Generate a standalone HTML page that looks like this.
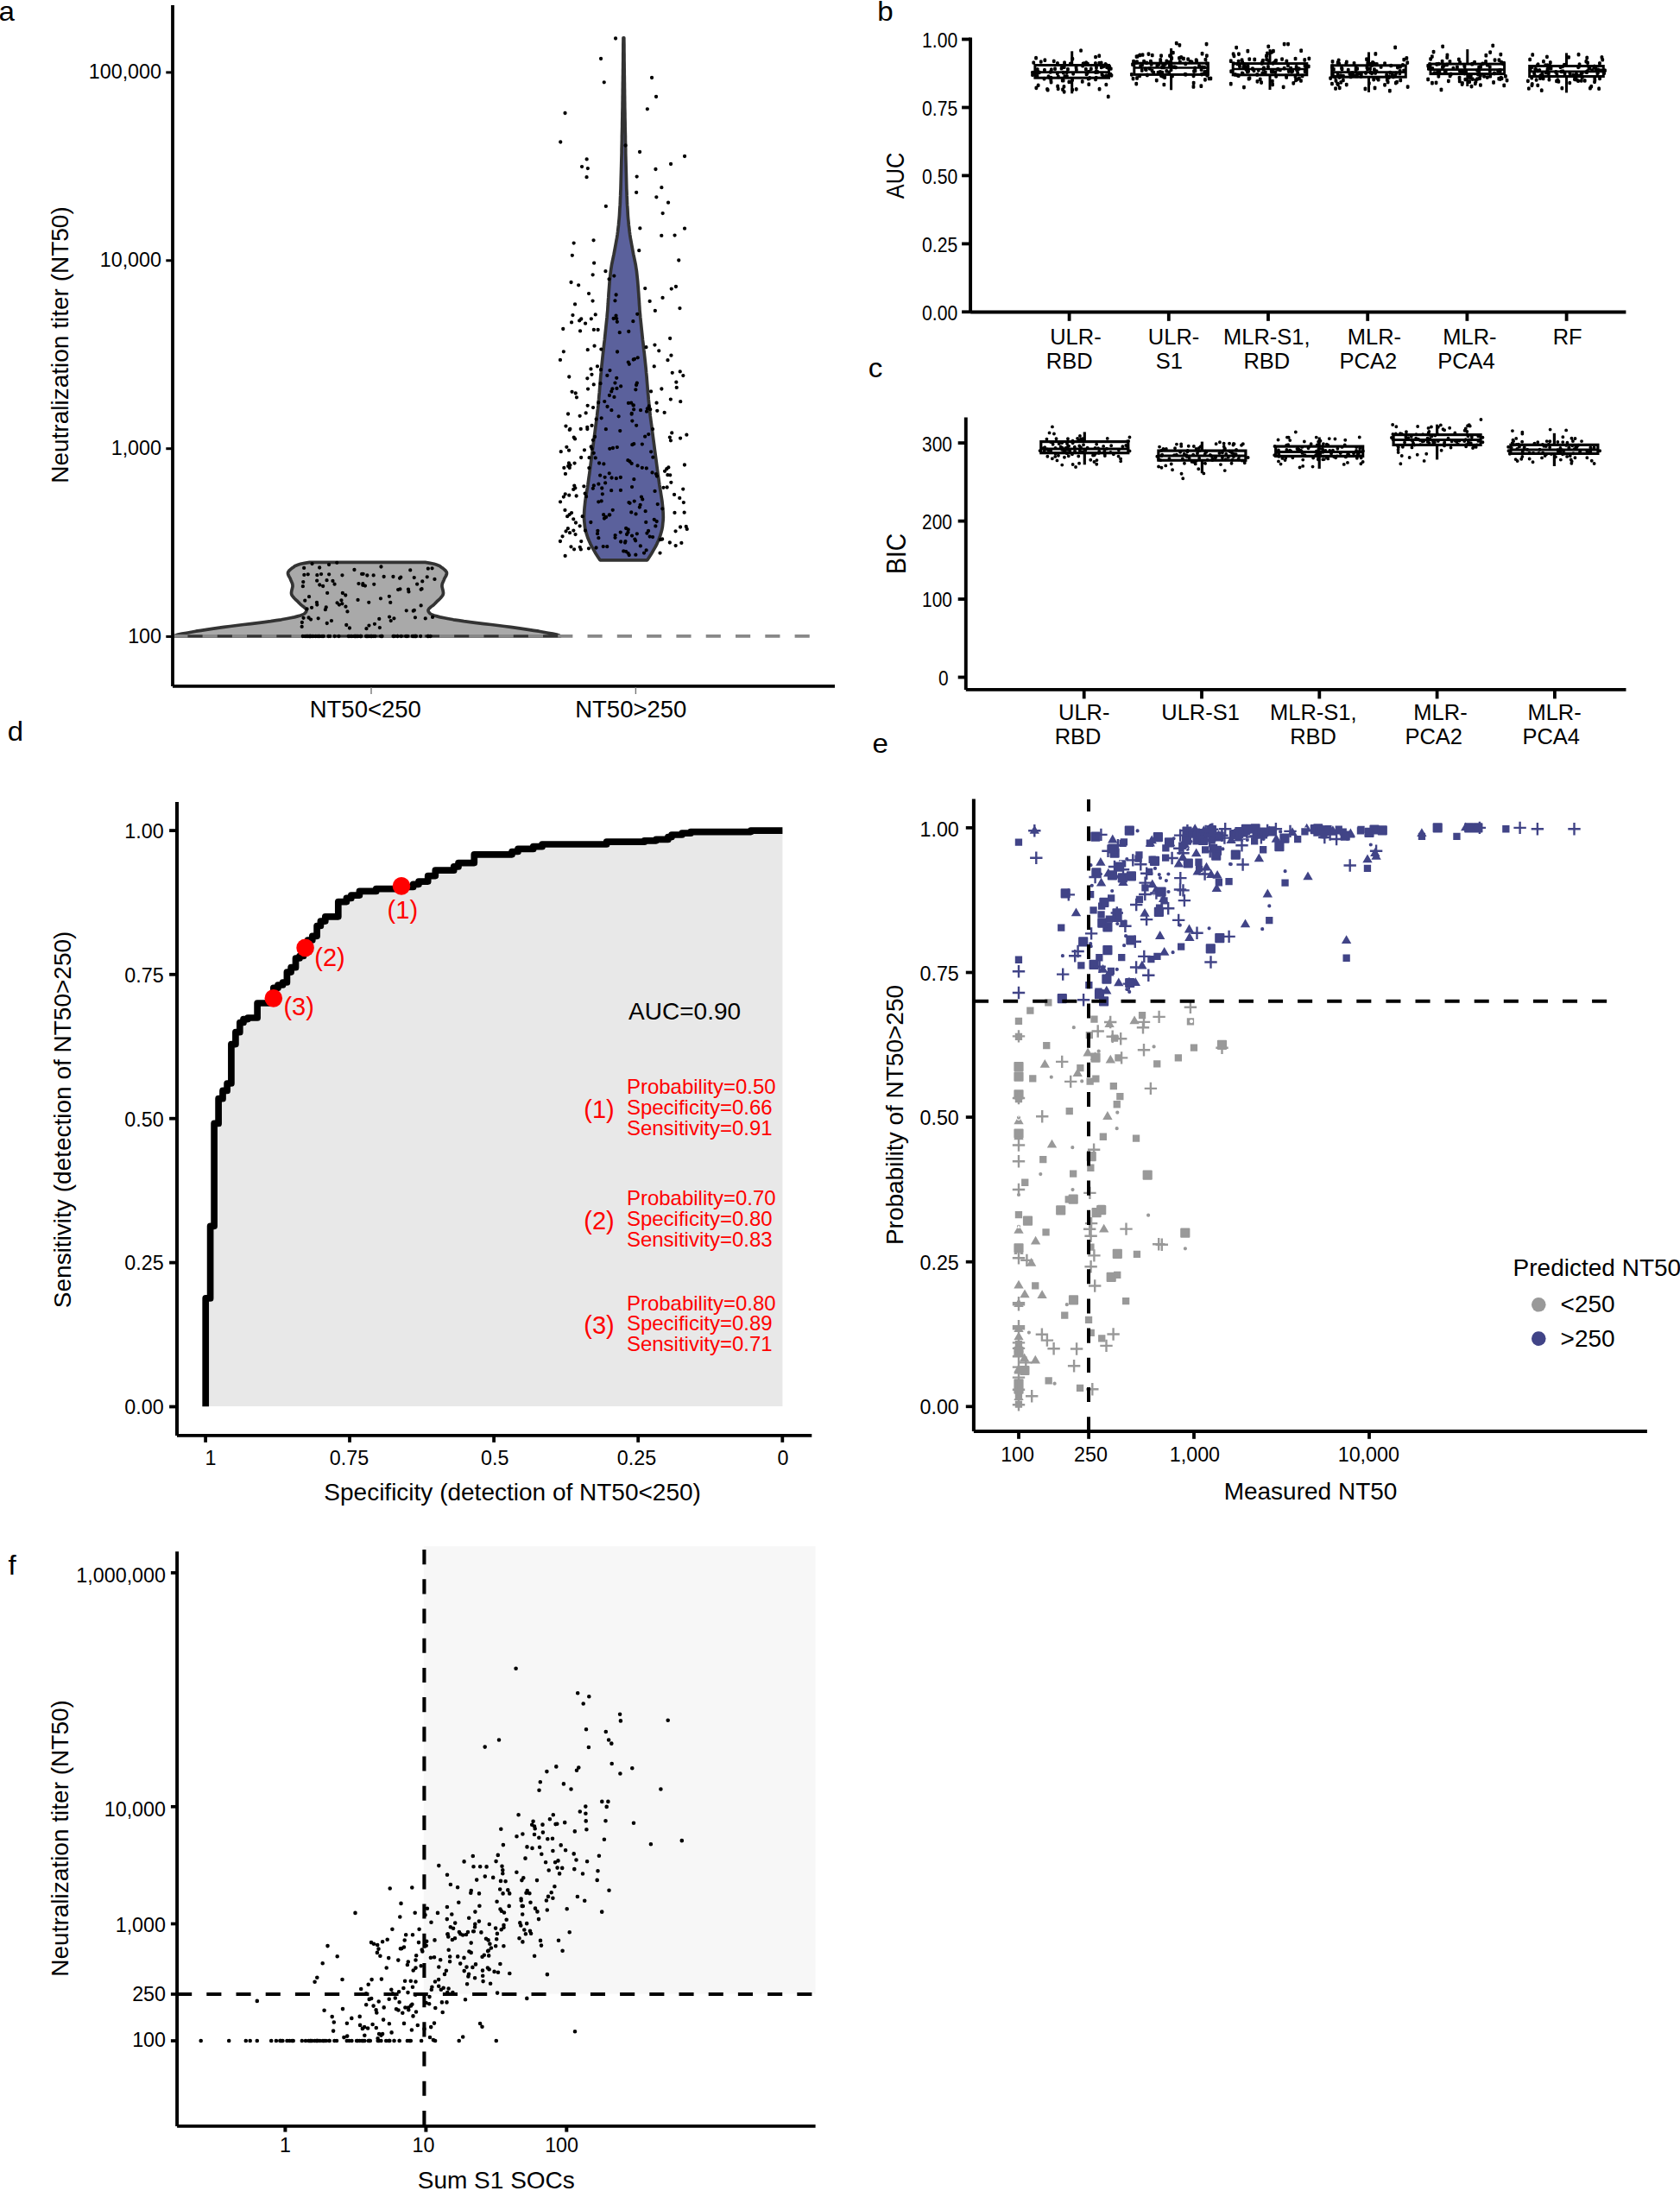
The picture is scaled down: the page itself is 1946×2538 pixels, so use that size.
<!DOCTYPE html>
<html lang="en"><head><meta charset="utf-8"><title>Figure</title>
<style>html,body{margin:0;padding:0;background:#fff}svg{display:block}text{white-space:pre}</style>
</head><body>
<svg width="1946" height="2538" viewBox="0 0 1946 2538" font-family='"Liberation Sans", Arial, Helvetica, sans-serif' fill="#000">
<rect width="1946" height="2538" fill="#fff"/>
<g id="panel-a">
<text transform="translate(-1.6,24.2) scale(1.060,1)" font-size="31.3">a</text>
<clipPath id="clipa"><rect x="200.3" y="0" width="800" height="800"/></clipPath>
<path clip-path="url(#clipa)" d="M492.5 651.4L498.3 652.4L502.9 653.3L505.9 654.3L508.3 655.2L510.1 656.2L511.4 657.2L512.8 658.1L514 659.1L515.1 660.1L516.1 661L516.8 662L517.3 662.9L517.5 663.9L517.4 664.9L517.1 665.8L516.7 666.8L516.2 667.8L515.6 668.7L515.1 669.7L514.6 670.6L514.3 671.6L513.9 672.6L513.4 673.5L513 674.5L512.6 675.4L512.3 676.4L512.1 677.4L512 678.3L512 679.3L512.2 680.3L512.4 681.2L512.6 682.2L512.9 683.1L513.1 684.1L513.3 685.1L513.4 686L513.5 687L513.4 687.9L513.1 688.9L512.6 689.9L511.9 690.8L511.2 691.8L510.3 692.8L509.4 693.7L508.4 694.7L507.3 695.6L506.3 696.6L505.4 697.6L504.4 698.5L503.5 699.5L502.5 700.5L501.3 701.4L500 702.4L498.8 703.3L497.7 704.3L496.8 705.3L496.2 706.2L496 707.2L496.2 708.1L496.7 709.1L497.6 710.1L498.5 711L500.3 712L503 713L506.2 713.9L509.9 714.9L514.4 715.8L519.6 716.8L525.2 717.8L531 718.7L537.4 719.7L544.6 720.6L552.4 721.6L560.6 722.6L568.8 723.5L576.8 724.5L584.5 725.5L591.5 726.4L598.5 727.4L605.3 728.3L611.9 729.3L618.2 730.3L624.1 731.2L629.6 732.2L635 733.2L640.3 734.1L644.7 735.1L647.6 736L649 737L202 737L203.4 736L206.3 735.1L210.7 734.1L216 733.2L221.4 732.2L226.9 731.2L232.8 730.3L239.1 729.3L245.7 728.3L252.5 727.4L259.5 726.4L266.5 725.5L274.2 724.5L282.2 723.5L290.4 722.6L298.6 721.6L306.4 720.6L313.6 719.7L320 718.7L325.8 717.8L331.4 716.8L336.6 715.8L341.1 714.9L344.8 713.9L348 713L350.7 712L352.5 711L353.4 710.1L354.3 709.1L354.8 708.1L355 707.2L354.8 706.2L354.2 705.3L353.3 704.3L352.2 703.3L351 702.4L349.7 701.4L348.5 700.5L347.5 699.5L346.6 698.5L345.6 697.6L344.7 696.6L343.7 695.6L342.6 694.7L341.6 693.7L340.7 692.8L339.8 691.8L339.1 690.8L338.4 689.9L337.9 688.9L337.6 687.9L337.5 687L337.6 686L337.7 685.1L337.9 684.1L338.1 683.1L338.4 682.2L338.6 681.2L338.8 680.3L339 679.3L339 678.3L338.9 677.4L338.7 676.4L338.4 675.4L338 674.5L337.6 673.5L337.1 672.6L336.7 671.6L336.4 670.6L335.9 669.7L335.4 668.7L334.8 667.8L334.3 666.8L333.9 665.8L333.6 664.9L333.5 663.9L333.7 662.9L334.2 662L334.9 661L335.9 660.1L337 659.1L338.2 658.1L339.6 657.2L340.9 656.2L342.7 655.2L345.1 654.3L348.1 653.3L352.7 652.4L358.5 651.4Z" fill="#a9a9a9" stroke="#333" stroke-width="3.7" stroke-linejoin="round"/>
<path d="M722.8 43.8L722.8 47.6L722.9 51.4L722.9 55.2L722.9 59L723 62.8L723 66.6L723 70.4L723.1 74.2L723.1 78L723.2 81.9L723.2 85.7L723.3 89.5L723.3 93.3L723.4 97.1L723.4 100.9L723.5 104.7L723.5 108.5L723.6 112.3L723.6 116.1L723.7 119.9L723.7 123.7L723.8 127.5L723.9 131.3L723.9 135.1L724 138.9L724.1 142.7L724.1 146.5L724.2 150.3L724.3 154.1L724.4 158L724.4 161.8L724.5 165.6L724.6 169.4L724.7 173.2L724.7 177L724.8 180.8L724.9 184.6L725 188.4L725.1 192.2L725.2 196L725.3 199.8L725.4 203.6L725.5 207.4L725.6 211.2L725.7 215L725.8 218.8L726 222.6L726.1 226.4L726.3 230.2L726.4 234.1L726.6 237.9L726.9 241.7L727.1 245.5L727.3 249.3L727.6 253.1L728 256.9L728.3 260.7L728.8 264.5L729.2 268.3L729.7 272.1L730.3 275.9L731 279.7L731.7 283.5L732.4 287.3L733.1 291.1L733.8 294.9L734.6 298.7L735.4 302.5L736.2 306.3L736.8 310.2L737.4 314L737.8 317.8L738.2 321.6L738.6 325.4L738.9 329.2L739.2 333L739.5 336.8L739.8 340.6L740 344.4L740.3 348.2L740.5 352L740.8 355.8L741 359.6L741.4 363.4L741.7 367.2L742.1 371L742.5 374.8L742.9 378.6L743.3 382.4L743.7 386.3L744.1 390.1L744.5 393.9L745 397.7L745.4 401.5L745.8 405.3L746.3 409.1L746.7 412.9L747.1 416.7L747.5 420.5L747.9 424.3L748.3 428.1L748.6 431.9L749 435.7L749.3 439.5L749.6 443.3L749.9 447.1L750.2 450.9L750.5 454.7L750.9 458.5L751.2 462.4L751.6 466.2L751.9 470L752.3 473.8L752.8 477.6L753.2 481.4L753.7 485.2L754.2 489L754.7 492.8L755.2 496.6L755.7 500.4L756.2 504.2L756.7 508L757.2 511.8L757.7 515.6L758.2 519.4L758.7 523.2L759.2 527L759.7 530.8L760.2 534.6L760.7 538.5L761.2 542.3L761.7 546.1L762.2 549.9L762.8 553.7L763.3 557.5L763.8 561.3L764.4 565.1L765.1 568.9L765.7 572.7L766.3 576.5L766.9 580.3L767.3 584.1L767.7 587.9L768 591.7L768.2 595.5L768.3 599.3L768.1 603.1L767.7 606.9L767.3 610.7L766.5 614.6L765.4 618.4L764.2 622.2L762.7 626L761 629.8L759.1 633.6L756.9 637.4L754.7 641.2L752.3 645L749.8 648.8L695 648.8L692.5 645L690.1 641.2L687.9 637.4L685.7 633.6L683.8 629.8L682.1 626L680.6 622.2L679.4 618.4L678.3 614.6L677.5 610.7L677.1 606.9L676.7 603.1L676.5 599.3L676.6 595.5L676.8 591.7L677.1 587.9L677.5 584.1L677.9 580.3L678.5 576.5L679.1 572.7L679.7 568.9L680.4 565.1L681 561.3L681.5 557.5L682 553.7L682.6 549.9L683.1 546.1L683.6 542.3L684.1 538.5L684.6 534.6L685.1 530.8L685.6 527L686.1 523.2L686.6 519.4L687.1 515.6L687.6 511.8L688.1 508L688.6 504.2L689.1 500.4L689.6 496.6L690.1 492.8L690.6 489L691.1 485.2L691.6 481.4L692 477.6L692.5 473.8L692.9 470L693.2 466.2L693.6 462.4L693.9 458.5L694.3 454.7L694.6 450.9L694.9 447.1L695.2 443.3L695.5 439.5L695.8 435.7L696.2 431.9L696.5 428.1L696.9 424.3L697.3 420.5L697.7 416.7L698.1 412.9L698.5 409.1L699 405.3L699.4 401.5L699.8 397.7L700.3 393.9L700.7 390.1L701.1 386.3L701.5 382.4L701.9 378.6L702.3 374.8L702.7 371L703.1 367.2L703.4 363.4L703.8 359.6L704 355.8L704.3 352L704.5 348.2L704.8 344.4L705 340.6L705.3 336.8L705.6 333L705.9 329.2L706.2 325.4L706.6 321.6L707 317.8L707.4 314L708 310.2L708.6 306.3L709.4 302.5L710.2 298.7L711 294.9L711.7 291.1L712.4 287.3L713.1 283.5L713.8 279.7L714.5 275.9L715.1 272.1L715.6 268.3L716 264.5L716.5 260.7L716.8 256.9L717.2 253.1L717.5 249.3L717.7 245.5L717.9 241.7L718.2 237.9L718.4 234.1L718.5 230.2L718.7 226.4L718.8 222.6L719 218.8L719.1 215L719.2 211.2L719.3 207.4L719.4 203.6L719.5 199.8L719.6 196L719.7 192.2L719.8 188.4L719.9 184.6L720 180.8L720.1 177L720.1 173.2L720.2 169.4L720.3 165.6L720.4 161.8L720.4 158L720.5 154.1L720.6 150.3L720.7 146.5L720.7 142.7L720.8 138.9L720.9 135.1L720.9 131.3L721 127.5L721.1 123.7L721.1 119.9L721.2 116.1L721.2 112.3L721.3 108.5L721.3 104.7L721.4 100.9L721.4 97.1L721.5 93.3L721.5 89.5L721.6 85.7L721.6 81.9L721.7 78L721.7 74.2L721.8 70.4L721.8 66.6L721.8 62.8L721.9 59L721.9 55.2L721.9 51.4L722 47.6L722 43.8Z" fill="#5b619c" stroke="#333" stroke-width="3.7" stroke-linejoin="round"/>
<line x1="200.3" y1="736.9" x2="938" y2="736.9" stroke="#888" stroke-width="3.6" stroke-dasharray="17.15 17.15"/>
<path fill="#000" d="M365 672.7a2.1 2.1 0 1 0 4.3 0a2.1 2.1 0 1 0 -4.3 0zM423.2 666.5a2.1 2.1 0 1 0 4.3 0a2.1 2.1 0 1 0 -4.3 0zM439.3 656.5a2.1 2.1 0 1 0 4.3 0a2.1 2.1 0 1 0 -4.3 0zM349.4 715.8a2.1 2.1 0 1 0 4.3 0a2.1 2.1 0 1 0 -4.3 0zM368.1 677.5a2.1 2.1 0 1 0 4.3 0a2.1 2.1 0 1 0 -4.3 0zM490.6 716.4a2.1 2.1 0 1 0 4.3 0a2.1 2.1 0 1 0 -4.3 0zM355.9 691.2a2.1 2.1 0 1 0 4.3 0a2.1 2.1 0 1 0 -4.3 0zM365.2 666.2a2.1 2.1 0 1 0 4.3 0a2.1 2.1 0 1 0 -4.3 0zM493.7 658.7a2.1 2.1 0 1 0 4.3 0a2.1 2.1 0 1 0 -4.3 0zM442.5 668a2.1 2.1 0 1 0 4.3 0a2.1 2.1 0 1 0 -4.3 0zM402.8 727.5a2.1 2.1 0 1 0 4.3 0a2.1 2.1 0 1 0 -4.3 0zM425.1 697.8a2.1 2.1 0 1 0 4.3 0a2.1 2.1 0 1 0 -4.3 0zM448.9 714.6a2.1 2.1 0 1 0 4.3 0a2.1 2.1 0 1 0 -4.3 0zM388.1 651.8a2.1 2.1 0 1 0 4.3 0a2.1 2.1 0 1 0 -4.3 0zM366.5 716.3a2.1 2.1 0 1 0 4.3 0a2.1 2.1 0 1 0 -4.3 0zM468.6 707.3a2.1 2.1 0 1 0 4.3 0a2.1 2.1 0 1 0 -4.3 0zM450.1 697.9a2.1 2.1 0 1 0 4.3 0a2.1 2.1 0 1 0 -4.3 0zM425.3 724.6a2.1 2.1 0 1 0 4.3 0a2.1 2.1 0 1 0 -4.3 0zM473.1 660.4a2.1 2.1 0 1 0 4.3 0a2.1 2.1 0 1 0 -4.3 0zM431.1 676.8a2.1 2.1 0 1 0 4.3 0a2.1 2.1 0 1 0 -4.3 0zM498.9 714.9a2.1 2.1 0 1 0 4.3 0a2.1 2.1 0 1 0 -4.3 0zM377 686.9a2.1 2.1 0 1 0 4.3 0a2.1 2.1 0 1 0 -4.3 0zM431.8 722.8a2.1 2.1 0 1 0 4.3 0a2.1 2.1 0 1 0 -4.3 0zM420.8 678.6a2.1 2.1 0 1 0 4.3 0a2.1 2.1 0 1 0 -4.3 0zM400.3 708.4a2.1 2.1 0 1 0 4.3 0a2.1 2.1 0 1 0 -4.3 0zM437.7 727.1a2.1 2.1 0 1 0 4.3 0a2.1 2.1 0 1 0 -4.3 0zM381.8 719.1a2.1 2.1 0 1 0 4.3 0a2.1 2.1 0 1 0 -4.3 0zM470.8 682.7a2.1 2.1 0 1 0 4.3 0a2.1 2.1 0 1 0 -4.3 0zM481 676.7a2.1 2.1 0 1 0 4.3 0a2.1 2.1 0 1 0 -4.3 0zM365.1 700.6a2.1 2.1 0 1 0 4.3 0a2.1 2.1 0 1 0 -4.3 0zM418.2 676.2a2.1 2.1 0 1 0 4.3 0a2.1 2.1 0 1 0 -4.3 0zM388.4 698.3a2.1 2.1 0 1 0 4.3 0a2.1 2.1 0 1 0 -4.3 0zM357.9 717.6a2.1 2.1 0 1 0 4.3 0a2.1 2.1 0 1 0 -4.3 0zM485.5 701.4a2.1 2.1 0 1 0 4.3 0a2.1 2.1 0 1 0 -4.3 0zM412.4 694.9a2.1 2.1 0 1 0 4.3 0a2.1 2.1 0 1 0 -4.3 0zM368 657.5a2.1 2.1 0 1 0 4.3 0a2.1 2.1 0 1 0 -4.3 0zM450.6 719.1a2.1 2.1 0 1 0 4.3 0a2.1 2.1 0 1 0 -4.3 0zM376.6 722a2.1 2.1 0 1 0 4.3 0a2.1 2.1 0 1 0 -4.3 0zM486.4 682.2a2.1 2.1 0 1 0 4.3 0a2.1 2.1 0 1 0 -4.3 0zM378.9 654.1a2.1 2.1 0 1 0 4.3 0a2.1 2.1 0 1 0 -4.3 0zM350 657.9a2.1 2.1 0 1 0 4.3 0a2.1 2.1 0 1 0 -4.3 0zM376.4 672.2a2.1 2.1 0 1 0 4.3 0a2.1 2.1 0 1 0 -4.3 0zM399.1 724a2.1 2.1 0 1 0 4.3 0a2.1 2.1 0 1 0 -4.3 0zM418.5 664.8a2.1 2.1 0 1 0 4.3 0a2.1 2.1 0 1 0 -4.3 0zM487.1 673.4a2.1 2.1 0 1 0 4.3 0a2.1 2.1 0 1 0 -4.3 0zM454.3 716.3a2.1 2.1 0 1 0 4.3 0a2.1 2.1 0 1 0 -4.3 0zM398.1 689.5a2.1 2.1 0 1 0 4.3 0a2.1 2.1 0 1 0 -4.3 0zM347.5 725.9a2.1 2.1 0 1 0 4.3 0a2.1 2.1 0 1 0 -4.3 0zM369.9 665.1a2.1 2.1 0 1 0 4.3 0a2.1 2.1 0 1 0 -4.3 0zM501.3 670.9a2.1 2.1 0 1 0 4.3 0a2.1 2.1 0 1 0 -4.3 0zM417 664.9a2.1 2.1 0 1 0 4.3 0a2.1 2.1 0 1 0 -4.3 0zM453.3 668a2.1 2.1 0 1 0 4.3 0a2.1 2.1 0 1 0 -4.3 0zM353.4 705.4a2.1 2.1 0 1 0 4.3 0a2.1 2.1 0 1 0 -4.3 0zM350.2 665.9a2.1 2.1 0 1 0 4.3 0a2.1 2.1 0 1 0 -4.3 0zM477.7 706.9a2.1 2.1 0 1 0 4.3 0a2.1 2.1 0 1 0 -4.3 0zM437.1 716.9a2.1 2.1 0 1 0 4.3 0a2.1 2.1 0 1 0 -4.3 0zM393.3 695.3a2.1 2.1 0 1 0 4.3 0a2.1 2.1 0 1 0 -4.3 0zM394.7 687a2.1 2.1 0 1 0 4.3 0a2.1 2.1 0 1 0 -4.3 0zM358.9 703.8a2.1 2.1 0 1 0 4.3 0a2.1 2.1 0 1 0 -4.3 0zM372 679a2.1 2.1 0 1 0 4.3 0a2.1 2.1 0 1 0 -4.3 0zM348.7 679.2a2.1 2.1 0 1 0 4.3 0a2.1 2.1 0 1 0 -4.3 0zM476.6 707.7a2.1 2.1 0 1 0 4.3 0a2.1 2.1 0 1 0 -4.3 0zM418.1 677.8a2.1 2.1 0 1 0 4.3 0a2.1 2.1 0 1 0 -4.3 0zM364.8 697.9a2.1 2.1 0 1 0 4.3 0a2.1 2.1 0 1 0 -4.3 0zM460.9 669.8a2.1 2.1 0 1 0 4.3 0a2.1 2.1 0 1 0 -4.3 0zM375.6 703.4a2.1 2.1 0 1 0 4.3 0a2.1 2.1 0 1 0 -4.3 0zM354.6 665.3a2.1 2.1 0 1 0 4.3 0a2.1 2.1 0 1 0 -4.3 0zM438.8 693.3a2.1 2.1 0 1 0 4.3 0a2.1 2.1 0 1 0 -4.3 0zM485.5 682.8a2.1 2.1 0 1 0 4.3 0a2.1 2.1 0 1 0 -4.3 0zM349.1 674.1a2.1 2.1 0 1 0 4.3 0a2.1 2.1 0 1 0 -4.3 0zM471.3 685.4a2.1 2.1 0 1 0 4.3 0a2.1 2.1 0 1 0 -4.3 0zM374.7 706.2a2.1 2.1 0 1 0 4.3 0a2.1 2.1 0 1 0 -4.3 0zM359.4 653.1a2.1 2.1 0 1 0 4.3 0a2.1 2.1 0 1 0 -4.3 0zM347.7 721a2.1 2.1 0 1 0 4.3 0a2.1 2.1 0 1 0 -4.3 0zM390.8 700.6a2.1 2.1 0 1 0 4.3 0a2.1 2.1 0 1 0 -4.3 0zM459 683.1a2.1 2.1 0 1 0 4.3 0a2.1 2.1 0 1 0 -4.3 0zM422.3 728.2a2.1 2.1 0 1 0 4.3 0a2.1 2.1 0 1 0 -4.3 0zM478.8 715.3a2.1 2.1 0 1 0 4.3 0a2.1 2.1 0 1 0 -4.3 0zM379 665.3a2.1 2.1 0 1 0 4.3 0a2.1 2.1 0 1 0 -4.3 0zM394.3 666.3a2.1 2.1 0 1 0 4.3 0a2.1 2.1 0 1 0 -4.3 0zM385.4 676.7a2.1 2.1 0 1 0 4.3 0a2.1 2.1 0 1 0 -4.3 0zM498.4 658.3a2.1 2.1 0 1 0 4.3 0a2.1 2.1 0 1 0 -4.3 0zM492.6 668.3a2.1 2.1 0 1 0 4.3 0a2.1 2.1 0 1 0 -4.3 0zM398.3 702.7a2.1 2.1 0 1 0 4.3 0a2.1 2.1 0 1 0 -4.3 0zM413.3 676.1a2.1 2.1 0 1 0 4.3 0a2.1 2.1 0 1 0 -4.3 0zM394.2 699.3a2.1 2.1 0 1 0 4.3 0a2.1 2.1 0 1 0 -4.3 0zM462.1 668.7a2.1 2.1 0 1 0 4.3 0a2.1 2.1 0 1 0 -4.3 0zM351.1 695.7a2.1 2.1 0 1 0 4.3 0a2.1 2.1 0 1 0 -4.3 0zM355.4 715.5a2.1 2.1 0 1 0 4.3 0a2.1 2.1 0 1 0 -4.3 0zM408.3 660a2.1 2.1 0 1 0 4.3 0a2.1 2.1 0 1 0 -4.3 0zM383.3 672.9a2.1 2.1 0 1 0 4.3 0a2.1 2.1 0 1 0 -4.3 0zM477.6 669.1a2.1 2.1 0 1 0 4.3 0a2.1 2.1 0 1 0 -4.3 0zM461.3 682.4a2.1 2.1 0 1 0 4.3 0a2.1 2.1 0 1 0 -4.3 0zM430.5 666.4a2.1 2.1 0 1 0 4.3 0a2.1 2.1 0 1 0 -4.3 0zM448.7 690.8a2.1 2.1 0 1 0 4.3 0a2.1 2.1 0 1 0 -4.3 0zM432.3 737a2.1 2.1 0 1 0 4.3 0a2.1 2.1 0 1 0 -4.3 0zM356.3 737a2.1 2.1 0 1 0 4.3 0a2.1 2.1 0 1 0 -4.3 0zM430.7 737a2.1 2.1 0 1 0 4.3 0a2.1 2.1 0 1 0 -4.3 0zM469.9 737a2.1 2.1 0 1 0 4.3 0a2.1 2.1 0 1 0 -4.3 0zM453.4 737a2.1 2.1 0 1 0 4.3 0a2.1 2.1 0 1 0 -4.3 0zM468.1 737a2.1 2.1 0 1 0 4.3 0a2.1 2.1 0 1 0 -4.3 0zM421.8 737a2.1 2.1 0 1 0 4.3 0a2.1 2.1 0 1 0 -4.3 0zM479.9 737a2.1 2.1 0 1 0 4.3 0a2.1 2.1 0 1 0 -4.3 0zM363.2 737a2.1 2.1 0 1 0 4.3 0a2.1 2.1 0 1 0 -4.3 0zM479.1 737a2.1 2.1 0 1 0 4.3 0a2.1 2.1 0 1 0 -4.3 0zM402.9 737a2.1 2.1 0 1 0 4.3 0a2.1 2.1 0 1 0 -4.3 0zM360.6 737a2.1 2.1 0 1 0 4.3 0a2.1 2.1 0 1 0 -4.3 0zM440.4 737a2.1 2.1 0 1 0 4.3 0a2.1 2.1 0 1 0 -4.3 0zM415.5 737a2.1 2.1 0 1 0 4.3 0a2.1 2.1 0 1 0 -4.3 0zM411.5 737a2.1 2.1 0 1 0 4.3 0a2.1 2.1 0 1 0 -4.3 0zM475.5 737a2.1 2.1 0 1 0 4.3 0a2.1 2.1 0 1 0 -4.3 0zM367.7 737a2.1 2.1 0 1 0 4.3 0a2.1 2.1 0 1 0 -4.3 0zM440 737a2.1 2.1 0 1 0 4.3 0a2.1 2.1 0 1 0 -4.3 0zM409.3 737a2.1 2.1 0 1 0 4.3 0a2.1 2.1 0 1 0 -4.3 0zM426.6 737a2.1 2.1 0 1 0 4.3 0a2.1 2.1 0 1 0 -4.3 0zM422.3 737a2.1 2.1 0 1 0 4.3 0a2.1 2.1 0 1 0 -4.3 0zM367.1 737a2.1 2.1 0 1 0 4.3 0a2.1 2.1 0 1 0 -4.3 0zM424.2 737a2.1 2.1 0 1 0 4.3 0a2.1 2.1 0 1 0 -4.3 0zM477 737a2.1 2.1 0 1 0 4.3 0a2.1 2.1 0 1 0 -4.3 0zM372.7 737a2.1 2.1 0 1 0 4.3 0a2.1 2.1 0 1 0 -4.3 0zM348.6 737a2.1 2.1 0 1 0 4.3 0a2.1 2.1 0 1 0 -4.3 0zM357.1 737a2.1 2.1 0 1 0 4.3 0a2.1 2.1 0 1 0 -4.3 0zM416.3 737a2.1 2.1 0 1 0 4.3 0a2.1 2.1 0 1 0 -4.3 0zM494 737a2.1 2.1 0 1 0 4.3 0a2.1 2.1 0 1 0 -4.3 0zM353.5 737a2.1 2.1 0 1 0 4.3 0a2.1 2.1 0 1 0 -4.3 0zM496.5 737a2.1 2.1 0 1 0 4.3 0a2.1 2.1 0 1 0 -4.3 0zM427.8 737a2.1 2.1 0 1 0 4.3 0a2.1 2.1 0 1 0 -4.3 0zM365 737a2.1 2.1 0 1 0 4.3 0a2.1 2.1 0 1 0 -4.3 0zM410 737a2.1 2.1 0 1 0 4.3 0a2.1 2.1 0 1 0 -4.3 0zM378.2 737a2.1 2.1 0 1 0 4.3 0a2.1 2.1 0 1 0 -4.3 0zM454.7 737a2.1 2.1 0 1 0 4.3 0a2.1 2.1 0 1 0 -4.3 0zM428.6 737a2.1 2.1 0 1 0 4.3 0a2.1 2.1 0 1 0 -4.3 0zM390.3 737a2.1 2.1 0 1 0 4.3 0a2.1 2.1 0 1 0 -4.3 0zM385.4 737a2.1 2.1 0 1 0 4.3 0a2.1 2.1 0 1 0 -4.3 0zM477.8 737a2.1 2.1 0 1 0 4.3 0a2.1 2.1 0 1 0 -4.3 0zM462.6 737a2.1 2.1 0 1 0 4.3 0a2.1 2.1 0 1 0 -4.3 0zM412.7 737a2.1 2.1 0 1 0 4.3 0a2.1 2.1 0 1 0 -4.3 0zM408.1 737a2.1 2.1 0 1 0 4.3 0a2.1 2.1 0 1 0 -4.3 0zM458.2 737a2.1 2.1 0 1 0 4.3 0a2.1 2.1 0 1 0 -4.3 0zM493.4 737a2.1 2.1 0 1 0 4.3 0a2.1 2.1 0 1 0 -4.3 0zM358.9 737a2.1 2.1 0 1 0 4.3 0a2.1 2.1 0 1 0 -4.3 0zM370.9 737a2.1 2.1 0 1 0 4.3 0a2.1 2.1 0 1 0 -4.3 0zM401.6 737a2.1 2.1 0 1 0 4.3 0a2.1 2.1 0 1 0 -4.3 0zM423.5 737a2.1 2.1 0 1 0 4.3 0a2.1 2.1 0 1 0 -4.3 0zM357.6 737a2.1 2.1 0 1 0 4.3 0a2.1 2.1 0 1 0 -4.3 0zM354.9 737a2.1 2.1 0 1 0 4.3 0a2.1 2.1 0 1 0 -4.3 0zM380 737a2.1 2.1 0 1 0 4.3 0a2.1 2.1 0 1 0 -4.3 0zM405.1 737a2.1 2.1 0 1 0 4.3 0a2.1 2.1 0 1 0 -4.3 0zM458.5 737a2.1 2.1 0 1 0 4.3 0a2.1 2.1 0 1 0 -4.3 0zM438.9 737a2.1 2.1 0 1 0 4.3 0a2.1 2.1 0 1 0 -4.3 0zM351.3 737a2.1 2.1 0 1 0 4.3 0a2.1 2.1 0 1 0 -4.3 0zM353.6 737a2.1 2.1 0 1 0 4.3 0a2.1 2.1 0 1 0 -4.3 0zM415.1 737a2.1 2.1 0 1 0 4.3 0a2.1 2.1 0 1 0 -4.3 0zM479 737a2.1 2.1 0 1 0 4.3 0a2.1 2.1 0 1 0 -4.3 0zM485 737a2.1 2.1 0 1 0 4.3 0a2.1 2.1 0 1 0 -4.3 0z"/>
<path fill="#000" d="M758.4 466.7a2.1 2.1 0 1 0 4.3 0a2.1 2.1 0 1 0 -4.3 0zM675.8 614.6a2.1 2.1 0 1 0 4.3 0a2.1 2.1 0 1 0 -4.3 0zM762.7 625.2a2.1 2.1 0 1 0 4.3 0a2.1 2.1 0 1 0 -4.3 0zM714.5 482.3a2.1 2.1 0 1 0 4.3 0a2.1 2.1 0 1 0 -4.3 0zM646.9 581.3a2.1 2.1 0 1 0 4.3 0a2.1 2.1 0 1 0 -4.3 0zM729 466.7a2.1 2.1 0 1 0 4.3 0a2.1 2.1 0 1 0 -4.3 0zM711.4 365.7a2.1 2.1 0 1 0 4.3 0a2.1 2.1 0 1 0 -4.3 0zM656.8 536.5a2.1 2.1 0 1 0 4.3 0a2.1 2.1 0 1 0 -4.3 0zM684.5 318.3a2.1 2.1 0 1 0 4.3 0a2.1 2.1 0 1 0 -4.3 0zM691.2 560.7a2.1 2.1 0 1 0 4.3 0a2.1 2.1 0 1 0 -4.3 0zM697 596.2a2.1 2.1 0 1 0 4.3 0a2.1 2.1 0 1 0 -4.3 0zM750.5 621.6a2.1 2.1 0 1 0 4.3 0a2.1 2.1 0 1 0 -4.3 0zM670.6 496.9a2.1 2.1 0 1 0 4.3 0a2.1 2.1 0 1 0 -4.3 0zM711.5 341.5a2.1 2.1 0 1 0 4.3 0a2.1 2.1 0 1 0 -4.3 0zM735.7 618.3a2.1 2.1 0 1 0 4.3 0a2.1 2.1 0 1 0 -4.3 0zM785.9 610.5a2.1 2.1 0 1 0 4.3 0a2.1 2.1 0 1 0 -4.3 0zM662.9 636.3a2.1 2.1 0 1 0 4.3 0a2.1 2.1 0 1 0 -4.3 0zM657.6 541.9a2.1 2.1 0 1 0 4.3 0a2.1 2.1 0 1 0 -4.3 0zM674.2 563.3a2.1 2.1 0 1 0 4.3 0a2.1 2.1 0 1 0 -4.3 0zM678.5 469.8a2.1 2.1 0 1 0 4.3 0a2.1 2.1 0 1 0 -4.3 0zM669.9 383.4a2.1 2.1 0 1 0 4.3 0a2.1 2.1 0 1 0 -4.3 0zM657.1 436.5a2.1 2.1 0 1 0 4.3 0a2.1 2.1 0 1 0 -4.3 0zM676.9 575.2a2.1 2.1 0 1 0 4.3 0a2.1 2.1 0 1 0 -4.3 0zM678.9 450.6a2.1 2.1 0 1 0 4.3 0a2.1 2.1 0 1 0 -4.3 0zM716.8 567.9a2.1 2.1 0 1 0 4.3 0a2.1 2.1 0 1 0 -4.3 0zM741.7 514.6a2.1 2.1 0 1 0 4.3 0a2.1 2.1 0 1 0 -4.3 0zM699.7 497.2a2.1 2.1 0 1 0 4.3 0a2.1 2.1 0 1 0 -4.3 0zM670.7 636.4a2.1 2.1 0 1 0 4.3 0a2.1 2.1 0 1 0 -4.3 0zM659.9 373.4a2.1 2.1 0 1 0 4.3 0a2.1 2.1 0 1 0 -4.3 0zM684.8 509.8a2.1 2.1 0 1 0 4.3 0a2.1 2.1 0 1 0 -4.3 0zM671.1 369.5a2.1 2.1 0 1 0 4.3 0a2.1 2.1 0 1 0 -4.3 0zM717 627.5a2.1 2.1 0 1 0 4.3 0a2.1 2.1 0 1 0 -4.3 0zM774.8 510.3a2.1 2.1 0 1 0 4.3 0a2.1 2.1 0 1 0 -4.3 0zM751.9 453.4a2.1 2.1 0 1 0 4.3 0a2.1 2.1 0 1 0 -4.3 0zM675.9 374.7a2.1 2.1 0 1 0 4.3 0a2.1 2.1 0 1 0 -4.3 0zM651.2 541.9a2.1 2.1 0 1 0 4.3 0a2.1 2.1 0 1 0 -4.3 0zM655.9 479.5a2.1 2.1 0 1 0 4.3 0a2.1 2.1 0 1 0 -4.3 0zM710.3 348.3a2.1 2.1 0 1 0 4.3 0a2.1 2.1 0 1 0 -4.3 0zM699.7 238.9a2.1 2.1 0 1 0 4.3 0a2.1 2.1 0 1 0 -4.3 0zM746.9 476.7a2.1 2.1 0 1 0 4.3 0a2.1 2.1 0 1 0 -4.3 0zM658.3 538.8a2.1 2.1 0 1 0 4.3 0a2.1 2.1 0 1 0 -4.3 0zM683.5 519.8a2.1 2.1 0 1 0 4.3 0a2.1 2.1 0 1 0 -4.3 0zM747.3 617.7a2.1 2.1 0 1 0 4.3 0a2.1 2.1 0 1 0 -4.3 0zM729.9 620.6a2.1 2.1 0 1 0 4.3 0a2.1 2.1 0 1 0 -4.3 0zM722.3 627.1a2.1 2.1 0 1 0 4.3 0a2.1 2.1 0 1 0 -4.3 0zM779.3 593.9a2.1 2.1 0 1 0 4.3 0a2.1 2.1 0 1 0 -4.3 0zM662.6 506.7a2.1 2.1 0 1 0 4.3 0a2.1 2.1 0 1 0 -4.3 0zM674.8 521.3a2.1 2.1 0 1 0 4.3 0a2.1 2.1 0 1 0 -4.3 0zM729.6 478.9a2.1 2.1 0 1 0 4.3 0a2.1 2.1 0 1 0 -4.3 0zM729.5 479.7a2.1 2.1 0 1 0 4.3 0a2.1 2.1 0 1 0 -4.3 0zM790.9 264.7a2.1 2.1 0 1 0 4.3 0a2.1 2.1 0 1 0 -4.3 0zM790.5 593.7a2.1 2.1 0 1 0 4.3 0a2.1 2.1 0 1 0 -4.3 0zM732.8 415.9a2.1 2.1 0 1 0 4.3 0a2.1 2.1 0 1 0 -4.3 0zM758.2 228.3a2.1 2.1 0 1 0 4.3 0a2.1 2.1 0 1 0 -4.3 0zM749.1 503.1a2.1 2.1 0 1 0 4.3 0a2.1 2.1 0 1 0 -4.3 0zM665.5 574.5a2.1 2.1 0 1 0 4.3 0a2.1 2.1 0 1 0 -4.3 0zM735 492.8a2.1 2.1 0 1 0 4.3 0a2.1 2.1 0 1 0 -4.3 0zM691.1 466.3a2.1 2.1 0 1 0 4.3 0a2.1 2.1 0 1 0 -4.3 0zM699 559.4a2.1 2.1 0 1 0 4.3 0a2.1 2.1 0 1 0 -4.3 0zM669 371.4a2.1 2.1 0 1 0 4.3 0a2.1 2.1 0 1 0 -4.3 0zM647.1 164.5a2.1 2.1 0 1 0 4.3 0a2.1 2.1 0 1 0 -4.3 0zM772.2 541.4a2.1 2.1 0 1 0 4.3 0a2.1 2.1 0 1 0 -4.3 0zM752 523.3a2.1 2.1 0 1 0 4.3 0a2.1 2.1 0 1 0 -4.3 0zM757.2 609.4a2.1 2.1 0 1 0 4.3 0a2.1 2.1 0 1 0 -4.3 0zM688.5 485.6a2.1 2.1 0 1 0 4.3 0a2.1 2.1 0 1 0 -4.3 0zM707.6 590.8a2.1 2.1 0 1 0 4.3 0a2.1 2.1 0 1 0 -4.3 0zM671.9 193.1a2.1 2.1 0 1 0 4.3 0a2.1 2.1 0 1 0 -4.3 0zM735 222.9a2.1 2.1 0 1 0 4.3 0a2.1 2.1 0 1 0 -4.3 0zM770.1 543.2a2.1 2.1 0 1 0 4.3 0a2.1 2.1 0 1 0 -4.3 0zM761.1 406.3a2.1 2.1 0 1 0 4.3 0a2.1 2.1 0 1 0 -4.3 0zM784.1 301.5a2.1 2.1 0 1 0 4.3 0a2.1 2.1 0 1 0 -4.3 0zM684.4 348.6a2.1 2.1 0 1 0 4.3 0a2.1 2.1 0 1 0 -4.3 0zM749.6 470.4a2.1 2.1 0 1 0 4.3 0a2.1 2.1 0 1 0 -4.3 0zM664.6 455.5a2.1 2.1 0 1 0 4.3 0a2.1 2.1 0 1 0 -4.3 0zM725.2 533.2a2.1 2.1 0 1 0 4.3 0a2.1 2.1 0 1 0 -4.3 0zM662.2 614.6a2.1 2.1 0 1 0 4.3 0a2.1 2.1 0 1 0 -4.3 0zM725.8 466.9a2.1 2.1 0 1 0 4.3 0a2.1 2.1 0 1 0 -4.3 0zM726.1 384a2.1 2.1 0 1 0 4.3 0a2.1 2.1 0 1 0 -4.3 0zM697.2 537.4a2.1 2.1 0 1 0 4.3 0a2.1 2.1 0 1 0 -4.3 0zM697.6 95.3a2.1 2.1 0 1 0 4.3 0a2.1 2.1 0 1 0 -4.3 0zM751.1 474.2a2.1 2.1 0 1 0 4.3 0a2.1 2.1 0 1 0 -4.3 0zM717 447.4a2.1 2.1 0 1 0 4.3 0a2.1 2.1 0 1 0 -4.3 0zM706.2 475.2a2.1 2.1 0 1 0 4.3 0a2.1 2.1 0 1 0 -4.3 0zM662.5 281.6a2.1 2.1 0 1 0 4.3 0a2.1 2.1 0 1 0 -4.3 0zM687.6 530.4a2.1 2.1 0 1 0 4.3 0a2.1 2.1 0 1 0 -4.3 0zM771.2 550.2a2.1 2.1 0 1 0 4.3 0a2.1 2.1 0 1 0 -4.3 0zM789.7 582.1a2.1 2.1 0 1 0 4.3 0a2.1 2.1 0 1 0 -4.3 0zM701.1 633.2a2.1 2.1 0 1 0 4.3 0a2.1 2.1 0 1 0 -4.3 0zM774.7 462.6a2.1 2.1 0 1 0 4.3 0a2.1 2.1 0 1 0 -4.3 0zM775.2 558.8a2.1 2.1 0 1 0 4.3 0a2.1 2.1 0 1 0 -4.3 0zM678.1 494.8a2.1 2.1 0 1 0 4.3 0a2.1 2.1 0 1 0 -4.3 0zM686.4 400.7a2.1 2.1 0 1 0 4.3 0a2.1 2.1 0 1 0 -4.3 0zM748.9 615a2.1 2.1 0 1 0 4.3 0a2.1 2.1 0 1 0 -4.3 0zM691.1 581.3a2.1 2.1 0 1 0 4.3 0a2.1 2.1 0 1 0 -4.3 0zM787.2 628.9a2.1 2.1 0 1 0 4.3 0a2.1 2.1 0 1 0 -4.3 0zM699.9 599a2.1 2.1 0 1 0 4.3 0a2.1 2.1 0 1 0 -4.3 0zM753.9 622.1a2.1 2.1 0 1 0 4.3 0a2.1 2.1 0 1 0 -4.3 0zM750.5 348.9a2.1 2.1 0 1 0 4.3 0a2.1 2.1 0 1 0 -4.3 0zM677.5 184.4a2.1 2.1 0 1 0 4.3 0a2.1 2.1 0 1 0 -4.3 0zM774 392a2.1 2.1 0 1 0 4.3 0a2.1 2.1 0 1 0 -4.3 0zM694.5 484.3a2.1 2.1 0 1 0 4.3 0a2.1 2.1 0 1 0 -4.3 0zM662.1 566.9a2.1 2.1 0 1 0 4.3 0a2.1 2.1 0 1 0 -4.3 0zM653.3 493.6a2.1 2.1 0 1 0 4.3 0a2.1 2.1 0 1 0 -4.3 0zM712.7 518.1a2.1 2.1 0 1 0 4.3 0a2.1 2.1 0 1 0 -4.3 0zM739.5 584.9a2.1 2.1 0 1 0 4.3 0a2.1 2.1 0 1 0 -4.3 0zM686 304.7a2.1 2.1 0 1 0 4.3 0a2.1 2.1 0 1 0 -4.3 0zM770.5 564.5a2.1 2.1 0 1 0 4.3 0a2.1 2.1 0 1 0 -4.3 0zM685.4 278.3a2.1 2.1 0 1 0 4.3 0a2.1 2.1 0 1 0 -4.3 0zM771.3 417.2a2.1 2.1 0 1 0 4.3 0a2.1 2.1 0 1 0 -4.3 0zM650.7 575.6a2.1 2.1 0 1 0 4.3 0a2.1 2.1 0 1 0 -4.3 0zM684.7 565.8a2.1 2.1 0 1 0 4.3 0a2.1 2.1 0 1 0 -4.3 0zM669.5 481.8a2.1 2.1 0 1 0 4.3 0a2.1 2.1 0 1 0 -4.3 0zM712.1 437.8a2.1 2.1 0 1 0 4.3 0a2.1 2.1 0 1 0 -4.3 0zM697.8 600.5a2.1 2.1 0 1 0 4.3 0a2.1 2.1 0 1 0 -4.3 0zM704.3 429.1a2.1 2.1 0 1 0 4.3 0a2.1 2.1 0 1 0 -4.3 0zM771.9 234.7a2.1 2.1 0 1 0 4.3 0a2.1 2.1 0 1 0 -4.3 0zM731.6 416.5a2.1 2.1 0 1 0 4.3 0a2.1 2.1 0 1 0 -4.3 0zM735.5 204.6a2.1 2.1 0 1 0 4.3 0a2.1 2.1 0 1 0 -4.3 0zM703.6 596.5a2.1 2.1 0 1 0 4.3 0a2.1 2.1 0 1 0 -4.3 0zM765.4 344.9a2.1 2.1 0 1 0 4.3 0a2.1 2.1 0 1 0 -4.3 0zM720.1 638.4a2.1 2.1 0 1 0 4.3 0a2.1 2.1 0 1 0 -4.3 0zM756.3 399.6a2.1 2.1 0 1 0 4.3 0a2.1 2.1 0 1 0 -4.3 0zM781.2 442.7a2.1 2.1 0 1 0 4.3 0a2.1 2.1 0 1 0 -4.3 0zM736.4 539.4a2.1 2.1 0 1 0 4.3 0a2.1 2.1 0 1 0 -4.3 0zM710.3 443.6a2.1 2.1 0 1 0 4.3 0a2.1 2.1 0 1 0 -4.3 0zM684.9 472.1a2.1 2.1 0 1 0 4.3 0a2.1 2.1 0 1 0 -4.3 0zM780.8 332a2.1 2.1 0 1 0 4.3 0a2.1 2.1 0 1 0 -4.3 0zM759.1 475.8a2.1 2.1 0 1 0 4.3 0a2.1 2.1 0 1 0 -4.3 0zM764.2 217.2a2.1 2.1 0 1 0 4.3 0a2.1 2.1 0 1 0 -4.3 0zM678.6 405.2a2.1 2.1 0 1 0 4.3 0a2.1 2.1 0 1 0 -4.3 0zM710.5 620.1a2.1 2.1 0 1 0 4.3 0a2.1 2.1 0 1 0 -4.3 0zM776.6 431.8a2.1 2.1 0 1 0 4.3 0a2.1 2.1 0 1 0 -4.3 0zM682.3 427.4a2.1 2.1 0 1 0 4.3 0a2.1 2.1 0 1 0 -4.3 0zM766.3 564.8a2.1 2.1 0 1 0 4.3 0a2.1 2.1 0 1 0 -4.3 0zM725.6 613.5a2.1 2.1 0 1 0 4.3 0a2.1 2.1 0 1 0 -4.3 0zM678.2 438.3a2.1 2.1 0 1 0 4.3 0a2.1 2.1 0 1 0 -4.3 0zM701.4 471a2.1 2.1 0 1 0 4.3 0a2.1 2.1 0 1 0 -4.3 0zM657.1 573.7a2.1 2.1 0 1 0 4.3 0a2.1 2.1 0 1 0 -4.3 0zM745.5 592.2a2.1 2.1 0 1 0 4.3 0a2.1 2.1 0 1 0 -4.3 0zM753.4 547.4a2.1 2.1 0 1 0 4.3 0a2.1 2.1 0 1 0 -4.3 0zM650.1 381a2.1 2.1 0 1 0 4.3 0a2.1 2.1 0 1 0 -4.3 0zM690.5 382a2.1 2.1 0 1 0 4.3 0a2.1 2.1 0 1 0 -4.3 0zM759.6 584.1a2.1 2.1 0 1 0 4.3 0a2.1 2.1 0 1 0 -4.3 0zM675.5 571.7a2.1 2.1 0 1 0 4.3 0a2.1 2.1 0 1 0 -4.3 0zM725.3 616.7a2.1 2.1 0 1 0 4.3 0a2.1 2.1 0 1 0 -4.3 0zM765.1 589.3a2.1 2.1 0 1 0 4.3 0a2.1 2.1 0 1 0 -4.3 0zM730.2 487.6a2.1 2.1 0 1 0 4.3 0a2.1 2.1 0 1 0 -4.3 0zM663.9 352.4a2.1 2.1 0 1 0 4.3 0a2.1 2.1 0 1 0 -4.3 0zM780.4 615.3a2.1 2.1 0 1 0 4.3 0a2.1 2.1 0 1 0 -4.3 0zM756.4 568.9a2.1 2.1 0 1 0 4.3 0a2.1 2.1 0 1 0 -4.3 0zM729.5 536.9a2.1 2.1 0 1 0 4.3 0a2.1 2.1 0 1 0 -4.3 0zM695.1 565.5a2.1 2.1 0 1 0 4.3 0a2.1 2.1 0 1 0 -4.3 0zM732 474.3a2.1 2.1 0 1 0 4.3 0a2.1 2.1 0 1 0 -4.3 0zM703.8 458a2.1 2.1 0 1 0 4.3 0a2.1 2.1 0 1 0 -4.3 0zM663.4 536.6a2.1 2.1 0 1 0 4.3 0a2.1 2.1 0 1 0 -4.3 0zM663.9 508.4a2.1 2.1 0 1 0 4.3 0a2.1 2.1 0 1 0 -4.3 0zM652.6 572.3a2.1 2.1 0 1 0 4.3 0a2.1 2.1 0 1 0 -4.3 0zM671.1 627.1a2.1 2.1 0 1 0 4.3 0a2.1 2.1 0 1 0 -4.3 0zM682.2 605a2.1 2.1 0 1 0 4.3 0a2.1 2.1 0 1 0 -4.3 0zM739.9 475.2a2.1 2.1 0 1 0 4.3 0a2.1 2.1 0 1 0 -4.3 0zM731.7 469.5a2.1 2.1 0 1 0 4.3 0a2.1 2.1 0 1 0 -4.3 0zM733.2 624.6a2.1 2.1 0 1 0 4.3 0a2.1 2.1 0 1 0 -4.3 0zM767.5 477.9a2.1 2.1 0 1 0 4.3 0a2.1 2.1 0 1 0 -4.3 0zM659.9 594.1a2.1 2.1 0 1 0 4.3 0a2.1 2.1 0 1 0 -4.3 0zM703.4 323.3a2.1 2.1 0 1 0 4.3 0a2.1 2.1 0 1 0 -4.3 0zM657.6 497.9a2.1 2.1 0 1 0 4.3 0a2.1 2.1 0 1 0 -4.3 0zM707.8 519a2.1 2.1 0 1 0 4.3 0a2.1 2.1 0 1 0 -4.3 0zM657.5 596.1a2.1 2.1 0 1 0 4.3 0a2.1 2.1 0 1 0 -4.3 0zM655.7 612.2a2.1 2.1 0 1 0 4.3 0a2.1 2.1 0 1 0 -4.3 0zM661.3 365.1a2.1 2.1 0 1 0 4.3 0a2.1 2.1 0 1 0 -4.3 0zM703.6 548.3a2.1 2.1 0 1 0 4.3 0a2.1 2.1 0 1 0 -4.3 0zM758.8 551.6a2.1 2.1 0 1 0 4.3 0a2.1 2.1 0 1 0 -4.3 0zM687.6 364.4a2.1 2.1 0 1 0 4.3 0a2.1 2.1 0 1 0 -4.3 0zM755.6 601.8a2.1 2.1 0 1 0 4.3 0a2.1 2.1 0 1 0 -4.3 0zM680.4 530.2a2.1 2.1 0 1 0 4.3 0a2.1 2.1 0 1 0 -4.3 0zM688.4 634.5a2.1 2.1 0 1 0 4.3 0a2.1 2.1 0 1 0 -4.3 0zM715.6 385.2a2.1 2.1 0 1 0 4.3 0a2.1 2.1 0 1 0 -4.3 0zM656.9 521.7a2.1 2.1 0 1 0 4.3 0a2.1 2.1 0 1 0 -4.3 0zM712.3 449.9a2.1 2.1 0 1 0 4.3 0a2.1 2.1 0 1 0 -4.3 0zM732.2 555.2a2.1 2.1 0 1 0 4.3 0a2.1 2.1 0 1 0 -4.3 0zM767.9 545.8a2.1 2.1 0 1 0 4.3 0a2.1 2.1 0 1 0 -4.3 0zM654.2 517.8a2.1 2.1 0 1 0 4.3 0a2.1 2.1 0 1 0 -4.3 0zM764.2 450.5a2.1 2.1 0 1 0 4.3 0a2.1 2.1 0 1 0 -4.3 0zM730.2 515.2a2.1 2.1 0 1 0 4.3 0a2.1 2.1 0 1 0 -4.3 0zM731.4 469.4a2.1 2.1 0 1 0 4.3 0a2.1 2.1 0 1 0 -4.3 0zM653.4 615.4a2.1 2.1 0 1 0 4.3 0a2.1 2.1 0 1 0 -4.3 0zM776.1 501.4a2.1 2.1 0 1 0 4.3 0a2.1 2.1 0 1 0 -4.3 0zM686.9 506a2.1 2.1 0 1 0 4.3 0a2.1 2.1 0 1 0 -4.3 0zM726.7 421.8a2.1 2.1 0 1 0 4.3 0a2.1 2.1 0 1 0 -4.3 0zM725.6 419.6a2.1 2.1 0 1 0 4.3 0a2.1 2.1 0 1 0 -4.3 0zM780.5 632.1a2.1 2.1 0 1 0 4.3 0a2.1 2.1 0 1 0 -4.3 0zM734.9 446a2.1 2.1 0 1 0 4.3 0a2.1 2.1 0 1 0 -4.3 0zM792.6 610a2.1 2.1 0 1 0 4.3 0a2.1 2.1 0 1 0 -4.3 0zM680.2 542.1a2.1 2.1 0 1 0 4.3 0a2.1 2.1 0 1 0 -4.3 0zM743.9 640.6a2.1 2.1 0 1 0 4.3 0a2.1 2.1 0 1 0 -4.3 0zM731.2 372.2a2.1 2.1 0 1 0 4.3 0a2.1 2.1 0 1 0 -4.3 0zM721.9 628.6a2.1 2.1 0 1 0 4.3 0a2.1 2.1 0 1 0 -4.3 0zM738.7 587.6a2.1 2.1 0 1 0 4.3 0a2.1 2.1 0 1 0 -4.3 0zM727.3 534.5a2.1 2.1 0 1 0 4.3 0a2.1 2.1 0 1 0 -4.3 0zM695.7 572.3a2.1 2.1 0 1 0 4.3 0a2.1 2.1 0 1 0 -4.3 0zM740.8 575.6a2.1 2.1 0 1 0 4.3 0a2.1 2.1 0 1 0 -4.3 0zM658.2 497a2.1 2.1 0 1 0 4.3 0a2.1 2.1 0 1 0 -4.3 0zM716.7 553a2.1 2.1 0 1 0 4.3 0a2.1 2.1 0 1 0 -4.3 0zM712.9 407.5a2.1 2.1 0 1 0 4.3 0a2.1 2.1 0 1 0 -4.3 0zM677.4 205.2a2.1 2.1 0 1 0 4.3 0a2.1 2.1 0 1 0 -4.3 0zM729.9 564.1a2.1 2.1 0 1 0 4.3 0a2.1 2.1 0 1 0 -4.3 0zM745 505.7a2.1 2.1 0 1 0 4.3 0a2.1 2.1 0 1 0 -4.3 0zM664.4 619.1a2.1 2.1 0 1 0 4.3 0a2.1 2.1 0 1 0 -4.3 0zM689.8 424.3a2.1 2.1 0 1 0 4.3 0a2.1 2.1 0 1 0 -4.3 0zM655 598.2a2.1 2.1 0 1 0 4.3 0a2.1 2.1 0 1 0 -4.3 0zM734.2 642.7a2.1 2.1 0 1 0 4.3 0a2.1 2.1 0 1 0 -4.3 0zM657.9 617.2a2.1 2.1 0 1 0 4.3 0a2.1 2.1 0 1 0 -4.3 0zM679.8 635.3a2.1 2.1 0 1 0 4.3 0a2.1 2.1 0 1 0 -4.3 0zM712.1 369.1a2.1 2.1 0 1 0 4.3 0a2.1 2.1 0 1 0 -4.3 0zM712.7 372.8a2.1 2.1 0 1 0 4.3 0a2.1 2.1 0 1 0 -4.3 0zM650.7 407.3a2.1 2.1 0 1 0 4.3 0a2.1 2.1 0 1 0 -4.3 0zM786.1 465.2a2.1 2.1 0 1 0 4.3 0a2.1 2.1 0 1 0 -4.3 0zM679.9 340.1a2.1 2.1 0 1 0 4.3 0a2.1 2.1 0 1 0 -4.3 0zM736.1 363.8a2.1 2.1 0 1 0 4.3 0a2.1 2.1 0 1 0 -4.3 0zM678.7 195.1a2.1 2.1 0 1 0 4.3 0a2.1 2.1 0 1 0 -4.3 0zM734 626.3a2.1 2.1 0 1 0 4.3 0a2.1 2.1 0 1 0 -4.3 0zM698.1 465.1a2.1 2.1 0 1 0 4.3 0a2.1 2.1 0 1 0 -4.3 0zM693 550.7a2.1 2.1 0 1 0 4.3 0a2.1 2.1 0 1 0 -4.3 0zM716.1 499.1a2.1 2.1 0 1 0 4.3 0a2.1 2.1 0 1 0 -4.3 0zM732.6 580.6a2.1 2.1 0 1 0 4.3 0a2.1 2.1 0 1 0 -4.3 0zM734.4 595.4a2.1 2.1 0 1 0 4.3 0a2.1 2.1 0 1 0 -4.3 0zM747.7 473.5a2.1 2.1 0 1 0 4.3 0a2.1 2.1 0 1 0 -4.3 0zM685.6 524.8a2.1 2.1 0 1 0 4.3 0a2.1 2.1 0 1 0 -4.3 0zM659.4 327a2.1 2.1 0 1 0 4.3 0a2.1 2.1 0 1 0 -4.3 0zM683.3 433.8a2.1 2.1 0 1 0 4.3 0a2.1 2.1 0 1 0 -4.3 0zM694.2 404.6a2.1 2.1 0 1 0 4.3 0a2.1 2.1 0 1 0 -4.3 0zM735.7 443.7a2.1 2.1 0 1 0 4.3 0a2.1 2.1 0 1 0 -4.3 0zM707.2 450.4a2.1 2.1 0 1 0 4.3 0a2.1 2.1 0 1 0 -4.3 0zM691.9 536.5a2.1 2.1 0 1 0 4.3 0a2.1 2.1 0 1 0 -4.3 0zM660.4 453.8a2.1 2.1 0 1 0 4.3 0a2.1 2.1 0 1 0 -4.3 0zM734.2 451.3a2.1 2.1 0 1 0 4.3 0a2.1 2.1 0 1 0 -4.3 0zM662.1 601.3a2.1 2.1 0 1 0 4.3 0a2.1 2.1 0 1 0 -4.3 0zM722.4 168.5a2.1 2.1 0 1 0 4.3 0a2.1 2.1 0 1 0 -4.3 0zM747.7 126.3a2.1 2.1 0 1 0 4.3 0a2.1 2.1 0 1 0 -4.3 0zM738.1 290.2a2.1 2.1 0 1 0 4.3 0a2.1 2.1 0 1 0 -4.3 0zM669.5 609.3a2.1 2.1 0 1 0 4.3 0a2.1 2.1 0 1 0 -4.3 0zM698.5 552.8a2.1 2.1 0 1 0 4.3 0a2.1 2.1 0 1 0 -4.3 0zM785.1 576.9a2.1 2.1 0 1 0 4.3 0a2.1 2.1 0 1 0 -4.3 0zM659.3 633.3a2.1 2.1 0 1 0 4.3 0a2.1 2.1 0 1 0 -4.3 0zM746.3 402.2a2.1 2.1 0 1 0 4.3 0a2.1 2.1 0 1 0 -4.3 0zM710.4 622.8a2.1 2.1 0 1 0 4.3 0a2.1 2.1 0 1 0 -4.3 0zM736.6 414.3a2.1 2.1 0 1 0 4.3 0a2.1 2.1 0 1 0 -4.3 0zM704.1 519.8a2.1 2.1 0 1 0 4.3 0a2.1 2.1 0 1 0 -4.3 0zM664.2 565.3a2.1 2.1 0 1 0 4.3 0a2.1 2.1 0 1 0 -4.3 0zM729.1 593.4a2.1 2.1 0 1 0 4.3 0a2.1 2.1 0 1 0 -4.3 0zM646.8 416.9a2.1 2.1 0 1 0 4.3 0a2.1 2.1 0 1 0 -4.3 0zM773.7 506.6a2.1 2.1 0 1 0 4.3 0a2.1 2.1 0 1 0 -4.3 0zM764.1 272.9a2.1 2.1 0 1 0 4.3 0a2.1 2.1 0 1 0 -4.3 0zM701.2 434.9a2.1 2.1 0 1 0 4.3 0a2.1 2.1 0 1 0 -4.3 0zM725.4 640.8a2.1 2.1 0 1 0 4.3 0a2.1 2.1 0 1 0 -4.3 0zM723.9 619a2.1 2.1 0 1 0 4.3 0a2.1 2.1 0 1 0 -4.3 0zM790.8 538.5a2.1 2.1 0 1 0 4.3 0a2.1 2.1 0 1 0 -4.3 0zM652.3 590.9a2.1 2.1 0 1 0 4.3 0a2.1 2.1 0 1 0 -4.3 0zM689.9 618.2a2.1 2.1 0 1 0 4.3 0a2.1 2.1 0 1 0 -4.3 0zM706.1 453.4a2.1 2.1 0 1 0 4.3 0a2.1 2.1 0 1 0 -4.3 0zM762.4 640.6a2.1 2.1 0 1 0 4.3 0a2.1 2.1 0 1 0 -4.3 0zM753.9 497.1a2.1 2.1 0 1 0 4.3 0a2.1 2.1 0 1 0 -4.3 0zM708.5 369a2.1 2.1 0 1 0 4.3 0a2.1 2.1 0 1 0 -4.3 0zM647.6 523.2a2.1 2.1 0 1 0 4.3 0a2.1 2.1 0 1 0 -4.3 0zM741.7 541.8a2.1 2.1 0 1 0 4.3 0a2.1 2.1 0 1 0 -4.3 0zM706 568.2a2.1 2.1 0 1 0 4.3 0a2.1 2.1 0 1 0 -4.3 0zM663.1 562.6a2.1 2.1 0 1 0 4.3 0a2.1 2.1 0 1 0 -4.3 0zM739.2 264.4a2.1 2.1 0 1 0 4.3 0a2.1 2.1 0 1 0 -4.3 0zM711.7 554.2a2.1 2.1 0 1 0 4.3 0a2.1 2.1 0 1 0 -4.3 0zM691.2 623.2a2.1 2.1 0 1 0 4.3 0a2.1 2.1 0 1 0 -4.3 0zM685.7 562.4a2.1 2.1 0 1 0 4.3 0a2.1 2.1 0 1 0 -4.3 0zM722.9 638.8a2.1 2.1 0 1 0 4.3 0a2.1 2.1 0 1 0 -4.3 0zM682.5 517.5a2.1 2.1 0 1 0 4.3 0a2.1 2.1 0 1 0 -4.3 0zM704.1 596.4a2.1 2.1 0 1 0 4.3 0a2.1 2.1 0 1 0 -4.3 0zM785.3 357.1a2.1 2.1 0 1 0 4.3 0a2.1 2.1 0 1 0 -4.3 0zM716.6 616.6a2.1 2.1 0 1 0 4.3 0a2.1 2.1 0 1 0 -4.3 0zM683.4 492.9a2.1 2.1 0 1 0 4.3 0a2.1 2.1 0 1 0 -4.3 0zM723 612a2.1 2.1 0 1 0 4.3 0a2.1 2.1 0 1 0 -4.3 0zM781.6 448.9a2.1 2.1 0 1 0 4.3 0a2.1 2.1 0 1 0 -4.3 0zM774.1 550.3a2.1 2.1 0 1 0 4.3 0a2.1 2.1 0 1 0 -4.3 0zM746.1 604.9a2.1 2.1 0 1 0 4.3 0a2.1 2.1 0 1 0 -4.3 0zM778.9 572.9a2.1 2.1 0 1 0 4.3 0a2.1 2.1 0 1 0 -4.3 0zM757.8 549.1a2.1 2.1 0 1 0 4.3 0a2.1 2.1 0 1 0 -4.3 0zM746.5 637.3a2.1 2.1 0 1 0 4.3 0a2.1 2.1 0 1 0 -4.3 0zM709.2 319.6a2.1 2.1 0 1 0 4.3 0a2.1 2.1 0 1 0 -4.3 0zM668 330.3a2.1 2.1 0 1 0 4.3 0a2.1 2.1 0 1 0 -4.3 0zM754.2 529.7a2.1 2.1 0 1 0 4.3 0a2.1 2.1 0 1 0 -4.3 0zM739.7 632.4a2.1 2.1 0 1 0 4.3 0a2.1 2.1 0 1 0 -4.3 0zM789.1 566.6a2.1 2.1 0 1 0 4.3 0a2.1 2.1 0 1 0 -4.3 0zM693.4 444.2a2.1 2.1 0 1 0 4.3 0a2.1 2.1 0 1 0 -4.3 0zM775.6 334.6a2.1 2.1 0 1 0 4.3 0a2.1 2.1 0 1 0 -4.3 0zM678.2 497a2.1 2.1 0 1 0 4.3 0a2.1 2.1 0 1 0 -4.3 0zM785.9 507.6a2.1 2.1 0 1 0 4.3 0a2.1 2.1 0 1 0 -4.3 0zM793.2 503.7a2.1 2.1 0 1 0 4.3 0a2.1 2.1 0 1 0 -4.3 0zM652.8 548.9a2.1 2.1 0 1 0 4.3 0a2.1 2.1 0 1 0 -4.3 0zM693.9 428.2a2.1 2.1 0 1 0 4.3 0a2.1 2.1 0 1 0 -4.3 0zM793.6 612.9a2.1 2.1 0 1 0 4.3 0a2.1 2.1 0 1 0 -4.3 0zM789.2 435.1a2.1 2.1 0 1 0 4.3 0a2.1 2.1 0 1 0 -4.3 0zM745.1 334.1a2.1 2.1 0 1 0 4.3 0a2.1 2.1 0 1 0 -4.3 0zM665.8 460.3a2.1 2.1 0 1 0 4.3 0a2.1 2.1 0 1 0 -4.3 0zM646.8 627a2.1 2.1 0 1 0 4.3 0a2.1 2.1 0 1 0 -4.3 0zM682.7 369.3a2.1 2.1 0 1 0 4.3 0a2.1 2.1 0 1 0 -4.3 0zM785.6 430.4a2.1 2.1 0 1 0 4.3 0a2.1 2.1 0 1 0 -4.3 0zM765 624.5a2.1 2.1 0 1 0 4.3 0a2.1 2.1 0 1 0 -4.3 0zM709.3 459.9a2.1 2.1 0 1 0 4.3 0a2.1 2.1 0 1 0 -4.3 0zM758.5 604a2.1 2.1 0 1 0 4.3 0a2.1 2.1 0 1 0 -4.3 0zM779.4 272.6a2.1 2.1 0 1 0 4.3 0a2.1 2.1 0 1 0 -4.3 0zM690.2 614.8a2.1 2.1 0 1 0 4.3 0a2.1 2.1 0 1 0 -4.3 0zM775.3 411.7a2.1 2.1 0 1 0 4.3 0a2.1 2.1 0 1 0 -4.3 0zM685.7 381.9a2.1 2.1 0 1 0 4.3 0a2.1 2.1 0 1 0 -4.3 0zM694.5 580.4a2.1 2.1 0 1 0 4.3 0a2.1 2.1 0 1 0 -4.3 0zM652.5 643.9a2.1 2.1 0 1 0 4.3 0a2.1 2.1 0 1 0 -4.3 0zM669.6 633.8a2.1 2.1 0 1 0 4.3 0a2.1 2.1 0 1 0 -4.3 0zM727.4 582.8a2.1 2.1 0 1 0 4.3 0a2.1 2.1 0 1 0 -4.3 0zM649.4 621.3a2.1 2.1 0 1 0 4.3 0a2.1 2.1 0 1 0 -4.3 0zM726.6 643a2.1 2.1 0 1 0 4.3 0a2.1 2.1 0 1 0 -4.3 0zM671 530a2.1 2.1 0 1 0 4.3 0a2.1 2.1 0 1 0 -4.3 0zM756.7 359.9a2.1 2.1 0 1 0 4.3 0a2.1 2.1 0 1 0 -4.3 0zM664.8 605.5a2.1 2.1 0 1 0 4.3 0a2.1 2.1 0 1 0 -4.3 0zM676.5 478.4a2.1 2.1 0 1 0 4.3 0a2.1 2.1 0 1 0 -4.3 0zM685.6 445.4a2.1 2.1 0 1 0 4.3 0a2.1 2.1 0 1 0 -4.3 0zM732.1 514.2a2.1 2.1 0 1 0 4.3 0a2.1 2.1 0 1 0 -4.3 0zM765.5 247.1a2.1 2.1 0 1 0 4.3 0a2.1 2.1 0 1 0 -4.3 0zM757.3 196a2.1 2.1 0 1 0 4.3 0a2.1 2.1 0 1 0 -4.3 0zM755.6 424.4a2.1 2.1 0 1 0 4.3 0a2.1 2.1 0 1 0 -4.3 0zM746.7 542.4a2.1 2.1 0 1 0 4.3 0a2.1 2.1 0 1 0 -4.3 0zM726.3 582.1a2.1 2.1 0 1 0 4.3 0a2.1 2.1 0 1 0 -4.3 0zM696.6 633.1a2.1 2.1 0 1 0 4.3 0a2.1 2.1 0 1 0 -4.3 0zM672.5 598.2a2.1 2.1 0 1 0 4.3 0a2.1 2.1 0 1 0 -4.3 0zM773.7 628.5a2.1 2.1 0 1 0 4.3 0a2.1 2.1 0 1 0 -4.3 0zM706.4 553.5a2.1 2.1 0 1 0 4.3 0a2.1 2.1 0 1 0 -4.3 0zM742.1 578.4a2.1 2.1 0 1 0 4.3 0a2.1 2.1 0 1 0 -4.3 0zM656 540a2.1 2.1 0 1 0 4.3 0a2.1 2.1 0 1 0 -4.3 0zM699.3 314.2a2.1 2.1 0 1 0 4.3 0a2.1 2.1 0 1 0 -4.3 0zM660.7 295.8a2.1 2.1 0 1 0 4.3 0a2.1 2.1 0 1 0 -4.3 0zM710.9 44.5a2.1 2.1 0 1 0 4.3 0a2.1 2.1 0 1 0 -4.3 0zM693.9 68a2.1 2.1 0 1 0 4.3 0a2.1 2.1 0 1 0 -4.3 0zM752.9 90a2.1 2.1 0 1 0 4.3 0a2.1 2.1 0 1 0 -4.3 0zM757.9 112a2.1 2.1 0 1 0 4.3 0a2.1 2.1 0 1 0 -4.3 0zM652.4 131a2.1 2.1 0 1 0 4.3 0a2.1 2.1 0 1 0 -4.3 0zM738.9 176a2.1 2.1 0 1 0 4.3 0a2.1 2.1 0 1 0 -4.3 0zM790.9 181a2.1 2.1 0 1 0 4.3 0a2.1 2.1 0 1 0 -4.3 0zM774.9 190a2.1 2.1 0 1 0 4.3 0a2.1 2.1 0 1 0 -4.3 0z"/>
<line x1="200" y1="6" x2="200" y2="794.9" stroke="#000" stroke-width="3.8"/>
<line x1="200" y1="794.9" x2="967" y2="794.9" stroke="#000" stroke-width="3.9"/>
<line x1="192.3" y1="83.9" x2="200.3" y2="83.9" stroke="#000" stroke-width="3"/>
<text transform="translate(187,91.3)" font-size="23.3" text-anchor="end">100,000</text>
<line x1="192.3" y1="301.8" x2="200.3" y2="301.8" stroke="#000" stroke-width="3"/>
<text transform="translate(187,309.2)" font-size="23.3" text-anchor="end">10,000</text>
<line x1="192.3" y1="519.7" x2="200.3" y2="519.7" stroke="#000" stroke-width="3"/>
<text transform="translate(187,527.1)" font-size="23.3" text-anchor="end">1,000</text>
<line x1="192.3" y1="737.4" x2="200.3" y2="737.4" stroke="#000" stroke-width="3"/>
<text transform="translate(187,744.8)" font-size="23.3" text-anchor="end">100</text>
<line x1="430" y1="796" x2="430" y2="804" stroke="#777" stroke-width="1.4"/>
<line x1="736.4" y1="796" x2="736.4" y2="804" stroke="#777" stroke-width="1.4"/>
<text transform="translate(423.3,831.4)" font-size="27.5" text-anchor="middle">NT50&lt;250</text>
<text transform="translate(730.8,831.4)" font-size="27.5" text-anchor="middle">NT50&gt;250</text>
<text transform="translate(78.6,399.5) rotate(-90)" font-size="28" text-anchor="middle">Neutralization titer (NT50)</text>
</g>
<g id="panel-b">
<text transform="translate(1016.2,23.5) scale(1.060,1)" font-size="31.3">b</text>
<path fill="#000" d="M1267.8 76a1.9 1.9 0 1 0 3.7 0a1.9 1.9 0 1 0 -3.7 0zM1268.1 78.1a1.9 1.9 0 1 0 3.7 0a1.9 1.9 0 1 0 -3.7 0zM1241.3 85.3a1.9 1.9 0 1 0 3.7 0a1.9 1.9 0 1 0 -3.7 0zM1220.2 79.6a1.9 1.9 0 1 0 3.7 0a1.9 1.9 0 1 0 -3.7 0zM1199 84.7a1.9 1.9 0 1 0 3.7 0a1.9 1.9 0 1 0 -3.7 0zM1229.2 103.6a1.9 1.9 0 1 0 3.7 0a1.9 1.9 0 1 0 -3.7 0zM1231.5 88.6a1.9 1.9 0 1 0 3.7 0a1.9 1.9 0 1 0 -3.7 0zM1198.2 67.1a1.9 1.9 0 1 0 3.7 0a1.9 1.9 0 1 0 -3.7 0zM1198.5 101.8a1.9 1.9 0 1 0 3.7 0a1.9 1.9 0 1 0 -3.7 0zM1285.6 87.3a1.9 1.9 0 1 0 3.7 0a1.9 1.9 0 1 0 -3.7 0zM1253.8 73.7a1.9 1.9 0 1 0 3.7 0a1.9 1.9 0 1 0 -3.7 0zM1215.5 93.1a1.9 1.9 0 1 0 3.7 0a1.9 1.9 0 1 0 -3.7 0zM1233.9 83.8a1.9 1.9 0 1 0 3.7 0a1.9 1.9 0 1 0 -3.7 0zM1283.3 77.1a1.9 1.9 0 1 0 3.7 0a1.9 1.9 0 1 0 -3.7 0zM1276.3 76.9a1.9 1.9 0 1 0 3.7 0a1.9 1.9 0 1 0 -3.7 0zM1271.4 73.2a1.9 1.9 0 1 0 3.7 0a1.9 1.9 0 1 0 -3.7 0zM1230 84.1a1.9 1.9 0 1 0 3.7 0a1.9 1.9 0 1 0 -3.7 0zM1239.2 94.8a1.9 1.9 0 1 0 3.7 0a1.9 1.9 0 1 0 -3.7 0zM1256 80.2a1.9 1.9 0 1 0 3.7 0a1.9 1.9 0 1 0 -3.7 0zM1199.6 88a1.9 1.9 0 1 0 3.7 0a1.9 1.9 0 1 0 -3.7 0zM1244.9 103.3a1.9 1.9 0 1 0 3.7 0a1.9 1.9 0 1 0 -3.7 0zM1218.9 70.8a1.9 1.9 0 1 0 3.7 0a1.9 1.9 0 1 0 -3.7 0zM1274.6 86.3a1.9 1.9 0 1 0 3.7 0a1.9 1.9 0 1 0 -3.7 0zM1199.9 80.4a1.9 1.9 0 1 0 3.7 0a1.9 1.9 0 1 0 -3.7 0zM1256.3 72.5a1.9 1.9 0 1 0 3.7 0a1.9 1.9 0 1 0 -3.7 0zM1273.8 72.8a1.9 1.9 0 1 0 3.7 0a1.9 1.9 0 1 0 -3.7 0zM1214.9 83.4a1.9 1.9 0 1 0 3.7 0a1.9 1.9 0 1 0 -3.7 0zM1276.1 88.2a1.9 1.9 0 1 0 3.7 0a1.9 1.9 0 1 0 -3.7 0zM1273.9 78a1.9 1.9 0 1 0 3.7 0a1.9 1.9 0 1 0 -3.7 0zM1195.7 84.2a1.9 1.9 0 1 0 3.7 0a1.9 1.9 0 1 0 -3.7 0zM1258.9 91.2a1.9 1.9 0 1 0 3.7 0a1.9 1.9 0 1 0 -3.7 0zM1194.2 86.7a1.9 1.9 0 1 0 3.7 0a1.9 1.9 0 1 0 -3.7 0zM1240.2 92.7a1.9 1.9 0 1 0 3.7 0a1.9 1.9 0 1 0 -3.7 0zM1234 88.4a1.9 1.9 0 1 0 3.7 0a1.9 1.9 0 1 0 -3.7 0zM1212.7 88.7a1.9 1.9 0 1 0 3.7 0a1.9 1.9 0 1 0 -3.7 0zM1223.8 102.8a1.9 1.9 0 1 0 3.7 0a1.9 1.9 0 1 0 -3.7 0zM1267.9 90.1a1.9 1.9 0 1 0 3.7 0a1.9 1.9 0 1 0 -3.7 0zM1223 85a1.9 1.9 0 1 0 3.7 0a1.9 1.9 0 1 0 -3.7 0zM1207.7 91.1a1.9 1.9 0 1 0 3.7 0a1.9 1.9 0 1 0 -3.7 0zM1258 73.9a1.9 1.9 0 1 0 3.7 0a1.9 1.9 0 1 0 -3.7 0zM1235.1 80.1a1.9 1.9 0 1 0 3.7 0a1.9 1.9 0 1 0 -3.7 0zM1267.2 91.9a1.9 1.9 0 1 0 3.7 0a1.9 1.9 0 1 0 -3.7 0zM1215.6 90.2a1.9 1.9 0 1 0 3.7 0a1.9 1.9 0 1 0 -3.7 0zM1223.3 99.9a1.9 1.9 0 1 0 3.7 0a1.9 1.9 0 1 0 -3.7 0zM1267.3 83.7a1.9 1.9 0 1 0 3.7 0a1.9 1.9 0 1 0 -3.7 0zM1240.5 68.2a1.9 1.9 0 1 0 3.7 0a1.9 1.9 0 1 0 -3.7 0zM1240.4 104a1.9 1.9 0 1 0 3.7 0a1.9 1.9 0 1 0 -3.7 0zM1215.7 95.1a1.9 1.9 0 1 0 3.7 0a1.9 1.9 0 1 0 -3.7 0zM1195.4 72.5a1.9 1.9 0 1 0 3.7 0a1.9 1.9 0 1 0 -3.7 0zM1279.5 98a1.9 1.9 0 1 0 3.7 0a1.9 1.9 0 1 0 -3.7 0zM1201.9 83.9a1.9 1.9 0 1 0 3.7 0a1.9 1.9 0 1 0 -3.7 0zM1271.4 64.6a1.9 1.9 0 1 0 3.7 0a1.9 1.9 0 1 0 -3.7 0zM1227.7 79.2a1.9 1.9 0 1 0 3.7 0a1.9 1.9 0 1 0 -3.7 0zM1281.2 78.3a1.9 1.9 0 1 0 3.7 0a1.9 1.9 0 1 0 -3.7 0zM1230.6 100.3a1.9 1.9 0 1 0 3.7 0a1.9 1.9 0 1 0 -3.7 0zM1279.8 75.3a1.9 1.9 0 1 0 3.7 0a1.9 1.9 0 1 0 -3.7 0zM1245 80.9a1.9 1.9 0 1 0 3.7 0a1.9 1.9 0 1 0 -3.7 0zM1216 80.7a1.9 1.9 0 1 0 3.7 0a1.9 1.9 0 1 0 -3.7 0zM1262 79.6a1.9 1.9 0 1 0 3.7 0a1.9 1.9 0 1 0 -3.7 0zM1255.8 74a1.9 1.9 0 1 0 3.7 0a1.9 1.9 0 1 0 -3.7 0zM1256.7 85.9a1.9 1.9 0 1 0 3.7 0a1.9 1.9 0 1 0 -3.7 0zM1236.5 94.9a1.9 1.9 0 1 0 3.7 0a1.9 1.9 0 1 0 -3.7 0zM1214.4 90.2a1.9 1.9 0 1 0 3.7 0a1.9 1.9 0 1 0 -3.7 0zM1252.8 73.9a1.9 1.9 0 1 0 3.7 0a1.9 1.9 0 1 0 -3.7 0zM1203.9 71.5a1.9 1.9 0 1 0 3.7 0a1.9 1.9 0 1 0 -3.7 0zM1257.5 84.8a1.9 1.9 0 1 0 3.7 0a1.9 1.9 0 1 0 -3.7 0zM1252.3 76.2a1.9 1.9 0 1 0 3.7 0a1.9 1.9 0 1 0 -3.7 0zM1228.5 77a1.9 1.9 0 1 0 3.7 0a1.9 1.9 0 1 0 -3.7 0zM1267.2 66a1.9 1.9 0 1 0 3.7 0a1.9 1.9 0 1 0 -3.7 0zM1211.8 104.1a1.9 1.9 0 1 0 3.7 0a1.9 1.9 0 1 0 -3.7 0zM1229.8 93.2a1.9 1.9 0 1 0 3.7 0a1.9 1.9 0 1 0 -3.7 0zM1267.1 73.4a1.9 1.9 0 1 0 3.7 0a1.9 1.9 0 1 0 -3.7 0zM1228.9 93.1a1.9 1.9 0 1 0 3.7 0a1.9 1.9 0 1 0 -3.7 0zM1259.4 97.7a1.9 1.9 0 1 0 3.7 0a1.9 1.9 0 1 0 -3.7 0zM1250.2 58.5a1.9 1.9 0 1 0 3.7 0a1.9 1.9 0 1 0 -3.7 0zM1280.2 77.8a1.9 1.9 0 1 0 3.7 0a1.9 1.9 0 1 0 -3.7 0zM1284.9 79.5a1.9 1.9 0 1 0 3.7 0a1.9 1.9 0 1 0 -3.7 0zM1260.3 90.4a1.9 1.9 0 1 0 3.7 0a1.9 1.9 0 1 0 -3.7 0zM1268.1 82.3a1.9 1.9 0 1 0 3.7 0a1.9 1.9 0 1 0 -3.7 0zM1208.1 81.2a1.9 1.9 0 1 0 3.7 0a1.9 1.9 0 1 0 -3.7 0zM1259.4 83a1.9 1.9 0 1 0 3.7 0a1.9 1.9 0 1 0 -3.7 0zM1271.7 103.1a1.9 1.9 0 1 0 3.7 0a1.9 1.9 0 1 0 -3.7 0zM1230.8 106.3a1.9 1.9 0 1 0 3.7 0a1.9 1.9 0 1 0 -3.7 0zM1244.7 78.1a1.9 1.9 0 1 0 3.7 0a1.9 1.9 0 1 0 -3.7 0zM1238 73.9a1.9 1.9 0 1 0 3.7 0a1.9 1.9 0 1 0 -3.7 0zM1281.9 111.9a1.9 1.9 0 1 0 3.7 0a1.9 1.9 0 1 0 -3.7 0zM1223.1 73.3a1.9 1.9 0 1 0 3.7 0a1.9 1.9 0 1 0 -3.7 0zM1230.9 77.6a1.9 1.9 0 1 0 3.7 0a1.9 1.9 0 1 0 -3.7 0zM1194.1 84a1.9 1.9 0 1 0 3.7 0a1.9 1.9 0 1 0 -3.7 0zM1232.5 88.7a1.9 1.9 0 1 0 3.7 0a1.9 1.9 0 1 0 -3.7 0zM1251.9 94.4a1.9 1.9 0 1 0 3.7 0a1.9 1.9 0 1 0 -3.7 0zM1279.7 87.7a1.9 1.9 0 1 0 3.7 0a1.9 1.9 0 1 0 -3.7 0zM1278.7 74.4a1.9 1.9 0 1 0 3.7 0a1.9 1.9 0 1 0 -3.7 0zM1224 88.9a1.9 1.9 0 1 0 3.7 0a1.9 1.9 0 1 0 -3.7 0zM1284.6 86.2a1.9 1.9 0 1 0 3.7 0a1.9 1.9 0 1 0 -3.7 0zM1211.2 103.3a1.9 1.9 0 1 0 3.7 0a1.9 1.9 0 1 0 -3.7 0zM1269.5 83.4a1.9 1.9 0 1 0 3.7 0a1.9 1.9 0 1 0 -3.7 0zM1208.5 69.6a1.9 1.9 0 1 0 3.7 0a1.9 1.9 0 1 0 -3.7 0zM1231.2 72.6a1.9 1.9 0 1 0 3.7 0a1.9 1.9 0 1 0 -3.7 0zM1200.8 98.8a1.9 1.9 0 1 0 3.7 0a1.9 1.9 0 1 0 -3.7 0z"/>
<line x1="1241.7" y1="59.3" x2="1241.7" y2="75.5" stroke="#000" stroke-width="3"/>
<line x1="1241.7" y1="90.2" x2="1241.7" y2="108.3" stroke="#000" stroke-width="3"/>
<rect x="1198.9" y="75.5" width="85.6" height="14.7" fill="none" stroke="#000" stroke-width="3"/>
<line x1="1198.9" y1="83.6" x2="1284.5" y2="83.6" stroke="#000" stroke-width="2.7"/>
<path fill="#000" d="M1394.6 69a1.9 1.9 0 1 0 3.7 0a1.9 1.9 0 1 0 -3.7 0zM1342.4 69.4a1.9 1.9 0 1 0 3.7 0a1.9 1.9 0 1 0 -3.7 0zM1325.1 80.2a1.9 1.9 0 1 0 3.7 0a1.9 1.9 0 1 0 -3.7 0zM1309 86.3a1.9 1.9 0 1 0 3.7 0a1.9 1.9 0 1 0 -3.7 0zM1314.5 72.3a1.9 1.9 0 1 0 3.7 0a1.9 1.9 0 1 0 -3.7 0zM1328.6 62.6a1.9 1.9 0 1 0 3.7 0a1.9 1.9 0 1 0 -3.7 0zM1347.2 89.7a1.9 1.9 0 1 0 3.7 0a1.9 1.9 0 1 0 -3.7 0zM1364.1 67.3a1.9 1.9 0 1 0 3.7 0a1.9 1.9 0 1 0 -3.7 0zM1398.8 91a1.9 1.9 0 1 0 3.7 0a1.9 1.9 0 1 0 -3.7 0zM1390.5 77.9a1.9 1.9 0 1 0 3.7 0a1.9 1.9 0 1 0 -3.7 0zM1331.1 71.2a1.9 1.9 0 1 0 3.7 0a1.9 1.9 0 1 0 -3.7 0zM1365 71.8a1.9 1.9 0 1 0 3.7 0a1.9 1.9 0 1 0 -3.7 0zM1393.4 83.3a1.9 1.9 0 1 0 3.7 0a1.9 1.9 0 1 0 -3.7 0zM1318.3 87.8a1.9 1.9 0 1 0 3.7 0a1.9 1.9 0 1 0 -3.7 0zM1387.2 76.4a1.9 1.9 0 1 0 3.7 0a1.9 1.9 0 1 0 -3.7 0zM1345.2 88.4a1.9 1.9 0 1 0 3.7 0a1.9 1.9 0 1 0 -3.7 0zM1380.6 100.4a1.9 1.9 0 1 0 3.7 0a1.9 1.9 0 1 0 -3.7 0zM1338.5 76.3a1.9 1.9 0 1 0 3.7 0a1.9 1.9 0 1 0 -3.7 0zM1366.3 66.4a1.9 1.9 0 1 0 3.7 0a1.9 1.9 0 1 0 -3.7 0zM1355.4 67.4a1.9 1.9 0 1 0 3.7 0a1.9 1.9 0 1 0 -3.7 0zM1318.5 63.9a1.9 1.9 0 1 0 3.7 0a1.9 1.9 0 1 0 -3.7 0zM1378.5 71.8a1.9 1.9 0 1 0 3.7 0a1.9 1.9 0 1 0 -3.7 0zM1384.3 70.9a1.9 1.9 0 1 0 3.7 0a1.9 1.9 0 1 0 -3.7 0zM1353.2 64.6a1.9 1.9 0 1 0 3.7 0a1.9 1.9 0 1 0 -3.7 0zM1344.5 84.1a1.9 1.9 0 1 0 3.7 0a1.9 1.9 0 1 0 -3.7 0zM1395.7 51.1a1.9 1.9 0 1 0 3.7 0a1.9 1.9 0 1 0 -3.7 0zM1343.2 64.6a1.9 1.9 0 1 0 3.7 0a1.9 1.9 0 1 0 -3.7 0zM1389.5 99.7a1.9 1.9 0 1 0 3.7 0a1.9 1.9 0 1 0 -3.7 0zM1347.3 89.4a1.9 1.9 0 1 0 3.7 0a1.9 1.9 0 1 0 -3.7 0zM1343.2 84a1.9 1.9 0 1 0 3.7 0a1.9 1.9 0 1 0 -3.7 0zM1342.1 83.3a1.9 1.9 0 1 0 3.7 0a1.9 1.9 0 1 0 -3.7 0zM1314.4 97.1a1.9 1.9 0 1 0 3.7 0a1.9 1.9 0 1 0 -3.7 0zM1334.4 84.1a1.9 1.9 0 1 0 3.7 0a1.9 1.9 0 1 0 -3.7 0zM1330 79.3a1.9 1.9 0 1 0 3.7 0a1.9 1.9 0 1 0 -3.7 0zM1314.7 65.6a1.9 1.9 0 1 0 3.7 0a1.9 1.9 0 1 0 -3.7 0zM1358.6 77.7a1.9 1.9 0 1 0 3.7 0a1.9 1.9 0 1 0 -3.7 0zM1349.5 70.8a1.9 1.9 0 1 0 3.7 0a1.9 1.9 0 1 0 -3.7 0zM1311.2 71.1a1.9 1.9 0 1 0 3.7 0a1.9 1.9 0 1 0 -3.7 0zM1323.2 71a1.9 1.9 0 1 0 3.7 0a1.9 1.9 0 1 0 -3.7 0zM1393.1 78a1.9 1.9 0 1 0 3.7 0a1.9 1.9 0 1 0 -3.7 0zM1321.2 75a1.9 1.9 0 1 0 3.7 0a1.9 1.9 0 1 0 -3.7 0zM1343.1 87.6a1.9 1.9 0 1 0 3.7 0a1.9 1.9 0 1 0 -3.7 0zM1396 64.6a1.9 1.9 0 1 0 3.7 0a1.9 1.9 0 1 0 -3.7 0zM1319.3 76.7a1.9 1.9 0 1 0 3.7 0a1.9 1.9 0 1 0 -3.7 0zM1346.5 98a1.9 1.9 0 1 0 3.7 0a1.9 1.9 0 1 0 -3.7 0zM1382.3 78.9a1.9 1.9 0 1 0 3.7 0a1.9 1.9 0 1 0 -3.7 0zM1310.7 91.1a1.9 1.9 0 1 0 3.7 0a1.9 1.9 0 1 0 -3.7 0zM1315.2 90.4a1.9 1.9 0 1 0 3.7 0a1.9 1.9 0 1 0 -3.7 0zM1394.1 92.3a1.9 1.9 0 1 0 3.7 0a1.9 1.9 0 1 0 -3.7 0zM1371.6 86.3a1.9 1.9 0 1 0 3.7 0a1.9 1.9 0 1 0 -3.7 0zM1332.9 64a1.9 1.9 0 1 0 3.7 0a1.9 1.9 0 1 0 -3.7 0zM1352.9 75.7a1.9 1.9 0 1 0 3.7 0a1.9 1.9 0 1 0 -3.7 0zM1331.8 74.5a1.9 1.9 0 1 0 3.7 0a1.9 1.9 0 1 0 -3.7 0zM1390.7 62.2a1.9 1.9 0 1 0 3.7 0a1.9 1.9 0 1 0 -3.7 0zM1396 73.6a1.9 1.9 0 1 0 3.7 0a1.9 1.9 0 1 0 -3.7 0zM1315.5 65.4a1.9 1.9 0 1 0 3.7 0a1.9 1.9 0 1 0 -3.7 0zM1357 61a1.9 1.9 0 1 0 3.7 0a1.9 1.9 0 1 0 -3.7 0zM1325.8 80.7a1.9 1.9 0 1 0 3.7 0a1.9 1.9 0 1 0 -3.7 0zM1346 78a1.9 1.9 0 1 0 3.7 0a1.9 1.9 0 1 0 -3.7 0zM1376.8 71.3a1.9 1.9 0 1 0 3.7 0a1.9 1.9 0 1 0 -3.7 0zM1374.3 68.5a1.9 1.9 0 1 0 3.7 0a1.9 1.9 0 1 0 -3.7 0zM1326.3 72.8a1.9 1.9 0 1 0 3.7 0a1.9 1.9 0 1 0 -3.7 0zM1339.4 74.4a1.9 1.9 0 1 0 3.7 0a1.9 1.9 0 1 0 -3.7 0zM1347.9 74.2a1.9 1.9 0 1 0 3.7 0a1.9 1.9 0 1 0 -3.7 0zM1344.3 77.9a1.9 1.9 0 1 0 3.7 0a1.9 1.9 0 1 0 -3.7 0zM1371.4 73.9a1.9 1.9 0 1 0 3.7 0a1.9 1.9 0 1 0 -3.7 0zM1381.2 82.6a1.9 1.9 0 1 0 3.7 0a1.9 1.9 0 1 0 -3.7 0zM1339.7 84a1.9 1.9 0 1 0 3.7 0a1.9 1.9 0 1 0 -3.7 0zM1349.4 82.3a1.9 1.9 0 1 0 3.7 0a1.9 1.9 0 1 0 -3.7 0zM1315.1 71.5a1.9 1.9 0 1 0 3.7 0a1.9 1.9 0 1 0 -3.7 0zM1342.5 72a1.9 1.9 0 1 0 3.7 0a1.9 1.9 0 1 0 -3.7 0zM1395.7 83.1a1.9 1.9 0 1 0 3.7 0a1.9 1.9 0 1 0 -3.7 0zM1354.9 76.4a1.9 1.9 0 1 0 3.7 0a1.9 1.9 0 1 0 -3.7 0zM1360 78a1.9 1.9 0 1 0 3.7 0a1.9 1.9 0 1 0 -3.7 0zM1364.5 52.3a1.9 1.9 0 1 0 3.7 0a1.9 1.9 0 1 0 -3.7 0zM1360.9 50.1a1.9 1.9 0 1 0 3.7 0a1.9 1.9 0 1 0 -3.7 0zM1382.6 82a1.9 1.9 0 1 0 3.7 0a1.9 1.9 0 1 0 -3.7 0zM1332.7 82a1.9 1.9 0 1 0 3.7 0a1.9 1.9 0 1 0 -3.7 0zM1337.9 93.1a1.9 1.9 0 1 0 3.7 0a1.9 1.9 0 1 0 -3.7 0zM1390.2 86.1a1.9 1.9 0 1 0 3.7 0a1.9 1.9 0 1 0 -3.7 0zM1354.7 80.8a1.9 1.9 0 1 0 3.7 0a1.9 1.9 0 1 0 -3.7 0zM1396.9 78.7a1.9 1.9 0 1 0 3.7 0a1.9 1.9 0 1 0 -3.7 0zM1321.7 63.5a1.9 1.9 0 1 0 3.7 0a1.9 1.9 0 1 0 -3.7 0zM1380.7 87.8a1.9 1.9 0 1 0 3.7 0a1.9 1.9 0 1 0 -3.7 0zM1352.3 72.2a1.9 1.9 0 1 0 3.7 0a1.9 1.9 0 1 0 -3.7 0zM1352.4 83.8a1.9 1.9 0 1 0 3.7 0a1.9 1.9 0 1 0 -3.7 0zM1389.7 80.6a1.9 1.9 0 1 0 3.7 0a1.9 1.9 0 1 0 -3.7 0zM1320.9 81.4a1.9 1.9 0 1 0 3.7 0a1.9 1.9 0 1 0 -3.7 0zM1356.1 87.9a1.9 1.9 0 1 0 3.7 0a1.9 1.9 0 1 0 -3.7 0zM1331.8 73.4a1.9 1.9 0 1 0 3.7 0a1.9 1.9 0 1 0 -3.7 0zM1340.4 74.4a1.9 1.9 0 1 0 3.7 0a1.9 1.9 0 1 0 -3.7 0zM1383.8 69.5a1.9 1.9 0 1 0 3.7 0a1.9 1.9 0 1 0 -3.7 0zM1345.4 74.5a1.9 1.9 0 1 0 3.7 0a1.9 1.9 0 1 0 -3.7 0zM1380.8 96a1.9 1.9 0 1 0 3.7 0a1.9 1.9 0 1 0 -3.7 0zM1310.2 74.7a1.9 1.9 0 1 0 3.7 0a1.9 1.9 0 1 0 -3.7 0zM1400.5 90.9a1.9 1.9 0 1 0 3.7 0a1.9 1.9 0 1 0 -3.7 0zM1396.5 87.2a1.9 1.9 0 1 0 3.7 0a1.9 1.9 0 1 0 -3.7 0zM1371.1 86.2a1.9 1.9 0 1 0 3.7 0a1.9 1.9 0 1 0 -3.7 0zM1327 86.9a1.9 1.9 0 1 0 3.7 0a1.9 1.9 0 1 0 -3.7 0zM1369.1 67.9a1.9 1.9 0 1 0 3.7 0a1.9 1.9 0 1 0 -3.7 0z"/>
<line x1="1356.6" y1="56" x2="1356.6" y2="73.2" stroke="#000" stroke-width="3"/>
<line x1="1356.6" y1="86.4" x2="1356.6" y2="104.3" stroke="#000" stroke-width="3"/>
<rect x="1313.8" y="73.2" width="85.6" height="13.2" fill="none" stroke="#000" stroke-width="3"/>
<line x1="1313.8" y1="78.5" x2="1399.4" y2="78.5" stroke="#000" stroke-width="2.7"/>
<path fill="#000" d="M1439.1 101.1a1.9 1.9 0 1 0 3.7 0a1.9 1.9 0 1 0 -3.7 0zM1488.1 87.9a1.9 1.9 0 1 0 3.7 0a1.9 1.9 0 1 0 -3.7 0zM1498.7 88.7a1.9 1.9 0 1 0 3.7 0a1.9 1.9 0 1 0 -3.7 0zM1423.9 70.7a1.9 1.9 0 1 0 3.7 0a1.9 1.9 0 1 0 -3.7 0zM1506.7 87.9a1.9 1.9 0 1 0 3.7 0a1.9 1.9 0 1 0 -3.7 0zM1431.6 87.1a1.9 1.9 0 1 0 3.7 0a1.9 1.9 0 1 0 -3.7 0zM1451.4 68.9a1.9 1.9 0 1 0 3.7 0a1.9 1.9 0 1 0 -3.7 0zM1467.9 70.6a1.9 1.9 0 1 0 3.7 0a1.9 1.9 0 1 0 -3.7 0zM1462.2 78.8a1.9 1.9 0 1 0 3.7 0a1.9 1.9 0 1 0 -3.7 0zM1443.1 83a1.9 1.9 0 1 0 3.7 0a1.9 1.9 0 1 0 -3.7 0zM1490.2 51.1a1.9 1.9 0 1 0 3.7 0a1.9 1.9 0 1 0 -3.7 0zM1500.2 80.7a1.9 1.9 0 1 0 3.7 0a1.9 1.9 0 1 0 -3.7 0zM1444.2 82.4a1.9 1.9 0 1 0 3.7 0a1.9 1.9 0 1 0 -3.7 0zM1438.4 78.1a1.9 1.9 0 1 0 3.7 0a1.9 1.9 0 1 0 -3.7 0zM1470.9 82.8a1.9 1.9 0 1 0 3.7 0a1.9 1.9 0 1 0 -3.7 0zM1437 84.8a1.9 1.9 0 1 0 3.7 0a1.9 1.9 0 1 0 -3.7 0zM1509.4 69.4a1.9 1.9 0 1 0 3.7 0a1.9 1.9 0 1 0 -3.7 0zM1501.3 84.4a1.9 1.9 0 1 0 3.7 0a1.9 1.9 0 1 0 -3.7 0zM1499.8 77.4a1.9 1.9 0 1 0 3.7 0a1.9 1.9 0 1 0 -3.7 0zM1461.1 70.1a1.9 1.9 0 1 0 3.7 0a1.9 1.9 0 1 0 -3.7 0zM1495.4 82.2a1.9 1.9 0 1 0 3.7 0a1.9 1.9 0 1 0 -3.7 0zM1459.2 95.6a1.9 1.9 0 1 0 3.7 0a1.9 1.9 0 1 0 -3.7 0zM1465.3 64.7a1.9 1.9 0 1 0 3.7 0a1.9 1.9 0 1 0 -3.7 0zM1433.1 62.6a1.9 1.9 0 1 0 3.7 0a1.9 1.9 0 1 0 -3.7 0zM1426.8 62.6a1.9 1.9 0 1 0 3.7 0a1.9 1.9 0 1 0 -3.7 0zM1484.8 100.8a1.9 1.9 0 1 0 3.7 0a1.9 1.9 0 1 0 -3.7 0zM1441.1 77.4a1.9 1.9 0 1 0 3.7 0a1.9 1.9 0 1 0 -3.7 0zM1511 79.4a1.9 1.9 0 1 0 3.7 0a1.9 1.9 0 1 0 -3.7 0zM1475.1 71.7a1.9 1.9 0 1 0 3.7 0a1.9 1.9 0 1 0 -3.7 0zM1476.2 70.1a1.9 1.9 0 1 0 3.7 0a1.9 1.9 0 1 0 -3.7 0zM1505.3 58.7a1.9 1.9 0 1 0 3.7 0a1.9 1.9 0 1 0 -3.7 0zM1450.6 81.8a1.9 1.9 0 1 0 3.7 0a1.9 1.9 0 1 0 -3.7 0zM1424.3 82.7a1.9 1.9 0 1 0 3.7 0a1.9 1.9 0 1 0 -3.7 0zM1443.5 59.2a1.9 1.9 0 1 0 3.7 0a1.9 1.9 0 1 0 -3.7 0zM1465.3 69a1.9 1.9 0 1 0 3.7 0a1.9 1.9 0 1 0 -3.7 0zM1437.3 72.2a1.9 1.9 0 1 0 3.7 0a1.9 1.9 0 1 0 -3.7 0zM1449.1 79.7a1.9 1.9 0 1 0 3.7 0a1.9 1.9 0 1 0 -3.7 0zM1490.9 82.6a1.9 1.9 0 1 0 3.7 0a1.9 1.9 0 1 0 -3.7 0zM1457.9 91.8a1.9 1.9 0 1 0 3.7 0a1.9 1.9 0 1 0 -3.7 0zM1454.6 94.3a1.9 1.9 0 1 0 3.7 0a1.9 1.9 0 1 0 -3.7 0zM1444.7 91.2a1.9 1.9 0 1 0 3.7 0a1.9 1.9 0 1 0 -3.7 0zM1472 94.1a1.9 1.9 0 1 0 3.7 0a1.9 1.9 0 1 0 -3.7 0zM1514.5 67.8a1.9 1.9 0 1 0 3.7 0a1.9 1.9 0 1 0 -3.7 0zM1438.8 74.2a1.9 1.9 0 1 0 3.7 0a1.9 1.9 0 1 0 -3.7 0zM1500.6 92a1.9 1.9 0 1 0 3.7 0a1.9 1.9 0 1 0 -3.7 0zM1494.3 83a1.9 1.9 0 1 0 3.7 0a1.9 1.9 0 1 0 -3.7 0zM1478.4 80.2a1.9 1.9 0 1 0 3.7 0a1.9 1.9 0 1 0 -3.7 0zM1473.1 59.2a1.9 1.9 0 1 0 3.7 0a1.9 1.9 0 1 0 -3.7 0zM1471 60.5a1.9 1.9 0 1 0 3.7 0a1.9 1.9 0 1 0 -3.7 0zM1432.8 87.7a1.9 1.9 0 1 0 3.7 0a1.9 1.9 0 1 0 -3.7 0zM1475.5 83.6a1.9 1.9 0 1 0 3.7 0a1.9 1.9 0 1 0 -3.7 0zM1513.9 76.9a1.9 1.9 0 1 0 3.7 0a1.9 1.9 0 1 0 -3.7 0zM1490.1 75.7a1.9 1.9 0 1 0 3.7 0a1.9 1.9 0 1 0 -3.7 0zM1466.1 61.9a1.9 1.9 0 1 0 3.7 0a1.9 1.9 0 1 0 -3.7 0zM1463.9 83.9a1.9 1.9 0 1 0 3.7 0a1.9 1.9 0 1 0 -3.7 0zM1503 90.9a1.9 1.9 0 1 0 3.7 0a1.9 1.9 0 1 0 -3.7 0zM1423.9 97.2a1.9 1.9 0 1 0 3.7 0a1.9 1.9 0 1 0 -3.7 0zM1441.7 80.5a1.9 1.9 0 1 0 3.7 0a1.9 1.9 0 1 0 -3.7 0zM1511.1 77.9a1.9 1.9 0 1 0 3.7 0a1.9 1.9 0 1 0 -3.7 0zM1483.2 68.5a1.9 1.9 0 1 0 3.7 0a1.9 1.9 0 1 0 -3.7 0zM1499.2 92.8a1.9 1.9 0 1 0 3.7 0a1.9 1.9 0 1 0 -3.7 0zM1472.2 97.9a1.9 1.9 0 1 0 3.7 0a1.9 1.9 0 1 0 -3.7 0zM1427.1 73.6a1.9 1.9 0 1 0 3.7 0a1.9 1.9 0 1 0 -3.7 0zM1472.5 83.1a1.9 1.9 0 1 0 3.7 0a1.9 1.9 0 1 0 -3.7 0zM1481 81a1.9 1.9 0 1 0 3.7 0a1.9 1.9 0 1 0 -3.7 0zM1431.5 74a1.9 1.9 0 1 0 3.7 0a1.9 1.9 0 1 0 -3.7 0zM1467.4 53.8a1.9 1.9 0 1 0 3.7 0a1.9 1.9 0 1 0 -3.7 0zM1509.7 76.2a1.9 1.9 0 1 0 3.7 0a1.9 1.9 0 1 0 -3.7 0zM1429 86.4a1.9 1.9 0 1 0 3.7 0a1.9 1.9 0 1 0 -3.7 0zM1427.6 64.8a1.9 1.9 0 1 0 3.7 0a1.9 1.9 0 1 0 -3.7 0zM1432.8 71.2a1.9 1.9 0 1 0 3.7 0a1.9 1.9 0 1 0 -3.7 0zM1485.8 51.1a1.9 1.9 0 1 0 3.7 0a1.9 1.9 0 1 0 -3.7 0zM1505.1 93.5a1.9 1.9 0 1 0 3.7 0a1.9 1.9 0 1 0 -3.7 0zM1437.7 85.3a1.9 1.9 0 1 0 3.7 0a1.9 1.9 0 1 0 -3.7 0zM1500.7 80.5a1.9 1.9 0 1 0 3.7 0a1.9 1.9 0 1 0 -3.7 0zM1443.7 77.2a1.9 1.9 0 1 0 3.7 0a1.9 1.9 0 1 0 -3.7 0zM1472.7 73.3a1.9 1.9 0 1 0 3.7 0a1.9 1.9 0 1 0 -3.7 0zM1493.3 79.2a1.9 1.9 0 1 0 3.7 0a1.9 1.9 0 1 0 -3.7 0zM1434.1 76.7a1.9 1.9 0 1 0 3.7 0a1.9 1.9 0 1 0 -3.7 0zM1467.1 77.4a1.9 1.9 0 1 0 3.7 0a1.9 1.9 0 1 0 -3.7 0zM1502.7 79.6a1.9 1.9 0 1 0 3.7 0a1.9 1.9 0 1 0 -3.7 0zM1455.9 81.3a1.9 1.9 0 1 0 3.7 0a1.9 1.9 0 1 0 -3.7 0zM1496.4 96.3a1.9 1.9 0 1 0 3.7 0a1.9 1.9 0 1 0 -3.7 0zM1465 64.8a1.9 1.9 0 1 0 3.7 0a1.9 1.9 0 1 0 -3.7 0zM1509.8 82.8a1.9 1.9 0 1 0 3.7 0a1.9 1.9 0 1 0 -3.7 0zM1460 73.4a1.9 1.9 0 1 0 3.7 0a1.9 1.9 0 1 0 -3.7 0zM1498.7 68a1.9 1.9 0 1 0 3.7 0a1.9 1.9 0 1 0 -3.7 0zM1430.3 55.1a1.9 1.9 0 1 0 3.7 0a1.9 1.9 0 1 0 -3.7 0zM1454.4 86.4a1.9 1.9 0 1 0 3.7 0a1.9 1.9 0 1 0 -3.7 0zM1436.7 69.6a1.9 1.9 0 1 0 3.7 0a1.9 1.9 0 1 0 -3.7 0zM1460.3 72a1.9 1.9 0 1 0 3.7 0a1.9 1.9 0 1 0 -3.7 0zM1460.5 84.8a1.9 1.9 0 1 0 3.7 0a1.9 1.9 0 1 0 -3.7 0zM1445.4 68.5a1.9 1.9 0 1 0 3.7 0a1.9 1.9 0 1 0 -3.7 0zM1461.7 80.2a1.9 1.9 0 1 0 3.7 0a1.9 1.9 0 1 0 -3.7 0zM1485.8 79.1a1.9 1.9 0 1 0 3.7 0a1.9 1.9 0 1 0 -3.7 0zM1476.3 88.3a1.9 1.9 0 1 0 3.7 0a1.9 1.9 0 1 0 -3.7 0zM1445.6 90.5a1.9 1.9 0 1 0 3.7 0a1.9 1.9 0 1 0 -3.7 0zM1488.5 70.8a1.9 1.9 0 1 0 3.7 0a1.9 1.9 0 1 0 -3.7 0zM1488.3 89.5a1.9 1.9 0 1 0 3.7 0a1.9 1.9 0 1 0 -3.7 0zM1462 78.9a1.9 1.9 0 1 0 3.7 0a1.9 1.9 0 1 0 -3.7 0z"/>
<line x1="1471" y1="57.1" x2="1471" y2="73.6" stroke="#000" stroke-width="3"/>
<line x1="1471" y1="86.8" x2="1471" y2="104" stroke="#000" stroke-width="3"/>
<rect x="1428.2" y="73.6" width="85.6" height="13.2" fill="none" stroke="#000" stroke-width="3"/>
<line x1="1428.2" y1="80" x2="1513.8" y2="80" stroke="#000" stroke-width="2.7"/>
<path fill="#000" d="M1574.7 88.3a1.9 1.9 0 1 0 3.7 0a1.9 1.9 0 1 0 -3.7 0zM1539.3 90.6a1.9 1.9 0 1 0 3.7 0a1.9 1.9 0 1 0 -3.7 0zM1589.3 92.1a1.9 1.9 0 1 0 3.7 0a1.9 1.9 0 1 0 -3.7 0zM1624.3 81.8a1.9 1.9 0 1 0 3.7 0a1.9 1.9 0 1 0 -3.7 0zM1541.3 77.8a1.9 1.9 0 1 0 3.7 0a1.9 1.9 0 1 0 -3.7 0zM1580.2 84.5a1.9 1.9 0 1 0 3.7 0a1.9 1.9 0 1 0 -3.7 0zM1597.8 77.4a1.9 1.9 0 1 0 3.7 0a1.9 1.9 0 1 0 -3.7 0zM1582.6 70.1a1.9 1.9 0 1 0 3.7 0a1.9 1.9 0 1 0 -3.7 0zM1547.3 96.8a1.9 1.9 0 1 0 3.7 0a1.9 1.9 0 1 0 -3.7 0zM1584.9 74.2a1.9 1.9 0 1 0 3.7 0a1.9 1.9 0 1 0 -3.7 0zM1545.2 102.5a1.9 1.9 0 1 0 3.7 0a1.9 1.9 0 1 0 -3.7 0zM1544.3 89a1.9 1.9 0 1 0 3.7 0a1.9 1.9 0 1 0 -3.7 0zM1568.8 78.8a1.9 1.9 0 1 0 3.7 0a1.9 1.9 0 1 0 -3.7 0zM1554.1 88.2a1.9 1.9 0 1 0 3.7 0a1.9 1.9 0 1 0 -3.7 0zM1584 96.5a1.9 1.9 0 1 0 3.7 0a1.9 1.9 0 1 0 -3.7 0zM1624.4 69.1a1.9 1.9 0 1 0 3.7 0a1.9 1.9 0 1 0 -3.7 0zM1557.5 73.9a1.9 1.9 0 1 0 3.7 0a1.9 1.9 0 1 0 -3.7 0zM1628.4 72.6a1.9 1.9 0 1 0 3.7 0a1.9 1.9 0 1 0 -3.7 0zM1569.8 85.3a1.9 1.9 0 1 0 3.7 0a1.9 1.9 0 1 0 -3.7 0zM1614.4 87.8a1.9 1.9 0 1 0 3.7 0a1.9 1.9 0 1 0 -3.7 0zM1585.7 83.9a1.9 1.9 0 1 0 3.7 0a1.9 1.9 0 1 0 -3.7 0zM1609.4 76a1.9 1.9 0 1 0 3.7 0a1.9 1.9 0 1 0 -3.7 0zM1617.1 78.1a1.9 1.9 0 1 0 3.7 0a1.9 1.9 0 1 0 -3.7 0zM1615 96.1a1.9 1.9 0 1 0 3.7 0a1.9 1.9 0 1 0 -3.7 0zM1551.4 95.3a1.9 1.9 0 1 0 3.7 0a1.9 1.9 0 1 0 -3.7 0zM1619.5 85a1.9 1.9 0 1 0 3.7 0a1.9 1.9 0 1 0 -3.7 0zM1548.8 69.8a1.9 1.9 0 1 0 3.7 0a1.9 1.9 0 1 0 -3.7 0zM1605.1 90.2a1.9 1.9 0 1 0 3.7 0a1.9 1.9 0 1 0 -3.7 0zM1542 86.6a1.9 1.9 0 1 0 3.7 0a1.9 1.9 0 1 0 -3.7 0zM1565.3 86.3a1.9 1.9 0 1 0 3.7 0a1.9 1.9 0 1 0 -3.7 0zM1549.9 101.8a1.9 1.9 0 1 0 3.7 0a1.9 1.9 0 1 0 -3.7 0zM1594.8 92.2a1.9 1.9 0 1 0 3.7 0a1.9 1.9 0 1 0 -3.7 0zM1566.7 73.4a1.9 1.9 0 1 0 3.7 0a1.9 1.9 0 1 0 -3.7 0zM1589.7 73.5a1.9 1.9 0 1 0 3.7 0a1.9 1.9 0 1 0 -3.7 0zM1557.9 98.1a1.9 1.9 0 1 0 3.7 0a1.9 1.9 0 1 0 -3.7 0zM1574.4 85.8a1.9 1.9 0 1 0 3.7 0a1.9 1.9 0 1 0 -3.7 0zM1620.4 92.9a1.9 1.9 0 1 0 3.7 0a1.9 1.9 0 1 0 -3.7 0zM1592.6 82.5a1.9 1.9 0 1 0 3.7 0a1.9 1.9 0 1 0 -3.7 0zM1582.4 73.6a1.9 1.9 0 1 0 3.7 0a1.9 1.9 0 1 0 -3.7 0zM1604.3 87a1.9 1.9 0 1 0 3.7 0a1.9 1.9 0 1 0 -3.7 0zM1628.8 100.6a1.9 1.9 0 1 0 3.7 0a1.9 1.9 0 1 0 -3.7 0zM1568.4 87.8a1.9 1.9 0 1 0 3.7 0a1.9 1.9 0 1 0 -3.7 0zM1547.9 72.4a1.9 1.9 0 1 0 3.7 0a1.9 1.9 0 1 0 -3.7 0zM1559.9 81a1.9 1.9 0 1 0 3.7 0a1.9 1.9 0 1 0 -3.7 0zM1552.2 79.1a1.9 1.9 0 1 0 3.7 0a1.9 1.9 0 1 0 -3.7 0zM1575 86.2a1.9 1.9 0 1 0 3.7 0a1.9 1.9 0 1 0 -3.7 0zM1605.8 95.1a1.9 1.9 0 1 0 3.7 0a1.9 1.9 0 1 0 -3.7 0zM1608 105.2a1.9 1.9 0 1 0 3.7 0a1.9 1.9 0 1 0 -3.7 0zM1547.7 86.9a1.9 1.9 0 1 0 3.7 0a1.9 1.9 0 1 0 -3.7 0zM1552.7 80.1a1.9 1.9 0 1 0 3.7 0a1.9 1.9 0 1 0 -3.7 0zM1570.8 85.4a1.9 1.9 0 1 0 3.7 0a1.9 1.9 0 1 0 -3.7 0zM1615.2 84.8a1.9 1.9 0 1 0 3.7 0a1.9 1.9 0 1 0 -3.7 0zM1582.2 80.1a1.9 1.9 0 1 0 3.7 0a1.9 1.9 0 1 0 -3.7 0zM1587.2 84.8a1.9 1.9 0 1 0 3.7 0a1.9 1.9 0 1 0 -3.7 0zM1564.5 84.6a1.9 1.9 0 1 0 3.7 0a1.9 1.9 0 1 0 -3.7 0zM1588.2 72.3a1.9 1.9 0 1 0 3.7 0a1.9 1.9 0 1 0 -3.7 0zM1593.3 90.4a1.9 1.9 0 1 0 3.7 0a1.9 1.9 0 1 0 -3.7 0zM1568.7 80.8a1.9 1.9 0 1 0 3.7 0a1.9 1.9 0 1 0 -3.7 0zM1592.9 74.3a1.9 1.9 0 1 0 3.7 0a1.9 1.9 0 1 0 -3.7 0zM1606.9 89.8a1.9 1.9 0 1 0 3.7 0a1.9 1.9 0 1 0 -3.7 0zM1570.3 79.5a1.9 1.9 0 1 0 3.7 0a1.9 1.9 0 1 0 -3.7 0zM1579.6 102.9a1.9 1.9 0 1 0 3.7 0a1.9 1.9 0 1 0 -3.7 0zM1549.8 89.6a1.9 1.9 0 1 0 3.7 0a1.9 1.9 0 1 0 -3.7 0zM1561.6 85.4a1.9 1.9 0 1 0 3.7 0a1.9 1.9 0 1 0 -3.7 0zM1541.6 76.6a1.9 1.9 0 1 0 3.7 0a1.9 1.9 0 1 0 -3.7 0zM1543 80.3a1.9 1.9 0 1 0 3.7 0a1.9 1.9 0 1 0 -3.7 0zM1545.6 93.4a1.9 1.9 0 1 0 3.7 0a1.9 1.9 0 1 0 -3.7 0zM1620.1 77.3a1.9 1.9 0 1 0 3.7 0a1.9 1.9 0 1 0 -3.7 0zM1604.9 92.5a1.9 1.9 0 1 0 3.7 0a1.9 1.9 0 1 0 -3.7 0zM1591.5 62.4a1.9 1.9 0 1 0 3.7 0a1.9 1.9 0 1 0 -3.7 0zM1611 86.5a1.9 1.9 0 1 0 3.7 0a1.9 1.9 0 1 0 -3.7 0zM1554 93a1.9 1.9 0 1 0 3.7 0a1.9 1.9 0 1 0 -3.7 0zM1570.1 88a1.9 1.9 0 1 0 3.7 0a1.9 1.9 0 1 0 -3.7 0zM1591.2 84.4a1.9 1.9 0 1 0 3.7 0a1.9 1.9 0 1 0 -3.7 0zM1616.2 95a1.9 1.9 0 1 0 3.7 0a1.9 1.9 0 1 0 -3.7 0zM1587.3 75.4a1.9 1.9 0 1 0 3.7 0a1.9 1.9 0 1 0 -3.7 0zM1549.4 74.1a1.9 1.9 0 1 0 3.7 0a1.9 1.9 0 1 0 -3.7 0zM1541.9 85.5a1.9 1.9 0 1 0 3.7 0a1.9 1.9 0 1 0 -3.7 0zM1541.1 97a1.9 1.9 0 1 0 3.7 0a1.9 1.9 0 1 0 -3.7 0zM1607.1 88.9a1.9 1.9 0 1 0 3.7 0a1.9 1.9 0 1 0 -3.7 0zM1619.8 82.3a1.9 1.9 0 1 0 3.7 0a1.9 1.9 0 1 0 -3.7 0zM1551.2 87.5a1.9 1.9 0 1 0 3.7 0a1.9 1.9 0 1 0 -3.7 0zM1612 89a1.9 1.9 0 1 0 3.7 0a1.9 1.9 0 1 0 -3.7 0zM1541.7 71.3a1.9 1.9 0 1 0 3.7 0a1.9 1.9 0 1 0 -3.7 0zM1614.3 54.9a1.9 1.9 0 1 0 3.7 0a1.9 1.9 0 1 0 -3.7 0zM1602.2 73.6a1.9 1.9 0 1 0 3.7 0a1.9 1.9 0 1 0 -3.7 0zM1581.2 68.7a1.9 1.9 0 1 0 3.7 0a1.9 1.9 0 1 0 -3.7 0zM1581.6 78.3a1.9 1.9 0 1 0 3.7 0a1.9 1.9 0 1 0 -3.7 0zM1558 71.8a1.9 1.9 0 1 0 3.7 0a1.9 1.9 0 1 0 -3.7 0zM1623.1 75.3a1.9 1.9 0 1 0 3.7 0a1.9 1.9 0 1 0 -3.7 0zM1562.8 88.9a1.9 1.9 0 1 0 3.7 0a1.9 1.9 0 1 0 -3.7 0zM1562.1 85.4a1.9 1.9 0 1 0 3.7 0a1.9 1.9 0 1 0 -3.7 0zM1608.5 84.2a1.9 1.9 0 1 0 3.7 0a1.9 1.9 0 1 0 -3.7 0zM1590.7 101.9a1.9 1.9 0 1 0 3.7 0a1.9 1.9 0 1 0 -3.7 0zM1585.2 79.6a1.9 1.9 0 1 0 3.7 0a1.9 1.9 0 1 0 -3.7 0zM1590.1 80.5a1.9 1.9 0 1 0 3.7 0a1.9 1.9 0 1 0 -3.7 0zM1548 97.8a1.9 1.9 0 1 0 3.7 0a1.9 1.9 0 1 0 -3.7 0zM1547.8 72.8a1.9 1.9 0 1 0 3.7 0a1.9 1.9 0 1 0 -3.7 0zM1627.5 67.4a1.9 1.9 0 1 0 3.7 0a1.9 1.9 0 1 0 -3.7 0zM1602.2 98.3a1.9 1.9 0 1 0 3.7 0a1.9 1.9 0 1 0 -3.7 0z"/>
<line x1="1585.5" y1="60.4" x2="1585.5" y2="75.8" stroke="#000" stroke-width="3"/>
<line x1="1585.5" y1="89.2" x2="1585.5" y2="106.9" stroke="#000" stroke-width="3"/>
<rect x="1542.7" y="75.8" width="85.6" height="13.4" fill="none" stroke="#000" stroke-width="3"/>
<line x1="1542.7" y1="83.6" x2="1628.3" y2="83.6" stroke="#000" stroke-width="2.7"/>
<path fill="#000" d="M1702 87.3a1.9 1.9 0 1 0 3.7 0a1.9 1.9 0 1 0 -3.7 0zM1724.3 60.6a1.9 1.9 0 1 0 3.7 0a1.9 1.9 0 1 0 -3.7 0zM1743.7 93.1a1.9 1.9 0 1 0 3.7 0a1.9 1.9 0 1 0 -3.7 0zM1674.6 63.8a1.9 1.9 0 1 0 3.7 0a1.9 1.9 0 1 0 -3.7 0zM1655.3 68.3a1.9 1.9 0 1 0 3.7 0a1.9 1.9 0 1 0 -3.7 0zM1742.1 88.3a1.9 1.9 0 1 0 3.7 0a1.9 1.9 0 1 0 -3.7 0zM1652.4 76.2a1.9 1.9 0 1 0 3.7 0a1.9 1.9 0 1 0 -3.7 0zM1740.4 98.9a1.9 1.9 0 1 0 3.7 0a1.9 1.9 0 1 0 -3.7 0zM1734 82a1.9 1.9 0 1 0 3.7 0a1.9 1.9 0 1 0 -3.7 0zM1734.6 69.6a1.9 1.9 0 1 0 3.7 0a1.9 1.9 0 1 0 -3.7 0zM1689.1 82a1.9 1.9 0 1 0 3.7 0a1.9 1.9 0 1 0 -3.7 0zM1670.6 76.2a1.9 1.9 0 1 0 3.7 0a1.9 1.9 0 1 0 -3.7 0zM1707 96.8a1.9 1.9 0 1 0 3.7 0a1.9 1.9 0 1 0 -3.7 0zM1691.8 97.6a1.9 1.9 0 1 0 3.7 0a1.9 1.9 0 1 0 -3.7 0zM1717.2 88.3a1.9 1.9 0 1 0 3.7 0a1.9 1.9 0 1 0 -3.7 0zM1669.8 76.3a1.9 1.9 0 1 0 3.7 0a1.9 1.9 0 1 0 -3.7 0zM1695.3 81.4a1.9 1.9 0 1 0 3.7 0a1.9 1.9 0 1 0 -3.7 0zM1735.8 91.6a1.9 1.9 0 1 0 3.7 0a1.9 1.9 0 1 0 -3.7 0zM1706.2 72.2a1.9 1.9 0 1 0 3.7 0a1.9 1.9 0 1 0 -3.7 0zM1737.2 72.2a1.9 1.9 0 1 0 3.7 0a1.9 1.9 0 1 0 -3.7 0zM1720.9 89.5a1.9 1.9 0 1 0 3.7 0a1.9 1.9 0 1 0 -3.7 0zM1664.5 88.3a1.9 1.9 0 1 0 3.7 0a1.9 1.9 0 1 0 -3.7 0zM1711.3 78.2a1.9 1.9 0 1 0 3.7 0a1.9 1.9 0 1 0 -3.7 0zM1669.1 77.8a1.9 1.9 0 1 0 3.7 0a1.9 1.9 0 1 0 -3.7 0zM1658.7 60.1a1.9 1.9 0 1 0 3.7 0a1.9 1.9 0 1 0 -3.7 0zM1707.5 93a1.9 1.9 0 1 0 3.7 0a1.9 1.9 0 1 0 -3.7 0zM1653 79.4a1.9 1.9 0 1 0 3.7 0a1.9 1.9 0 1 0 -3.7 0zM1657 65.6a1.9 1.9 0 1 0 3.7 0a1.9 1.9 0 1 0 -3.7 0zM1688 68.8a1.9 1.9 0 1 0 3.7 0a1.9 1.9 0 1 0 -3.7 0zM1668.8 71.2a1.9 1.9 0 1 0 3.7 0a1.9 1.9 0 1 0 -3.7 0zM1713.1 98.5a1.9 1.9 0 1 0 3.7 0a1.9 1.9 0 1 0 -3.7 0zM1677.7 87.9a1.9 1.9 0 1 0 3.7 0a1.9 1.9 0 1 0 -3.7 0zM1674.4 66.6a1.9 1.9 0 1 0 3.7 0a1.9 1.9 0 1 0 -3.7 0zM1702.7 100.1a1.9 1.9 0 1 0 3.7 0a1.9 1.9 0 1 0 -3.7 0zM1700.3 94.7a1.9 1.9 0 1 0 3.7 0a1.9 1.9 0 1 0 -3.7 0zM1729.7 69.6a1.9 1.9 0 1 0 3.7 0a1.9 1.9 0 1 0 -3.7 0zM1727.4 52.8a1.9 1.9 0 1 0 3.7 0a1.9 1.9 0 1 0 -3.7 0zM1737.7 90.8a1.9 1.9 0 1 0 3.7 0a1.9 1.9 0 1 0 -3.7 0zM1662.4 74.4a1.9 1.9 0 1 0 3.7 0a1.9 1.9 0 1 0 -3.7 0zM1657.4 79.3a1.9 1.9 0 1 0 3.7 0a1.9 1.9 0 1 0 -3.7 0zM1721 75.2a1.9 1.9 0 1 0 3.7 0a1.9 1.9 0 1 0 -3.7 0zM1688.9 93.9a1.9 1.9 0 1 0 3.7 0a1.9 1.9 0 1 0 -3.7 0zM1657.1 96.2a1.9 1.9 0 1 0 3.7 0a1.9 1.9 0 1 0 -3.7 0zM1700.8 89.2a1.9 1.9 0 1 0 3.7 0a1.9 1.9 0 1 0 -3.7 0zM1681.6 79.1a1.9 1.9 0 1 0 3.7 0a1.9 1.9 0 1 0 -3.7 0zM1671.8 83.4a1.9 1.9 0 1 0 3.7 0a1.9 1.9 0 1 0 -3.7 0zM1713.1 87.2a1.9 1.9 0 1 0 3.7 0a1.9 1.9 0 1 0 -3.7 0zM1719.5 64.2a1.9 1.9 0 1 0 3.7 0a1.9 1.9 0 1 0 -3.7 0zM1676 93.8a1.9 1.9 0 1 0 3.7 0a1.9 1.9 0 1 0 -3.7 0zM1713.2 77.4a1.9 1.9 0 1 0 3.7 0a1.9 1.9 0 1 0 -3.7 0zM1672.9 83.5a1.9 1.9 0 1 0 3.7 0a1.9 1.9 0 1 0 -3.7 0zM1733.3 82.2a1.9 1.9 0 1 0 3.7 0a1.9 1.9 0 1 0 -3.7 0zM1688.7 90.2a1.9 1.9 0 1 0 3.7 0a1.9 1.9 0 1 0 -3.7 0zM1695.5 92a1.9 1.9 0 1 0 3.7 0a1.9 1.9 0 1 0 -3.7 0zM1667.6 103.9a1.9 1.9 0 1 0 3.7 0a1.9 1.9 0 1 0 -3.7 0zM1694.7 77.1a1.9 1.9 0 1 0 3.7 0a1.9 1.9 0 1 0 -3.7 0zM1677.6 71.3a1.9 1.9 0 1 0 3.7 0a1.9 1.9 0 1 0 -3.7 0zM1724 82.2a1.9 1.9 0 1 0 3.7 0a1.9 1.9 0 1 0 -3.7 0zM1664.6 74a1.9 1.9 0 1 0 3.7 0a1.9 1.9 0 1 0 -3.7 0zM1701.1 89.9a1.9 1.9 0 1 0 3.7 0a1.9 1.9 0 1 0 -3.7 0zM1689.2 72.4a1.9 1.9 0 1 0 3.7 0a1.9 1.9 0 1 0 -3.7 0zM1735.8 82.3a1.9 1.9 0 1 0 3.7 0a1.9 1.9 0 1 0 -3.7 0zM1712.2 90.8a1.9 1.9 0 1 0 3.7 0a1.9 1.9 0 1 0 -3.7 0zM1703.8 91.6a1.9 1.9 0 1 0 3.7 0a1.9 1.9 0 1 0 -3.7 0zM1665.6 83.1a1.9 1.9 0 1 0 3.7 0a1.9 1.9 0 1 0 -3.7 0zM1661.7 95.8a1.9 1.9 0 1 0 3.7 0a1.9 1.9 0 1 0 -3.7 0zM1707.6 94.5a1.9 1.9 0 1 0 3.7 0a1.9 1.9 0 1 0 -3.7 0zM1736.5 63.1a1.9 1.9 0 1 0 3.7 0a1.9 1.9 0 1 0 -3.7 0zM1659.7 84.7a1.9 1.9 0 1 0 3.7 0a1.9 1.9 0 1 0 -3.7 0zM1690.8 82.9a1.9 1.9 0 1 0 3.7 0a1.9 1.9 0 1 0 -3.7 0zM1686.1 77.9a1.9 1.9 0 1 0 3.7 0a1.9 1.9 0 1 0 -3.7 0zM1654.2 74.3a1.9 1.9 0 1 0 3.7 0a1.9 1.9 0 1 0 -3.7 0zM1709.4 81.5a1.9 1.9 0 1 0 3.7 0a1.9 1.9 0 1 0 -3.7 0zM1694.6 85.1a1.9 1.9 0 1 0 3.7 0a1.9 1.9 0 1 0 -3.7 0zM1696.4 83.9a1.9 1.9 0 1 0 3.7 0a1.9 1.9 0 1 0 -3.7 0zM1728.2 95.4a1.9 1.9 0 1 0 3.7 0a1.9 1.9 0 1 0 -3.7 0zM1709.3 91.5a1.9 1.9 0 1 0 3.7 0a1.9 1.9 0 1 0 -3.7 0zM1674.2 74.9a1.9 1.9 0 1 0 3.7 0a1.9 1.9 0 1 0 -3.7 0zM1740.2 73.1a1.9 1.9 0 1 0 3.7 0a1.9 1.9 0 1 0 -3.7 0zM1736.9 90a1.9 1.9 0 1 0 3.7 0a1.9 1.9 0 1 0 -3.7 0zM1715.6 73.8a1.9 1.9 0 1 0 3.7 0a1.9 1.9 0 1 0 -3.7 0zM1663.4 82.8a1.9 1.9 0 1 0 3.7 0a1.9 1.9 0 1 0 -3.7 0zM1710.2 86.1a1.9 1.9 0 1 0 3.7 0a1.9 1.9 0 1 0 -3.7 0zM1652.3 91.9a1.9 1.9 0 1 0 3.7 0a1.9 1.9 0 1 0 -3.7 0zM1678.4 86.5a1.9 1.9 0 1 0 3.7 0a1.9 1.9 0 1 0 -3.7 0zM1692.1 96.3a1.9 1.9 0 1 0 3.7 0a1.9 1.9 0 1 0 -3.7 0zM1694.4 76.3a1.9 1.9 0 1 0 3.7 0a1.9 1.9 0 1 0 -3.7 0zM1724.4 88.2a1.9 1.9 0 1 0 3.7 0a1.9 1.9 0 1 0 -3.7 0zM1703.4 74.2a1.9 1.9 0 1 0 3.7 0a1.9 1.9 0 1 0 -3.7 0zM1711.5 83.1a1.9 1.9 0 1 0 3.7 0a1.9 1.9 0 1 0 -3.7 0zM1693.4 82.4a1.9 1.9 0 1 0 3.7 0a1.9 1.9 0 1 0 -3.7 0zM1719.2 71.4a1.9 1.9 0 1 0 3.7 0a1.9 1.9 0 1 0 -3.7 0zM1669.3 53.8a1.9 1.9 0 1 0 3.7 0a1.9 1.9 0 1 0 -3.7 0zM1734.4 91.2a1.9 1.9 0 1 0 3.7 0a1.9 1.9 0 1 0 -3.7 0zM1729.1 84.9a1.9 1.9 0 1 0 3.7 0a1.9 1.9 0 1 0 -3.7 0zM1735.8 82.6a1.9 1.9 0 1 0 3.7 0a1.9 1.9 0 1 0 -3.7 0zM1739.3 73.8a1.9 1.9 0 1 0 3.7 0a1.9 1.9 0 1 0 -3.7 0zM1723.9 77.6a1.9 1.9 0 1 0 3.7 0a1.9 1.9 0 1 0 -3.7 0zM1678.8 85.9a1.9 1.9 0 1 0 3.7 0a1.9 1.9 0 1 0 -3.7 0zM1736 81.3a1.9 1.9 0 1 0 3.7 0a1.9 1.9 0 1 0 -3.7 0z"/>
<line x1="1699.8" y1="57.1" x2="1699.8" y2="74.1" stroke="#000" stroke-width="3"/>
<line x1="1699.8" y1="85.6" x2="1699.8" y2="100" stroke="#000" stroke-width="3"/>
<rect x="1657" y="74.1" width="85.6" height="11.5" fill="none" stroke="#000" stroke-width="3"/>
<line x1="1657" y1="80.7" x2="1742.6" y2="80.7" stroke="#000" stroke-width="2.7"/>
<path fill="#000" d="M1773.4 63.4a1.9 1.9 0 1 0 3.7 0a1.9 1.9 0 1 0 -3.7 0zM1826.3 77.8a1.9 1.9 0 1 0 3.7 0a1.9 1.9 0 1 0 -3.7 0zM1820.4 86.9a1.9 1.9 0 1 0 3.7 0a1.9 1.9 0 1 0 -3.7 0zM1829.6 86.2a1.9 1.9 0 1 0 3.7 0a1.9 1.9 0 1 0 -3.7 0zM1856.3 84.6a1.9 1.9 0 1 0 3.7 0a1.9 1.9 0 1 0 -3.7 0zM1792.6 92.2a1.9 1.9 0 1 0 3.7 0a1.9 1.9 0 1 0 -3.7 0zM1789.1 84.2a1.9 1.9 0 1 0 3.7 0a1.9 1.9 0 1 0 -3.7 0zM1794.7 79.2a1.9 1.9 0 1 0 3.7 0a1.9 1.9 0 1 0 -3.7 0zM1841.4 100.1a1.9 1.9 0 1 0 3.7 0a1.9 1.9 0 1 0 -3.7 0zM1826.7 63.1a1.9 1.9 0 1 0 3.7 0a1.9 1.9 0 1 0 -3.7 0zM1835.5 71.1a1.9 1.9 0 1 0 3.7 0a1.9 1.9 0 1 0 -3.7 0zM1788.4 75.5a1.9 1.9 0 1 0 3.7 0a1.9 1.9 0 1 0 -3.7 0zM1779.1 75.6a1.9 1.9 0 1 0 3.7 0a1.9 1.9 0 1 0 -3.7 0zM1810.1 75.1a1.9 1.9 0 1 0 3.7 0a1.9 1.9 0 1 0 -3.7 0zM1849.6 80.8a1.9 1.9 0 1 0 3.7 0a1.9 1.9 0 1 0 -3.7 0zM1790.6 75.7a1.9 1.9 0 1 0 3.7 0a1.9 1.9 0 1 0 -3.7 0zM1836.6 82.5a1.9 1.9 0 1 0 3.7 0a1.9 1.9 0 1 0 -3.7 0zM1831.1 89.3a1.9 1.9 0 1 0 3.7 0a1.9 1.9 0 1 0 -3.7 0zM1800.4 83.4a1.9 1.9 0 1 0 3.7 0a1.9 1.9 0 1 0 -3.7 0zM1830.9 84.5a1.9 1.9 0 1 0 3.7 0a1.9 1.9 0 1 0 -3.7 0zM1851.1 73.3a1.9 1.9 0 1 0 3.7 0a1.9 1.9 0 1 0 -3.7 0zM1786.1 71.2a1.9 1.9 0 1 0 3.7 0a1.9 1.9 0 1 0 -3.7 0zM1790.7 80a1.9 1.9 0 1 0 3.7 0a1.9 1.9 0 1 0 -3.7 0zM1802.5 92.7a1.9 1.9 0 1 0 3.7 0a1.9 1.9 0 1 0 -3.7 0zM1784.9 87a1.9 1.9 0 1 0 3.7 0a1.9 1.9 0 1 0 -3.7 0zM1803.5 94.4a1.9 1.9 0 1 0 3.7 0a1.9 1.9 0 1 0 -3.7 0zM1833.9 93.4a1.9 1.9 0 1 0 3.7 0a1.9 1.9 0 1 0 -3.7 0zM1845.2 94.8a1.9 1.9 0 1 0 3.7 0a1.9 1.9 0 1 0 -3.7 0zM1827.7 74.6a1.9 1.9 0 1 0 3.7 0a1.9 1.9 0 1 0 -3.7 0zM1816.4 96a1.9 1.9 0 1 0 3.7 0a1.9 1.9 0 1 0 -3.7 0zM1851.2 90.9a1.9 1.9 0 1 0 3.7 0a1.9 1.9 0 1 0 -3.7 0zM1783.9 104.7a1.9 1.9 0 1 0 3.7 0a1.9 1.9 0 1 0 -3.7 0zM1830.6 89.2a1.9 1.9 0 1 0 3.7 0a1.9 1.9 0 1 0 -3.7 0zM1801.6 86.4a1.9 1.9 0 1 0 3.7 0a1.9 1.9 0 1 0 -3.7 0zM1852.6 81.7a1.9 1.9 0 1 0 3.7 0a1.9 1.9 0 1 0 -3.7 0zM1784.7 84.7a1.9 1.9 0 1 0 3.7 0a1.9 1.9 0 1 0 -3.7 0zM1790.1 65.8a1.9 1.9 0 1 0 3.7 0a1.9 1.9 0 1 0 -3.7 0zM1777.3 80.4a1.9 1.9 0 1 0 3.7 0a1.9 1.9 0 1 0 -3.7 0zM1808.5 82.6a1.9 1.9 0 1 0 3.7 0a1.9 1.9 0 1 0 -3.7 0zM1829.9 93.4a1.9 1.9 0 1 0 3.7 0a1.9 1.9 0 1 0 -3.7 0zM1793.5 76.2a1.9 1.9 0 1 0 3.7 0a1.9 1.9 0 1 0 -3.7 0zM1849 84.4a1.9 1.9 0 1 0 3.7 0a1.9 1.9 0 1 0 -3.7 0zM1840.1 102.1a1.9 1.9 0 1 0 3.7 0a1.9 1.9 0 1 0 -3.7 0zM1791.6 77.5a1.9 1.9 0 1 0 3.7 0a1.9 1.9 0 1 0 -3.7 0zM1822.1 91.8a1.9 1.9 0 1 0 3.7 0a1.9 1.9 0 1 0 -3.7 0zM1826.9 77.5a1.9 1.9 0 1 0 3.7 0a1.9 1.9 0 1 0 -3.7 0zM1779.3 82a1.9 1.9 0 1 0 3.7 0a1.9 1.9 0 1 0 -3.7 0zM1826.2 87.8a1.9 1.9 0 1 0 3.7 0a1.9 1.9 0 1 0 -3.7 0zM1824.1 92.2a1.9 1.9 0 1 0 3.7 0a1.9 1.9 0 1 0 -3.7 0zM1846.6 77.9a1.9 1.9 0 1 0 3.7 0a1.9 1.9 0 1 0 -3.7 0zM1794 72.4a1.9 1.9 0 1 0 3.7 0a1.9 1.9 0 1 0 -3.7 0zM1779.4 98.8a1.9 1.9 0 1 0 3.7 0a1.9 1.9 0 1 0 -3.7 0zM1816.6 85a1.9 1.9 0 1 0 3.7 0a1.9 1.9 0 1 0 -3.7 0zM1845.4 91.3a1.9 1.9 0 1 0 3.7 0a1.9 1.9 0 1 0 -3.7 0zM1777.8 92.5a1.9 1.9 0 1 0 3.7 0a1.9 1.9 0 1 0 -3.7 0zM1785.8 90.9a1.9 1.9 0 1 0 3.7 0a1.9 1.9 0 1 0 -3.7 0zM1776.4 80.3a1.9 1.9 0 1 0 3.7 0a1.9 1.9 0 1 0 -3.7 0zM1857.2 81.6a1.9 1.9 0 1 0 3.7 0a1.9 1.9 0 1 0 -3.7 0zM1836.4 66.9a1.9 1.9 0 1 0 3.7 0a1.9 1.9 0 1 0 -3.7 0zM1775.3 84.9a1.9 1.9 0 1 0 3.7 0a1.9 1.9 0 1 0 -3.7 0zM1844.5 78.2a1.9 1.9 0 1 0 3.7 0a1.9 1.9 0 1 0 -3.7 0zM1806.8 82.8a1.9 1.9 0 1 0 3.7 0a1.9 1.9 0 1 0 -3.7 0zM1769 102.5a1.9 1.9 0 1 0 3.7 0a1.9 1.9 0 1 0 -3.7 0zM1772.4 90.2a1.9 1.9 0 1 0 3.7 0a1.9 1.9 0 1 0 -3.7 0zM1789.6 83.6a1.9 1.9 0 1 0 3.7 0a1.9 1.9 0 1 0 -3.7 0zM1770.3 68.9a1.9 1.9 0 1 0 3.7 0a1.9 1.9 0 1 0 -3.7 0zM1782.2 90.6a1.9 1.9 0 1 0 3.7 0a1.9 1.9 0 1 0 -3.7 0zM1772.6 98.8a1.9 1.9 0 1 0 3.7 0a1.9 1.9 0 1 0 -3.7 0zM1779.7 74.5a1.9 1.9 0 1 0 3.7 0a1.9 1.9 0 1 0 -3.7 0zM1775.8 87.4a1.9 1.9 0 1 0 3.7 0a1.9 1.9 0 1 0 -3.7 0zM1805.7 77.7a1.9 1.9 0 1 0 3.7 0a1.9 1.9 0 1 0 -3.7 0zM1842.5 81.5a1.9 1.9 0 1 0 3.7 0a1.9 1.9 0 1 0 -3.7 0zM1838.6 79.2a1.9 1.9 0 1 0 3.7 0a1.9 1.9 0 1 0 -3.7 0zM1815.3 66.3a1.9 1.9 0 1 0 3.7 0a1.9 1.9 0 1 0 -3.7 0zM1772.5 77.7a1.9 1.9 0 1 0 3.7 0a1.9 1.9 0 1 0 -3.7 0zM1853.6 66.3a1.9 1.9 0 1 0 3.7 0a1.9 1.9 0 1 0 -3.7 0zM1772.9 97.4a1.9 1.9 0 1 0 3.7 0a1.9 1.9 0 1 0 -3.7 0zM1768 93.8a1.9 1.9 0 1 0 3.7 0a1.9 1.9 0 1 0 -3.7 0zM1835.4 83.5a1.9 1.9 0 1 0 3.7 0a1.9 1.9 0 1 0 -3.7 0zM1824.1 85.9a1.9 1.9 0 1 0 3.7 0a1.9 1.9 0 1 0 -3.7 0zM1836.2 83.6a1.9 1.9 0 1 0 3.7 0a1.9 1.9 0 1 0 -3.7 0zM1792 85.1a1.9 1.9 0 1 0 3.7 0a1.9 1.9 0 1 0 -3.7 0zM1848.6 85.1a1.9 1.9 0 1 0 3.7 0a1.9 1.9 0 1 0 -3.7 0zM1846.7 80.6a1.9 1.9 0 1 0 3.7 0a1.9 1.9 0 1 0 -3.7 0zM1770.8 81.3a1.9 1.9 0 1 0 3.7 0a1.9 1.9 0 1 0 -3.7 0zM1854.4 69.1a1.9 1.9 0 1 0 3.7 0a1.9 1.9 0 1 0 -3.7 0zM1837.2 72.7a1.9 1.9 0 1 0 3.7 0a1.9 1.9 0 1 0 -3.7 0zM1845 76.8a1.9 1.9 0 1 0 3.7 0a1.9 1.9 0 1 0 -3.7 0zM1810.7 85.2a1.9 1.9 0 1 0 3.7 0a1.9 1.9 0 1 0 -3.7 0zM1839.6 79.2a1.9 1.9 0 1 0 3.7 0a1.9 1.9 0 1 0 -3.7 0zM1850.3 102.7a1.9 1.9 0 1 0 3.7 0a1.9 1.9 0 1 0 -3.7 0zM1849 81.1a1.9 1.9 0 1 0 3.7 0a1.9 1.9 0 1 0 -3.7 0zM1792.2 79.4a1.9 1.9 0 1 0 3.7 0a1.9 1.9 0 1 0 -3.7 0zM1782.5 87.5a1.9 1.9 0 1 0 3.7 0a1.9 1.9 0 1 0 -3.7 0zM1826.2 93.7a1.9 1.9 0 1 0 3.7 0a1.9 1.9 0 1 0 -3.7 0zM1807.5 102.2a1.9 1.9 0 1 0 3.7 0a1.9 1.9 0 1 0 -3.7 0zM1845.5 93.1a1.9 1.9 0 1 0 3.7 0a1.9 1.9 0 1 0 -3.7 0zM1808.1 77a1.9 1.9 0 1 0 3.7 0a1.9 1.9 0 1 0 -3.7 0zM1781.4 81.3a1.9 1.9 0 1 0 3.7 0a1.9 1.9 0 1 0 -3.7 0zM1801.2 93.9a1.9 1.9 0 1 0 3.7 0a1.9 1.9 0 1 0 -3.7 0z"/>
<line x1="1814.5" y1="61.4" x2="1814.5" y2="76.5" stroke="#000" stroke-width="3"/>
<line x1="1814.5" y1="88.5" x2="1814.5" y2="107.4" stroke="#000" stroke-width="3"/>
<rect x="1771.7" y="76.5" width="85.6" height="12" fill="none" stroke="#000" stroke-width="3"/>
<line x1="1771.7" y1="82.9" x2="1857.2" y2="82.9" stroke="#000" stroke-width="2.7"/>
<line x1="1124.1" y1="43.6" x2="1124.1" y2="361.5" stroke="#000" stroke-width="3.9"/>
<line x1="1124.1" y1="361.5" x2="1883.4" y2="361.5" stroke="#000" stroke-width="3.9"/>
<line x1="1114.1" y1="45.5" x2="1124.1" y2="45.5" stroke="#000" stroke-width="3.8"/>
<text transform="translate(1109.2,54.8) scale(0.890,1)" font-size="23.8" text-anchor="end">1.00</text>
<line x1="1114.1" y1="124.5" x2="1124.1" y2="124.5" stroke="#000" stroke-width="3.8"/>
<text transform="translate(1109.2,133.8) scale(0.890,1)" font-size="23.8" text-anchor="end">0.75</text>
<line x1="1114.1" y1="203.4" x2="1124.1" y2="203.4" stroke="#000" stroke-width="3.8"/>
<text transform="translate(1109.2,212.7) scale(0.890,1)" font-size="23.8" text-anchor="end">0.50</text>
<line x1="1114.1" y1="282.4" x2="1124.1" y2="282.4" stroke="#000" stroke-width="3.8"/>
<text transform="translate(1109.2,291.7) scale(0.890,1)" font-size="23.8" text-anchor="end">0.25</text>
<line x1="1114.1" y1="361.3" x2="1124.1" y2="361.3" stroke="#000" stroke-width="3.8"/>
<text transform="translate(1109.2,370.6) scale(0.890,1)" font-size="23.8" text-anchor="end">0.00</text>
<line x1="1238.6" y1="361.3" x2="1238.6" y2="371.8" stroke="#000" stroke-width="3.8"/>
<line x1="1353.8" y1="361.3" x2="1353.8" y2="371.8" stroke="#000" stroke-width="3.8"/>
<line x1="1469" y1="361.3" x2="1469" y2="371.8" stroke="#000" stroke-width="3.8"/>
<line x1="1584.2" y1="361.3" x2="1584.2" y2="371.8" stroke="#000" stroke-width="3.8"/>
<line x1="1699.4" y1="361.3" x2="1699.4" y2="371.8" stroke="#000" stroke-width="3.8"/>
<line x1="1814.6" y1="361.3" x2="1814.6" y2="371.8" stroke="#000" stroke-width="3.8"/>
<text transform="translate(1245.9,398.7) scale(0.955,1)" font-size="26.7" text-anchor="middle">ULR-</text>
<text transform="translate(1238.7,426.6) scale(0.955,1)" font-size="26.7" text-anchor="middle">RBD</text>
<text transform="translate(1359.6,398.7) scale(0.955,1)" font-size="26.7" text-anchor="middle">ULR-</text>
<text transform="translate(1354.4,426.6) scale(0.955,1)" font-size="26.7" text-anchor="middle">S1</text>
<text transform="translate(1467.3,398.7) scale(0.955,1)" font-size="26.7" text-anchor="middle">MLR-S1,</text>
<text transform="translate(1467.3,426.6) scale(0.955,1)" font-size="26.7" text-anchor="middle">RBD</text>
<text transform="translate(1591.9,398.7) scale(0.955,1)" font-size="26.7" text-anchor="middle">MLR-</text>
<text transform="translate(1584.9,426.6) scale(0.955,1)" font-size="26.7" text-anchor="middle">PCA2</text>
<text transform="translate(1702.4,398.7) scale(0.955,1)" font-size="26.7" text-anchor="middle">MLR-</text>
<text transform="translate(1698.5,426.6) scale(0.955,1)" font-size="26.7" text-anchor="middle">PCA4</text>
<text transform="translate(1815.7,398.7) scale(0.955,1)" font-size="26.7" text-anchor="middle">RF</text>
<text transform="translate(1046.6,203.4) rotate(-90) scale(0.878,1)" font-size="28.9" text-anchor="middle">AUC</text>
</g>
<g id="panel-c">
<text transform="translate(1005.7,436.9) scale(1.060,1)" font-size="31.3">c</text>
<path fill="#000" d="M1235.8 528.3a1.9 1.9 0 1 0 3.9 0a1.9 1.9 0 1 0 -3.9 0zM1306.5 506.5a1.9 1.9 0 1 0 3.9 0a1.9 1.9 0 1 0 -3.9 0zM1235 517.4a1.9 1.9 0 1 0 3.9 0a1.9 1.9 0 1 0 -3.9 0zM1285.2 516.3a1.9 1.9 0 1 0 3.9 0a1.9 1.9 0 1 0 -3.9 0zM1293.9 521.3a1.9 1.9 0 1 0 3.9 0a1.9 1.9 0 1 0 -3.9 0zM1242.7 519.4a1.9 1.9 0 1 0 3.9 0a1.9 1.9 0 1 0 -3.9 0zM1247.7 510.3a1.9 1.9 0 1 0 3.9 0a1.9 1.9 0 1 0 -3.9 0zM1240.7 538a1.9 1.9 0 1 0 3.9 0a1.9 1.9 0 1 0 -3.9 0zM1212.3 521.6a1.9 1.9 0 1 0 3.9 0a1.9 1.9 0 1 0 -3.9 0zM1252.1 508.2a1.9 1.9 0 1 0 3.9 0a1.9 1.9 0 1 0 -3.9 0zM1226.7 512.2a1.9 1.9 0 1 0 3.9 0a1.9 1.9 0 1 0 -3.9 0zM1228.4 520.9a1.9 1.9 0 1 0 3.9 0a1.9 1.9 0 1 0 -3.9 0zM1220.6 525.4a1.9 1.9 0 1 0 3.9 0a1.9 1.9 0 1 0 -3.9 0zM1221.6 508.2a1.9 1.9 0 1 0 3.9 0a1.9 1.9 0 1 0 -3.9 0zM1287.9 526.3a1.9 1.9 0 1 0 3.9 0a1.9 1.9 0 1 0 -3.9 0zM1246.1 507.9a1.9 1.9 0 1 0 3.9 0a1.9 1.9 0 1 0 -3.9 0zM1228.2 513a1.9 1.9 0 1 0 3.9 0a1.9 1.9 0 1 0 -3.9 0zM1264.1 527.5a1.9 1.9 0 1 0 3.9 0a1.9 1.9 0 1 0 -3.9 0zM1265.5 535a1.9 1.9 0 1 0 3.9 0a1.9 1.9 0 1 0 -3.9 0zM1270.1 519.3a1.9 1.9 0 1 0 3.9 0a1.9 1.9 0 1 0 -3.9 0zM1298.4 517.3a1.9 1.9 0 1 0 3.9 0a1.9 1.9 0 1 0 -3.9 0zM1216.9 531.2a1.9 1.9 0 1 0 3.9 0a1.9 1.9 0 1 0 -3.9 0zM1240.6 510.6a1.9 1.9 0 1 0 3.9 0a1.9 1.9 0 1 0 -3.9 0zM1231.3 522.4a1.9 1.9 0 1 0 3.9 0a1.9 1.9 0 1 0 -3.9 0zM1202.6 522.1a1.9 1.9 0 1 0 3.9 0a1.9 1.9 0 1 0 -3.9 0zM1220.3 528.9a1.9 1.9 0 1 0 3.9 0a1.9 1.9 0 1 0 -3.9 0zM1243.1 522.6a1.9 1.9 0 1 0 3.9 0a1.9 1.9 0 1 0 -3.9 0zM1242.9 517.7a1.9 1.9 0 1 0 3.9 0a1.9 1.9 0 1 0 -3.9 0zM1266.8 525.4a1.9 1.9 0 1 0 3.9 0a1.9 1.9 0 1 0 -3.9 0zM1249.2 510.1a1.9 1.9 0 1 0 3.9 0a1.9 1.9 0 1 0 -3.9 0zM1265.8 527.2a1.9 1.9 0 1 0 3.9 0a1.9 1.9 0 1 0 -3.9 0zM1224.7 514.1a1.9 1.9 0 1 0 3.9 0a1.9 1.9 0 1 0 -3.9 0zM1215.2 512a1.9 1.9 0 1 0 3.9 0a1.9 1.9 0 1 0 -3.9 0zM1236.1 516.8a1.9 1.9 0 1 0 3.9 0a1.9 1.9 0 1 0 -3.9 0zM1211.1 520.4a1.9 1.9 0 1 0 3.9 0a1.9 1.9 0 1 0 -3.9 0zM1240 526.3a1.9 1.9 0 1 0 3.9 0a1.9 1.9 0 1 0 -3.9 0zM1250.1 518.1a1.9 1.9 0 1 0 3.9 0a1.9 1.9 0 1 0 -3.9 0zM1277.8 526.5a1.9 1.9 0 1 0 3.9 0a1.9 1.9 0 1 0 -3.9 0zM1293.6 528.6a1.9 1.9 0 1 0 3.9 0a1.9 1.9 0 1 0 -3.9 0zM1206.4 519.1a1.9 1.9 0 1 0 3.9 0a1.9 1.9 0 1 0 -3.9 0zM1303.2 511.4a1.9 1.9 0 1 0 3.9 0a1.9 1.9 0 1 0 -3.9 0zM1277.9 528.1a1.9 1.9 0 1 0 3.9 0a1.9 1.9 0 1 0 -3.9 0zM1306.6 522.4a1.9 1.9 0 1 0 3.9 0a1.9 1.9 0 1 0 -3.9 0zM1213.6 501.4a1.9 1.9 0 1 0 3.9 0a1.9 1.9 0 1 0 -3.9 0zM1241 511.3a1.9 1.9 0 1 0 3.9 0a1.9 1.9 0 1 0 -3.9 0zM1254.6 521.3a1.9 1.9 0 1 0 3.9 0a1.9 1.9 0 1 0 -3.9 0zM1280.8 507.9a1.9 1.9 0 1 0 3.9 0a1.9 1.9 0 1 0 -3.9 0zM1234.1 514a1.9 1.9 0 1 0 3.9 0a1.9 1.9 0 1 0 -3.9 0zM1249 504.9a1.9 1.9 0 1 0 3.9 0a1.9 1.9 0 1 0 -3.9 0zM1230.4 523.5a1.9 1.9 0 1 0 3.9 0a1.9 1.9 0 1 0 -3.9 0zM1248.9 522.1a1.9 1.9 0 1 0 3.9 0a1.9 1.9 0 1 0 -3.9 0zM1255.4 521.5a1.9 1.9 0 1 0 3.9 0a1.9 1.9 0 1 0 -3.9 0zM1261.3 532.7a1.9 1.9 0 1 0 3.9 0a1.9 1.9 0 1 0 -3.9 0zM1276.2 516.9a1.9 1.9 0 1 0 3.9 0a1.9 1.9 0 1 0 -3.9 0zM1226.7 517.5a1.9 1.9 0 1 0 3.9 0a1.9 1.9 0 1 0 -3.9 0zM1268.3 537.8a1.9 1.9 0 1 0 3.9 0a1.9 1.9 0 1 0 -3.9 0zM1210.5 508.6a1.9 1.9 0 1 0 3.9 0a1.9 1.9 0 1 0 -3.9 0zM1266.2 526.4a1.9 1.9 0 1 0 3.9 0a1.9 1.9 0 1 0 -3.9 0zM1250 508.4a1.9 1.9 0 1 0 3.9 0a1.9 1.9 0 1 0 -3.9 0zM1215.3 522.1a1.9 1.9 0 1 0 3.9 0a1.9 1.9 0 1 0 -3.9 0zM1228.3 538.6a1.9 1.9 0 1 0 3.9 0a1.9 1.9 0 1 0 -3.9 0zM1207.8 522.4a1.9 1.9 0 1 0 3.9 0a1.9 1.9 0 1 0 -3.9 0zM1240.7 513.2a1.9 1.9 0 1 0 3.9 0a1.9 1.9 0 1 0 -3.9 0zM1244.1 541a1.9 1.9 0 1 0 3.9 0a1.9 1.9 0 1 0 -3.9 0zM1253.1 515.2a1.9 1.9 0 1 0 3.9 0a1.9 1.9 0 1 0 -3.9 0zM1208.3 518.2a1.9 1.9 0 1 0 3.9 0a1.9 1.9 0 1 0 -3.9 0zM1277.4 522.7a1.9 1.9 0 1 0 3.9 0a1.9 1.9 0 1 0 -3.9 0zM1235 508.2a1.9 1.9 0 1 0 3.9 0a1.9 1.9 0 1 0 -3.9 0zM1231 529.8a1.9 1.9 0 1 0 3.9 0a1.9 1.9 0 1 0 -3.9 0zM1296.2 534.2a1.9 1.9 0 1 0 3.9 0a1.9 1.9 0 1 0 -3.9 0zM1265.2 526.7a1.9 1.9 0 1 0 3.9 0a1.9 1.9 0 1 0 -3.9 0zM1271.3 522.9a1.9 1.9 0 1 0 3.9 0a1.9 1.9 0 1 0 -3.9 0zM1257.7 518.7a1.9 1.9 0 1 0 3.9 0a1.9 1.9 0 1 0 -3.9 0zM1224 527.8a1.9 1.9 0 1 0 3.9 0a1.9 1.9 0 1 0 -3.9 0zM1217 494.4a1.9 1.9 0 1 0 3.9 0a1.9 1.9 0 1 0 -3.9 0zM1220.6 518.9a1.9 1.9 0 1 0 3.9 0a1.9 1.9 0 1 0 -3.9 0zM1237.3 522.3a1.9 1.9 0 1 0 3.9 0a1.9 1.9 0 1 0 -3.9 0zM1219 502.5a1.9 1.9 0 1 0 3.9 0a1.9 1.9 0 1 0 -3.9 0zM1252 523.8a1.9 1.9 0 1 0 3.9 0a1.9 1.9 0 1 0 -3.9 0zM1304.4 518.9a1.9 1.9 0 1 0 3.9 0a1.9 1.9 0 1 0 -3.9 0zM1280 519.7a1.9 1.9 0 1 0 3.9 0a1.9 1.9 0 1 0 -3.9 0zM1234.1 520.9a1.9 1.9 0 1 0 3.9 0a1.9 1.9 0 1 0 -3.9 0zM1233.6 525.1a1.9 1.9 0 1 0 3.9 0a1.9 1.9 0 1 0 -3.9 0zM1284.5 524a1.9 1.9 0 1 0 3.9 0a1.9 1.9 0 1 0 -3.9 0zM1305.1 510.9a1.9 1.9 0 1 0 3.9 0a1.9 1.9 0 1 0 -3.9 0zM1266.6 519a1.9 1.9 0 1 0 3.9 0a1.9 1.9 0 1 0 -3.9 0zM1228.3 518.4a1.9 1.9 0 1 0 3.9 0a1.9 1.9 0 1 0 -3.9 0zM1248.9 520.3a1.9 1.9 0 1 0 3.9 0a1.9 1.9 0 1 0 -3.9 0zM1217.7 514.8a1.9 1.9 0 1 0 3.9 0a1.9 1.9 0 1 0 -3.9 0zM1247.3 528.5a1.9 1.9 0 1 0 3.9 0a1.9 1.9 0 1 0 -3.9 0zM1296.1 531.5a1.9 1.9 0 1 0 3.9 0a1.9 1.9 0 1 0 -3.9 0zM1222.5 533.4a1.9 1.9 0 1 0 3.9 0a1.9 1.9 0 1 0 -3.9 0zM1248.1 536.8a1.9 1.9 0 1 0 3.9 0a1.9 1.9 0 1 0 -3.9 0zM1268.5 533.1a1.9 1.9 0 1 0 3.9 0a1.9 1.9 0 1 0 -3.9 0zM1302.3 516a1.9 1.9 0 1 0 3.9 0a1.9 1.9 0 1 0 -3.9 0zM1268.2 514.6a1.9 1.9 0 1 0 3.9 0a1.9 1.9 0 1 0 -3.9 0zM1248.3 516.5a1.9 1.9 0 1 0 3.9 0a1.9 1.9 0 1 0 -3.9 0zM1270.8 524.9a1.9 1.9 0 1 0 3.9 0a1.9 1.9 0 1 0 -3.9 0zM1232.4 518.9a1.9 1.9 0 1 0 3.9 0a1.9 1.9 0 1 0 -3.9 0zM1211.4 528.7a1.9 1.9 0 1 0 3.9 0a1.9 1.9 0 1 0 -3.9 0z"/>
<line x1="1256.3" y1="500.4" x2="1256.3" y2="511.6" stroke="#000" stroke-width="3.2"/>
<line x1="1256.3" y1="524.7" x2="1256.3" y2="538.3" stroke="#000" stroke-width="3.2"/>
<rect x="1205.8" y="511.6" width="101" height="13.1" fill="none" stroke="#000" stroke-width="3.2"/>
<line x1="1205.8" y1="520" x2="1306.8" y2="520" stroke="#000" stroke-width="2.9"/>
<path fill="#000" d="M1414 530.2a1.9 1.9 0 1 0 3.9 0a1.9 1.9 0 1 0 -3.9 0zM1343.3 527.9a1.9 1.9 0 1 0 3.9 0a1.9 1.9 0 1 0 -3.9 0zM1343.2 521.9a1.9 1.9 0 1 0 3.9 0a1.9 1.9 0 1 0 -3.9 0zM1354.8 537.5a1.9 1.9 0 1 0 3.9 0a1.9 1.9 0 1 0 -3.9 0zM1411 512.2a1.9 1.9 0 1 0 3.9 0a1.9 1.9 0 1 0 -3.9 0zM1374.8 516.7a1.9 1.9 0 1 0 3.9 0a1.9 1.9 0 1 0 -3.9 0zM1423.7 523.4a1.9 1.9 0 1 0 3.9 0a1.9 1.9 0 1 0 -3.9 0zM1439.8 534.7a1.9 1.9 0 1 0 3.9 0a1.9 1.9 0 1 0 -3.9 0zM1406.7 514.2a1.9 1.9 0 1 0 3.9 0a1.9 1.9 0 1 0 -3.9 0zM1387.6 522.1a1.9 1.9 0 1 0 3.9 0a1.9 1.9 0 1 0 -3.9 0zM1430.1 521.4a1.9 1.9 0 1 0 3.9 0a1.9 1.9 0 1 0 -3.9 0zM1366.2 514.4a1.9 1.9 0 1 0 3.9 0a1.9 1.9 0 1 0 -3.9 0zM1414 524.3a1.9 1.9 0 1 0 3.9 0a1.9 1.9 0 1 0 -3.9 0zM1341.1 517.6a1.9 1.9 0 1 0 3.9 0a1.9 1.9 0 1 0 -3.9 0zM1365.2 523.7a1.9 1.9 0 1 0 3.9 0a1.9 1.9 0 1 0 -3.9 0zM1405.8 530.2a1.9 1.9 0 1 0 3.9 0a1.9 1.9 0 1 0 -3.9 0zM1417 519.6a1.9 1.9 0 1 0 3.9 0a1.9 1.9 0 1 0 -3.9 0zM1383.7 520a1.9 1.9 0 1 0 3.9 0a1.9 1.9 0 1 0 -3.9 0zM1386.9 518.9a1.9 1.9 0 1 0 3.9 0a1.9 1.9 0 1 0 -3.9 0zM1417 520.1a1.9 1.9 0 1 0 3.9 0a1.9 1.9 0 1 0 -3.9 0zM1415.7 513.8a1.9 1.9 0 1 0 3.9 0a1.9 1.9 0 1 0 -3.9 0zM1415.8 517.2a1.9 1.9 0 1 0 3.9 0a1.9 1.9 0 1 0 -3.9 0zM1433.5 528.7a1.9 1.9 0 1 0 3.9 0a1.9 1.9 0 1 0 -3.9 0zM1345.5 519.9a1.9 1.9 0 1 0 3.9 0a1.9 1.9 0 1 0 -3.9 0zM1368.3 554.2a1.9 1.9 0 1 0 3.9 0a1.9 1.9 0 1 0 -3.9 0zM1416.3 520.4a1.9 1.9 0 1 0 3.9 0a1.9 1.9 0 1 0 -3.9 0zM1432.6 531.7a1.9 1.9 0 1 0 3.9 0a1.9 1.9 0 1 0 -3.9 0zM1427.6 514.3a1.9 1.9 0 1 0 3.9 0a1.9 1.9 0 1 0 -3.9 0zM1385 525.2a1.9 1.9 0 1 0 3.9 0a1.9 1.9 0 1 0 -3.9 0zM1422.4 522.8a1.9 1.9 0 1 0 3.9 0a1.9 1.9 0 1 0 -3.9 0zM1399.9 526.9a1.9 1.9 0 1 0 3.9 0a1.9 1.9 0 1 0 -3.9 0zM1348.3 539.4a1.9 1.9 0 1 0 3.9 0a1.9 1.9 0 1 0 -3.9 0zM1427.3 526.2a1.9 1.9 0 1 0 3.9 0a1.9 1.9 0 1 0 -3.9 0zM1380.9 517a1.9 1.9 0 1 0 3.9 0a1.9 1.9 0 1 0 -3.9 0zM1338.4 528.7a1.9 1.9 0 1 0 3.9 0a1.9 1.9 0 1 0 -3.9 0zM1359.1 519.2a1.9 1.9 0 1 0 3.9 0a1.9 1.9 0 1 0 -3.9 0zM1360.9 526.7a1.9 1.9 0 1 0 3.9 0a1.9 1.9 0 1 0 -3.9 0zM1343.5 541.8a1.9 1.9 0 1 0 3.9 0a1.9 1.9 0 1 0 -3.9 0zM1439.8 536.2a1.9 1.9 0 1 0 3.9 0a1.9 1.9 0 1 0 -3.9 0zM1382.8 537.4a1.9 1.9 0 1 0 3.9 0a1.9 1.9 0 1 0 -3.9 0zM1396.7 532.6a1.9 1.9 0 1 0 3.9 0a1.9 1.9 0 1 0 -3.9 0zM1400.7 527.7a1.9 1.9 0 1 0 3.9 0a1.9 1.9 0 1 0 -3.9 0zM1437.9 514.3a1.9 1.9 0 1 0 3.9 0a1.9 1.9 0 1 0 -3.9 0zM1395.4 523.7a1.9 1.9 0 1 0 3.9 0a1.9 1.9 0 1 0 -3.9 0zM1373.5 523.2a1.9 1.9 0 1 0 3.9 0a1.9 1.9 0 1 0 -3.9 0zM1383.7 533.9a1.9 1.9 0 1 0 3.9 0a1.9 1.9 0 1 0 -3.9 0zM1370 536.8a1.9 1.9 0 1 0 3.9 0a1.9 1.9 0 1 0 -3.9 0zM1417.8 532.2a1.9 1.9 0 1 0 3.9 0a1.9 1.9 0 1 0 -3.9 0zM1430.1 521a1.9 1.9 0 1 0 3.9 0a1.9 1.9 0 1 0 -3.9 0zM1356.1 544.3a1.9 1.9 0 1 0 3.9 0a1.9 1.9 0 1 0 -3.9 0zM1340.1 540.5a1.9 1.9 0 1 0 3.9 0a1.9 1.9 0 1 0 -3.9 0zM1429.7 526.1a1.9 1.9 0 1 0 3.9 0a1.9 1.9 0 1 0 -3.9 0zM1406.3 529.7a1.9 1.9 0 1 0 3.9 0a1.9 1.9 0 1 0 -3.9 0zM1436.8 533.6a1.9 1.9 0 1 0 3.9 0a1.9 1.9 0 1 0 -3.9 0zM1372.8 528.9a1.9 1.9 0 1 0 3.9 0a1.9 1.9 0 1 0 -3.9 0zM1358.2 527.1a1.9 1.9 0 1 0 3.9 0a1.9 1.9 0 1 0 -3.9 0zM1433.2 532.4a1.9 1.9 0 1 0 3.9 0a1.9 1.9 0 1 0 -3.9 0zM1343.6 528.1a1.9 1.9 0 1 0 3.9 0a1.9 1.9 0 1 0 -3.9 0zM1420.8 529.8a1.9 1.9 0 1 0 3.9 0a1.9 1.9 0 1 0 -3.9 0zM1422.1 513.8a1.9 1.9 0 1 0 3.9 0a1.9 1.9 0 1 0 -3.9 0zM1427 513.9a1.9 1.9 0 1 0 3.9 0a1.9 1.9 0 1 0 -3.9 0zM1386.3 543.3a1.9 1.9 0 1 0 3.9 0a1.9 1.9 0 1 0 -3.9 0zM1361 514.6a1.9 1.9 0 1 0 3.9 0a1.9 1.9 0 1 0 -3.9 0zM1340.2 532.3a1.9 1.9 0 1 0 3.9 0a1.9 1.9 0 1 0 -3.9 0zM1387.2 530.8a1.9 1.9 0 1 0 3.9 0a1.9 1.9 0 1 0 -3.9 0zM1443.7 530a1.9 1.9 0 1 0 3.9 0a1.9 1.9 0 1 0 -3.9 0zM1373.8 521.9a1.9 1.9 0 1 0 3.9 0a1.9 1.9 0 1 0 -3.9 0zM1394.1 536.9a1.9 1.9 0 1 0 3.9 0a1.9 1.9 0 1 0 -3.9 0zM1352.5 531.1a1.9 1.9 0 1 0 3.9 0a1.9 1.9 0 1 0 -3.9 0zM1410.5 525a1.9 1.9 0 1 0 3.9 0a1.9 1.9 0 1 0 -3.9 0zM1426.5 515.6a1.9 1.9 0 1 0 3.9 0a1.9 1.9 0 1 0 -3.9 0zM1369.7 526a1.9 1.9 0 1 0 3.9 0a1.9 1.9 0 1 0 -3.9 0zM1394.2 522.7a1.9 1.9 0 1 0 3.9 0a1.9 1.9 0 1 0 -3.9 0zM1366.3 516.9a1.9 1.9 0 1 0 3.9 0a1.9 1.9 0 1 0 -3.9 0zM1367.9 531.4a1.9 1.9 0 1 0 3.9 0a1.9 1.9 0 1 0 -3.9 0zM1342.4 533.1a1.9 1.9 0 1 0 3.9 0a1.9 1.9 0 1 0 -3.9 0zM1380.9 535.4a1.9 1.9 0 1 0 3.9 0a1.9 1.9 0 1 0 -3.9 0zM1427 529.1a1.9 1.9 0 1 0 3.9 0a1.9 1.9 0 1 0 -3.9 0zM1418.3 525.9a1.9 1.9 0 1 0 3.9 0a1.9 1.9 0 1 0 -3.9 0zM1412 538.1a1.9 1.9 0 1 0 3.9 0a1.9 1.9 0 1 0 -3.9 0zM1378.6 534.9a1.9 1.9 0 1 0 3.9 0a1.9 1.9 0 1 0 -3.9 0zM1392.4 548.4a1.9 1.9 0 1 0 3.9 0a1.9 1.9 0 1 0 -3.9 0zM1402.4 533.1a1.9 1.9 0 1 0 3.9 0a1.9 1.9 0 1 0 -3.9 0zM1348.9 519.9a1.9 1.9 0 1 0 3.9 0a1.9 1.9 0 1 0 -3.9 0zM1424.6 536.7a1.9 1.9 0 1 0 3.9 0a1.9 1.9 0 1 0 -3.9 0zM1366.6 548.7a1.9 1.9 0 1 0 3.9 0a1.9 1.9 0 1 0 -3.9 0zM1375.7 530.6a1.9 1.9 0 1 0 3.9 0a1.9 1.9 0 1 0 -3.9 0zM1344.2 526.6a1.9 1.9 0 1 0 3.9 0a1.9 1.9 0 1 0 -3.9 0zM1385.6 523a1.9 1.9 0 1 0 3.9 0a1.9 1.9 0 1 0 -3.9 0zM1416.8 545.1a1.9 1.9 0 1 0 3.9 0a1.9 1.9 0 1 0 -3.9 0zM1380.2 526.6a1.9 1.9 0 1 0 3.9 0a1.9 1.9 0 1 0 -3.9 0zM1393.7 526.1a1.9 1.9 0 1 0 3.9 0a1.9 1.9 0 1 0 -3.9 0zM1402.5 531a1.9 1.9 0 1 0 3.9 0a1.9 1.9 0 1 0 -3.9 0zM1436.1 515.8a1.9 1.9 0 1 0 3.9 0a1.9 1.9 0 1 0 -3.9 0zM1427.6 525.9a1.9 1.9 0 1 0 3.9 0a1.9 1.9 0 1 0 -3.9 0zM1388.9 517.2a1.9 1.9 0 1 0 3.9 0a1.9 1.9 0 1 0 -3.9 0zM1372.3 527.1a1.9 1.9 0 1 0 3.9 0a1.9 1.9 0 1 0 -3.9 0zM1425.6 532.8a1.9 1.9 0 1 0 3.9 0a1.9 1.9 0 1 0 -3.9 0zM1393.9 536.6a1.9 1.9 0 1 0 3.9 0a1.9 1.9 0 1 0 -3.9 0zM1425.1 524.7a1.9 1.9 0 1 0 3.9 0a1.9 1.9 0 1 0 -3.9 0z"/>
<line x1="1392.4" y1="511.6" x2="1392.4" y2="522.1" stroke="#000" stroke-width="3.2"/>
<line x1="1392.4" y1="533.2" x2="1392.4" y2="548.2" stroke="#000" stroke-width="3.2"/>
<rect x="1341.9" y="522.1" width="101" height="11.1" fill="none" stroke="#000" stroke-width="3.2"/>
<line x1="1341.9" y1="528" x2="1442.9" y2="528" stroke="#000" stroke-width="2.9"/>
<path fill="#000" d="M1552.6 517.9a1.9 1.9 0 1 0 3.9 0a1.9 1.9 0 1 0 -3.9 0zM1560.3 526.7a1.9 1.9 0 1 0 3.9 0a1.9 1.9 0 1 0 -3.9 0zM1478.6 509.5a1.9 1.9 0 1 0 3.9 0a1.9 1.9 0 1 0 -3.9 0zM1531 514.1a1.9 1.9 0 1 0 3.9 0a1.9 1.9 0 1 0 -3.9 0zM1554.8 537.9a1.9 1.9 0 1 0 3.9 0a1.9 1.9 0 1 0 -3.9 0zM1514.3 517.4a1.9 1.9 0 1 0 3.9 0a1.9 1.9 0 1 0 -3.9 0zM1524.9 531.8a1.9 1.9 0 1 0 3.9 0a1.9 1.9 0 1 0 -3.9 0zM1474.6 517a1.9 1.9 0 1 0 3.9 0a1.9 1.9 0 1 0 -3.9 0zM1492.3 510.1a1.9 1.9 0 1 0 3.9 0a1.9 1.9 0 1 0 -3.9 0zM1488.4 520.9a1.9 1.9 0 1 0 3.9 0a1.9 1.9 0 1 0 -3.9 0zM1524.9 532.2a1.9 1.9 0 1 0 3.9 0a1.9 1.9 0 1 0 -3.9 0zM1572.3 524.3a1.9 1.9 0 1 0 3.9 0a1.9 1.9 0 1 0 -3.9 0zM1538.3 522a1.9 1.9 0 1 0 3.9 0a1.9 1.9 0 1 0 -3.9 0zM1531.8 532.1a1.9 1.9 0 1 0 3.9 0a1.9 1.9 0 1 0 -3.9 0zM1506.3 517.9a1.9 1.9 0 1 0 3.9 0a1.9 1.9 0 1 0 -3.9 0zM1483.4 530.9a1.9 1.9 0 1 0 3.9 0a1.9 1.9 0 1 0 -3.9 0zM1522.2 527.3a1.9 1.9 0 1 0 3.9 0a1.9 1.9 0 1 0 -3.9 0zM1523.8 515.5a1.9 1.9 0 1 0 3.9 0a1.9 1.9 0 1 0 -3.9 0zM1507.3 532.6a1.9 1.9 0 1 0 3.9 0a1.9 1.9 0 1 0 -3.9 0zM1479 534.4a1.9 1.9 0 1 0 3.9 0a1.9 1.9 0 1 0 -3.9 0zM1573 522.3a1.9 1.9 0 1 0 3.9 0a1.9 1.9 0 1 0 -3.9 0zM1540.1 525.5a1.9 1.9 0 1 0 3.9 0a1.9 1.9 0 1 0 -3.9 0zM1533.5 522a1.9 1.9 0 1 0 3.9 0a1.9 1.9 0 1 0 -3.9 0zM1534.9 514.6a1.9 1.9 0 1 0 3.9 0a1.9 1.9 0 1 0 -3.9 0zM1536.3 531.4a1.9 1.9 0 1 0 3.9 0a1.9 1.9 0 1 0 -3.9 0zM1536.3 515.5a1.9 1.9 0 1 0 3.9 0a1.9 1.9 0 1 0 -3.9 0zM1543.1 529a1.9 1.9 0 1 0 3.9 0a1.9 1.9 0 1 0 -3.9 0zM1501.5 519.7a1.9 1.9 0 1 0 3.9 0a1.9 1.9 0 1 0 -3.9 0zM1490.2 515.3a1.9 1.9 0 1 0 3.9 0a1.9 1.9 0 1 0 -3.9 0zM1534.8 529.8a1.9 1.9 0 1 0 3.9 0a1.9 1.9 0 1 0 -3.9 0zM1559.1 526.4a1.9 1.9 0 1 0 3.9 0a1.9 1.9 0 1 0 -3.9 0zM1518.6 540.6a1.9 1.9 0 1 0 3.9 0a1.9 1.9 0 1 0 -3.9 0zM1530.6 523.7a1.9 1.9 0 1 0 3.9 0a1.9 1.9 0 1 0 -3.9 0zM1479.1 525.7a1.9 1.9 0 1 0 3.9 0a1.9 1.9 0 1 0 -3.9 0zM1527.4 525.4a1.9 1.9 0 1 0 3.9 0a1.9 1.9 0 1 0 -3.9 0zM1505.5 522.1a1.9 1.9 0 1 0 3.9 0a1.9 1.9 0 1 0 -3.9 0zM1559 535.9a1.9 1.9 0 1 0 3.9 0a1.9 1.9 0 1 0 -3.9 0zM1481.6 537.6a1.9 1.9 0 1 0 3.9 0a1.9 1.9 0 1 0 -3.9 0zM1495.4 530.3a1.9 1.9 0 1 0 3.9 0a1.9 1.9 0 1 0 -3.9 0zM1555.8 515.5a1.9 1.9 0 1 0 3.9 0a1.9 1.9 0 1 0 -3.9 0zM1479.1 528.4a1.9 1.9 0 1 0 3.9 0a1.9 1.9 0 1 0 -3.9 0zM1506.6 524.9a1.9 1.9 0 1 0 3.9 0a1.9 1.9 0 1 0 -3.9 0zM1530.1 520.5a1.9 1.9 0 1 0 3.9 0a1.9 1.9 0 1 0 -3.9 0zM1527.5 510.8a1.9 1.9 0 1 0 3.9 0a1.9 1.9 0 1 0 -3.9 0zM1530.4 532.2a1.9 1.9 0 1 0 3.9 0a1.9 1.9 0 1 0 -3.9 0zM1576.7 535a1.9 1.9 0 1 0 3.9 0a1.9 1.9 0 1 0 -3.9 0zM1474.3 527.2a1.9 1.9 0 1 0 3.9 0a1.9 1.9 0 1 0 -3.9 0zM1547 528.4a1.9 1.9 0 1 0 3.9 0a1.9 1.9 0 1 0 -3.9 0zM1507.2 539.9a1.9 1.9 0 1 0 3.9 0a1.9 1.9 0 1 0 -3.9 0zM1503.6 541.5a1.9 1.9 0 1 0 3.9 0a1.9 1.9 0 1 0 -3.9 0zM1479.4 526.4a1.9 1.9 0 1 0 3.9 0a1.9 1.9 0 1 0 -3.9 0zM1498.9 500.5a1.9 1.9 0 1 0 3.9 0a1.9 1.9 0 1 0 -3.9 0zM1569.9 530.7a1.9 1.9 0 1 0 3.9 0a1.9 1.9 0 1 0 -3.9 0zM1570.5 525.8a1.9 1.9 0 1 0 3.9 0a1.9 1.9 0 1 0 -3.9 0zM1574.7 530.4a1.9 1.9 0 1 0 3.9 0a1.9 1.9 0 1 0 -3.9 0zM1526.8 519.9a1.9 1.9 0 1 0 3.9 0a1.9 1.9 0 1 0 -3.9 0zM1488.3 515.6a1.9 1.9 0 1 0 3.9 0a1.9 1.9 0 1 0 -3.9 0zM1479.4 528.9a1.9 1.9 0 1 0 3.9 0a1.9 1.9 0 1 0 -3.9 0zM1504.7 521.8a1.9 1.9 0 1 0 3.9 0a1.9 1.9 0 1 0 -3.9 0zM1524.3 525.3a1.9 1.9 0 1 0 3.9 0a1.9 1.9 0 1 0 -3.9 0zM1526 528a1.9 1.9 0 1 0 3.9 0a1.9 1.9 0 1 0 -3.9 0zM1566.1 525.3a1.9 1.9 0 1 0 3.9 0a1.9 1.9 0 1 0 -3.9 0zM1525.2 511.7a1.9 1.9 0 1 0 3.9 0a1.9 1.9 0 1 0 -3.9 0zM1557 529.4a1.9 1.9 0 1 0 3.9 0a1.9 1.9 0 1 0 -3.9 0zM1500.5 520a1.9 1.9 0 1 0 3.9 0a1.9 1.9 0 1 0 -3.9 0zM1576.9 522.4a1.9 1.9 0 1 0 3.9 0a1.9 1.9 0 1 0 -3.9 0zM1572.8 528a1.9 1.9 0 1 0 3.9 0a1.9 1.9 0 1 0 -3.9 0zM1508.9 511.5a1.9 1.9 0 1 0 3.9 0a1.9 1.9 0 1 0 -3.9 0zM1569.1 521.9a1.9 1.9 0 1 0 3.9 0a1.9 1.9 0 1 0 -3.9 0zM1537.8 508.1a1.9 1.9 0 1 0 3.9 0a1.9 1.9 0 1 0 -3.9 0zM1513.6 519.3a1.9 1.9 0 1 0 3.9 0a1.9 1.9 0 1 0 -3.9 0zM1509.5 527.1a1.9 1.9 0 1 0 3.9 0a1.9 1.9 0 1 0 -3.9 0zM1522.8 522.8a1.9 1.9 0 1 0 3.9 0a1.9 1.9 0 1 0 -3.9 0zM1479 521.5a1.9 1.9 0 1 0 3.9 0a1.9 1.9 0 1 0 -3.9 0zM1556.4 529a1.9 1.9 0 1 0 3.9 0a1.9 1.9 0 1 0 -3.9 0zM1502.4 520.4a1.9 1.9 0 1 0 3.9 0a1.9 1.9 0 1 0 -3.9 0zM1556.3 509.8a1.9 1.9 0 1 0 3.9 0a1.9 1.9 0 1 0 -3.9 0zM1486.6 533.1a1.9 1.9 0 1 0 3.9 0a1.9 1.9 0 1 0 -3.9 0zM1523.7 525.5a1.9 1.9 0 1 0 3.9 0a1.9 1.9 0 1 0 -3.9 0zM1487.3 530.6a1.9 1.9 0 1 0 3.9 0a1.9 1.9 0 1 0 -3.9 0zM1525.5 520a1.9 1.9 0 1 0 3.9 0a1.9 1.9 0 1 0 -3.9 0zM1547.4 519.8a1.9 1.9 0 1 0 3.9 0a1.9 1.9 0 1 0 -3.9 0zM1530 517a1.9 1.9 0 1 0 3.9 0a1.9 1.9 0 1 0 -3.9 0zM1489 506.6a1.9 1.9 0 1 0 3.9 0a1.9 1.9 0 1 0 -3.9 0zM1573.3 519.3a1.9 1.9 0 1 0 3.9 0a1.9 1.9 0 1 0 -3.9 0zM1569.2 518.1a1.9 1.9 0 1 0 3.9 0a1.9 1.9 0 1 0 -3.9 0zM1574.4 537.2a1.9 1.9 0 1 0 3.9 0a1.9 1.9 0 1 0 -3.9 0zM1522.8 506.6a1.9 1.9 0 1 0 3.9 0a1.9 1.9 0 1 0 -3.9 0zM1529.7 523.5a1.9 1.9 0 1 0 3.9 0a1.9 1.9 0 1 0 -3.9 0zM1492.1 521.6a1.9 1.9 0 1 0 3.9 0a1.9 1.9 0 1 0 -3.9 0zM1493.3 522.5a1.9 1.9 0 1 0 3.9 0a1.9 1.9 0 1 0 -3.9 0zM1542 521.8a1.9 1.9 0 1 0 3.9 0a1.9 1.9 0 1 0 -3.9 0zM1550.8 525a1.9 1.9 0 1 0 3.9 0a1.9 1.9 0 1 0 -3.9 0zM1519.2 530.5a1.9 1.9 0 1 0 3.9 0a1.9 1.9 0 1 0 -3.9 0zM1544.5 508.5a1.9 1.9 0 1 0 3.9 0a1.9 1.9 0 1 0 -3.9 0zM1545.2 530.3a1.9 1.9 0 1 0 3.9 0a1.9 1.9 0 1 0 -3.9 0zM1525.4 520.4a1.9 1.9 0 1 0 3.9 0a1.9 1.9 0 1 0 -3.9 0zM1516.7 514.2a1.9 1.9 0 1 0 3.9 0a1.9 1.9 0 1 0 -3.9 0zM1572.8 506.5a1.9 1.9 0 1 0 3.9 0a1.9 1.9 0 1 0 -3.9 0zM1490.7 506.7a1.9 1.9 0 1 0 3.9 0a1.9 1.9 0 1 0 -3.9 0z"/>
<line x1="1528.2" y1="506.5" x2="1528.2" y2="517.1" stroke="#000" stroke-width="3.2"/>
<line x1="1528.2" y1="528.4" x2="1528.2" y2="542.9" stroke="#000" stroke-width="3.2"/>
<rect x="1477.7" y="517.1" width="101" height="11.3" fill="none" stroke="#000" stroke-width="3.2"/>
<line x1="1477.7" y1="523.5" x2="1578.7" y2="523.5" stroke="#000" stroke-width="2.9"/>
<path fill="#000" d="M1640.2 494a1.9 1.9 0 1 0 3.9 0a1.9 1.9 0 1 0 -3.9 0zM1643 510a1.9 1.9 0 1 0 3.9 0a1.9 1.9 0 1 0 -3.9 0zM1614.9 502.4a1.9 1.9 0 1 0 3.9 0a1.9 1.9 0 1 0 -3.9 0zM1658.3 512.8a1.9 1.9 0 1 0 3.9 0a1.9 1.9 0 1 0 -3.9 0zM1636.5 515.6a1.9 1.9 0 1 0 3.9 0a1.9 1.9 0 1 0 -3.9 0zM1695.8 509.1a1.9 1.9 0 1 0 3.9 0a1.9 1.9 0 1 0 -3.9 0zM1669.6 497.3a1.9 1.9 0 1 0 3.9 0a1.9 1.9 0 1 0 -3.9 0zM1683.8 510.7a1.9 1.9 0 1 0 3.9 0a1.9 1.9 0 1 0 -3.9 0zM1638.5 503.1a1.9 1.9 0 1 0 3.9 0a1.9 1.9 0 1 0 -3.9 0zM1659.9 512.2a1.9 1.9 0 1 0 3.9 0a1.9 1.9 0 1 0 -3.9 0zM1656.5 505.4a1.9 1.9 0 1 0 3.9 0a1.9 1.9 0 1 0 -3.9 0zM1630.7 530a1.9 1.9 0 1 0 3.9 0a1.9 1.9 0 1 0 -3.9 0zM1660.4 504.6a1.9 1.9 0 1 0 3.9 0a1.9 1.9 0 1 0 -3.9 0zM1666.9 492.4a1.9 1.9 0 1 0 3.9 0a1.9 1.9 0 1 0 -3.9 0zM1683.4 501.4a1.9 1.9 0 1 0 3.9 0a1.9 1.9 0 1 0 -3.9 0zM1645.2 510.1a1.9 1.9 0 1 0 3.9 0a1.9 1.9 0 1 0 -3.9 0zM1647.7 533.9a1.9 1.9 0 1 0 3.9 0a1.9 1.9 0 1 0 -3.9 0zM1667.7 521.8a1.9 1.9 0 1 0 3.9 0a1.9 1.9 0 1 0 -3.9 0zM1702.5 504.2a1.9 1.9 0 1 0 3.9 0a1.9 1.9 0 1 0 -3.9 0zM1634.7 509.5a1.9 1.9 0 1 0 3.9 0a1.9 1.9 0 1 0 -3.9 0zM1694.7 498.8a1.9 1.9 0 1 0 3.9 0a1.9 1.9 0 1 0 -3.9 0zM1695.8 496.5a1.9 1.9 0 1 0 3.9 0a1.9 1.9 0 1 0 -3.9 0zM1622.9 517.7a1.9 1.9 0 1 0 3.9 0a1.9 1.9 0 1 0 -3.9 0zM1653.6 513.1a1.9 1.9 0 1 0 3.9 0a1.9 1.9 0 1 0 -3.9 0zM1621.8 502.7a1.9 1.9 0 1 0 3.9 0a1.9 1.9 0 1 0 -3.9 0zM1663.5 503.1a1.9 1.9 0 1 0 3.9 0a1.9 1.9 0 1 0 -3.9 0zM1701.8 513.2a1.9 1.9 0 1 0 3.9 0a1.9 1.9 0 1 0 -3.9 0zM1708.9 515.4a1.9 1.9 0 1 0 3.9 0a1.9 1.9 0 1 0 -3.9 0zM1620 502.3a1.9 1.9 0 1 0 3.9 0a1.9 1.9 0 1 0 -3.9 0zM1615.4 494.2a1.9 1.9 0 1 0 3.9 0a1.9 1.9 0 1 0 -3.9 0zM1696.2 517.3a1.9 1.9 0 1 0 3.9 0a1.9 1.9 0 1 0 -3.9 0zM1611.5 502.9a1.9 1.9 0 1 0 3.9 0a1.9 1.9 0 1 0 -3.9 0zM1698.1 493.2a1.9 1.9 0 1 0 3.9 0a1.9 1.9 0 1 0 -3.9 0zM1651.6 507.7a1.9 1.9 0 1 0 3.9 0a1.9 1.9 0 1 0 -3.9 0zM1679.7 511.3a1.9 1.9 0 1 0 3.9 0a1.9 1.9 0 1 0 -3.9 0zM1707.7 517.9a1.9 1.9 0 1 0 3.9 0a1.9 1.9 0 1 0 -3.9 0zM1632.8 505.5a1.9 1.9 0 1 0 3.9 0a1.9 1.9 0 1 0 -3.9 0zM1685.3 511.9a1.9 1.9 0 1 0 3.9 0a1.9 1.9 0 1 0 -3.9 0zM1671.2 498.2a1.9 1.9 0 1 0 3.9 0a1.9 1.9 0 1 0 -3.9 0zM1701.8 513.5a1.9 1.9 0 1 0 3.9 0a1.9 1.9 0 1 0 -3.9 0zM1677.2 495.7a1.9 1.9 0 1 0 3.9 0a1.9 1.9 0 1 0 -3.9 0zM1687 514.8a1.9 1.9 0 1 0 3.9 0a1.9 1.9 0 1 0 -3.9 0zM1710.5 510.9a1.9 1.9 0 1 0 3.9 0a1.9 1.9 0 1 0 -3.9 0zM1652.6 495.9a1.9 1.9 0 1 0 3.9 0a1.9 1.9 0 1 0 -3.9 0zM1653.9 503.8a1.9 1.9 0 1 0 3.9 0a1.9 1.9 0 1 0 -3.9 0zM1617.7 524.1a1.9 1.9 0 1 0 3.9 0a1.9 1.9 0 1 0 -3.9 0zM1697.4 500a1.9 1.9 0 1 0 3.9 0a1.9 1.9 0 1 0 -3.9 0zM1663.9 494.8a1.9 1.9 0 1 0 3.9 0a1.9 1.9 0 1 0 -3.9 0zM1715.5 506.8a1.9 1.9 0 1 0 3.9 0a1.9 1.9 0 1 0 -3.9 0zM1647.3 510.9a1.9 1.9 0 1 0 3.9 0a1.9 1.9 0 1 0 -3.9 0zM1705 516.6a1.9 1.9 0 1 0 3.9 0a1.9 1.9 0 1 0 -3.9 0zM1654.3 508.1a1.9 1.9 0 1 0 3.9 0a1.9 1.9 0 1 0 -3.9 0zM1698.5 505.3a1.9 1.9 0 1 0 3.9 0a1.9 1.9 0 1 0 -3.9 0zM1629.3 507.3a1.9 1.9 0 1 0 3.9 0a1.9 1.9 0 1 0 -3.9 0zM1617 516.2a1.9 1.9 0 1 0 3.9 0a1.9 1.9 0 1 0 -3.9 0zM1638.2 507.8a1.9 1.9 0 1 0 3.9 0a1.9 1.9 0 1 0 -3.9 0zM1698.2 514.3a1.9 1.9 0 1 0 3.9 0a1.9 1.9 0 1 0 -3.9 0zM1700.8 493.6a1.9 1.9 0 1 0 3.9 0a1.9 1.9 0 1 0 -3.9 0zM1626.4 506.2a1.9 1.9 0 1 0 3.9 0a1.9 1.9 0 1 0 -3.9 0zM1641 508.6a1.9 1.9 0 1 0 3.9 0a1.9 1.9 0 1 0 -3.9 0zM1678.6 518.6a1.9 1.9 0 1 0 3.9 0a1.9 1.9 0 1 0 -3.9 0zM1635.1 513.5a1.9 1.9 0 1 0 3.9 0a1.9 1.9 0 1 0 -3.9 0zM1698.9 511.3a1.9 1.9 0 1 0 3.9 0a1.9 1.9 0 1 0 -3.9 0zM1704.1 519a1.9 1.9 0 1 0 3.9 0a1.9 1.9 0 1 0 -3.9 0zM1634.4 510.9a1.9 1.9 0 1 0 3.9 0a1.9 1.9 0 1 0 -3.9 0zM1620.4 537.3a1.9 1.9 0 1 0 3.9 0a1.9 1.9 0 1 0 -3.9 0zM1652.7 501.4a1.9 1.9 0 1 0 3.9 0a1.9 1.9 0 1 0 -3.9 0zM1657.8 510.5a1.9 1.9 0 1 0 3.9 0a1.9 1.9 0 1 0 -3.9 0zM1650.3 525.8a1.9 1.9 0 1 0 3.9 0a1.9 1.9 0 1 0 -3.9 0zM1671.1 516.4a1.9 1.9 0 1 0 3.9 0a1.9 1.9 0 1 0 -3.9 0zM1715.5 512.3a1.9 1.9 0 1 0 3.9 0a1.9 1.9 0 1 0 -3.9 0zM1633.5 518.4a1.9 1.9 0 1 0 3.9 0a1.9 1.9 0 1 0 -3.9 0zM1710.4 505.4a1.9 1.9 0 1 0 3.9 0a1.9 1.9 0 1 0 -3.9 0zM1688.7 510.6a1.9 1.9 0 1 0 3.9 0a1.9 1.9 0 1 0 -3.9 0zM1663.9 511.1a1.9 1.9 0 1 0 3.9 0a1.9 1.9 0 1 0 -3.9 0zM1639.8 526.8a1.9 1.9 0 1 0 3.9 0a1.9 1.9 0 1 0 -3.9 0zM1625.1 512.5a1.9 1.9 0 1 0 3.9 0a1.9 1.9 0 1 0 -3.9 0zM1621.8 528a1.9 1.9 0 1 0 3.9 0a1.9 1.9 0 1 0 -3.9 0zM1611.6 509.3a1.9 1.9 0 1 0 3.9 0a1.9 1.9 0 1 0 -3.9 0zM1651.8 511.9a1.9 1.9 0 1 0 3.9 0a1.9 1.9 0 1 0 -3.9 0zM1656 494.5a1.9 1.9 0 1 0 3.9 0a1.9 1.9 0 1 0 -3.9 0zM1643.4 515.1a1.9 1.9 0 1 0 3.9 0a1.9 1.9 0 1 0 -3.9 0zM1699.8 492.1a1.9 1.9 0 1 0 3.9 0a1.9 1.9 0 1 0 -3.9 0zM1695.8 515.5a1.9 1.9 0 1 0 3.9 0a1.9 1.9 0 1 0 -3.9 0zM1617.9 518.3a1.9 1.9 0 1 0 3.9 0a1.9 1.9 0 1 0 -3.9 0zM1671.1 513.1a1.9 1.9 0 1 0 3.9 0a1.9 1.9 0 1 0 -3.9 0zM1627 500.3a1.9 1.9 0 1 0 3.9 0a1.9 1.9 0 1 0 -3.9 0zM1610 507a1.9 1.9 0 1 0 3.9 0a1.9 1.9 0 1 0 -3.9 0zM1713.5 486a1.9 1.9 0 1 0 3.9 0a1.9 1.9 0 1 0 -3.9 0zM1646.2 503.1a1.9 1.9 0 1 0 3.9 0a1.9 1.9 0 1 0 -3.9 0zM1645.9 511.6a1.9 1.9 0 1 0 3.9 0a1.9 1.9 0 1 0 -3.9 0zM1632.5 509.5a1.9 1.9 0 1 0 3.9 0a1.9 1.9 0 1 0 -3.9 0zM1702.9 506.2a1.9 1.9 0 1 0 3.9 0a1.9 1.9 0 1 0 -3.9 0zM1617.6 521a1.9 1.9 0 1 0 3.9 0a1.9 1.9 0 1 0 -3.9 0zM1671.3 512.5a1.9 1.9 0 1 0 3.9 0a1.9 1.9 0 1 0 -3.9 0zM1700 509.4a1.9 1.9 0 1 0 3.9 0a1.9 1.9 0 1 0 -3.9 0zM1694.3 511.1a1.9 1.9 0 1 0 3.9 0a1.9 1.9 0 1 0 -3.9 0zM1653.4 500a1.9 1.9 0 1 0 3.9 0a1.9 1.9 0 1 0 -3.9 0zM1675.6 507.8a1.9 1.9 0 1 0 3.9 0a1.9 1.9 0 1 0 -3.9 0zM1611.2 492a1.9 1.9 0 1 0 3.9 0a1.9 1.9 0 1 0 -3.9 0z"/>
<line x1="1664.6" y1="491.7" x2="1664.6" y2="503.6" stroke="#000" stroke-width="3.2"/>
<line x1="1664.6" y1="515.4" x2="1664.6" y2="532.4" stroke="#000" stroke-width="3.2"/>
<rect x="1614.1" y="503.6" width="101" height="11.8" fill="none" stroke="#000" stroke-width="3.2"/>
<line x1="1614.1" y1="509.5" x2="1715.1" y2="509.5" stroke="#000" stroke-width="2.9"/>
<path fill="#000" d="M1769.6 524.5a1.9 1.9 0 1 0 3.9 0a1.9 1.9 0 1 0 -3.9 0zM1763.6 518.7a1.9 1.9 0 1 0 3.9 0a1.9 1.9 0 1 0 -3.9 0zM1818.7 534.4a1.9 1.9 0 1 0 3.9 0a1.9 1.9 0 1 0 -3.9 0zM1793.2 518.2a1.9 1.9 0 1 0 3.9 0a1.9 1.9 0 1 0 -3.9 0zM1815.6 518.7a1.9 1.9 0 1 0 3.9 0a1.9 1.9 0 1 0 -3.9 0zM1793.7 497.6a1.9 1.9 0 1 0 3.9 0a1.9 1.9 0 1 0 -3.9 0zM1840.3 523a1.9 1.9 0 1 0 3.9 0a1.9 1.9 0 1 0 -3.9 0zM1745.2 517.7a1.9 1.9 0 1 0 3.9 0a1.9 1.9 0 1 0 -3.9 0zM1798.6 525.9a1.9 1.9 0 1 0 3.9 0a1.9 1.9 0 1 0 -3.9 0zM1754.3 507.9a1.9 1.9 0 1 0 3.9 0a1.9 1.9 0 1 0 -3.9 0zM1749.8 513.2a1.9 1.9 0 1 0 3.9 0a1.9 1.9 0 1 0 -3.9 0zM1817.8 532.4a1.9 1.9 0 1 0 3.9 0a1.9 1.9 0 1 0 -3.9 0zM1750.2 514.1a1.9 1.9 0 1 0 3.9 0a1.9 1.9 0 1 0 -3.9 0zM1836.4 522.6a1.9 1.9 0 1 0 3.9 0a1.9 1.9 0 1 0 -3.9 0zM1761.4 528.9a1.9 1.9 0 1 0 3.9 0a1.9 1.9 0 1 0 -3.9 0zM1761.9 521.6a1.9 1.9 0 1 0 3.9 0a1.9 1.9 0 1 0 -3.9 0zM1807.7 521.4a1.9 1.9 0 1 0 3.9 0a1.9 1.9 0 1 0 -3.9 0zM1769.7 531.5a1.9 1.9 0 1 0 3.9 0a1.9 1.9 0 1 0 -3.9 0zM1819.3 516.2a1.9 1.9 0 1 0 3.9 0a1.9 1.9 0 1 0 -3.9 0zM1795 526a1.9 1.9 0 1 0 3.9 0a1.9 1.9 0 1 0 -3.9 0zM1840.4 518.5a1.9 1.9 0 1 0 3.9 0a1.9 1.9 0 1 0 -3.9 0zM1820 511a1.9 1.9 0 1 0 3.9 0a1.9 1.9 0 1 0 -3.9 0zM1802.4 521.3a1.9 1.9 0 1 0 3.9 0a1.9 1.9 0 1 0 -3.9 0zM1805.9 532.6a1.9 1.9 0 1 0 3.9 0a1.9 1.9 0 1 0 -3.9 0zM1840.7 519.4a1.9 1.9 0 1 0 3.9 0a1.9 1.9 0 1 0 -3.9 0zM1792 514.8a1.9 1.9 0 1 0 3.9 0a1.9 1.9 0 1 0 -3.9 0zM1815.4 519.1a1.9 1.9 0 1 0 3.9 0a1.9 1.9 0 1 0 -3.9 0zM1825.2 516.7a1.9 1.9 0 1 0 3.9 0a1.9 1.9 0 1 0 -3.9 0zM1810.7 525.5a1.9 1.9 0 1 0 3.9 0a1.9 1.9 0 1 0 -3.9 0zM1808.3 512.1a1.9 1.9 0 1 0 3.9 0a1.9 1.9 0 1 0 -3.9 0zM1813.2 528.9a1.9 1.9 0 1 0 3.9 0a1.9 1.9 0 1 0 -3.9 0zM1774.1 524.6a1.9 1.9 0 1 0 3.9 0a1.9 1.9 0 1 0 -3.9 0zM1760.3 531.8a1.9 1.9 0 1 0 3.9 0a1.9 1.9 0 1 0 -3.9 0zM1788.8 517a1.9 1.9 0 1 0 3.9 0a1.9 1.9 0 1 0 -3.9 0zM1800 529.3a1.9 1.9 0 1 0 3.9 0a1.9 1.9 0 1 0 -3.9 0zM1779.3 512.2a1.9 1.9 0 1 0 3.9 0a1.9 1.9 0 1 0 -3.9 0zM1808.1 526.3a1.9 1.9 0 1 0 3.9 0a1.9 1.9 0 1 0 -3.9 0zM1815.3 519a1.9 1.9 0 1 0 3.9 0a1.9 1.9 0 1 0 -3.9 0zM1830.1 511.1a1.9 1.9 0 1 0 3.9 0a1.9 1.9 0 1 0 -3.9 0zM1816.8 528a1.9 1.9 0 1 0 3.9 0a1.9 1.9 0 1 0 -3.9 0zM1841.8 533.8a1.9 1.9 0 1 0 3.9 0a1.9 1.9 0 1 0 -3.9 0zM1818.4 536.8a1.9 1.9 0 1 0 3.9 0a1.9 1.9 0 1 0 -3.9 0zM1780.3 525a1.9 1.9 0 1 0 3.9 0a1.9 1.9 0 1 0 -3.9 0zM1805.5 518.9a1.9 1.9 0 1 0 3.9 0a1.9 1.9 0 1 0 -3.9 0zM1755.7 534a1.9 1.9 0 1 0 3.9 0a1.9 1.9 0 1 0 -3.9 0zM1813.5 512.7a1.9 1.9 0 1 0 3.9 0a1.9 1.9 0 1 0 -3.9 0zM1851.2 522.3a1.9 1.9 0 1 0 3.9 0a1.9 1.9 0 1 0 -3.9 0zM1822.6 508a1.9 1.9 0 1 0 3.9 0a1.9 1.9 0 1 0 -3.9 0zM1745.5 522.3a1.9 1.9 0 1 0 3.9 0a1.9 1.9 0 1 0 -3.9 0zM1803.1 523.3a1.9 1.9 0 1 0 3.9 0a1.9 1.9 0 1 0 -3.9 0zM1758 517.4a1.9 1.9 0 1 0 3.9 0a1.9 1.9 0 1 0 -3.9 0zM1822.5 530.2a1.9 1.9 0 1 0 3.9 0a1.9 1.9 0 1 0 -3.9 0zM1755.4 519.9a1.9 1.9 0 1 0 3.9 0a1.9 1.9 0 1 0 -3.9 0zM1820.5 525.2a1.9 1.9 0 1 0 3.9 0a1.9 1.9 0 1 0 -3.9 0zM1746.9 525.8a1.9 1.9 0 1 0 3.9 0a1.9 1.9 0 1 0 -3.9 0zM1821.9 519.9a1.9 1.9 0 1 0 3.9 0a1.9 1.9 0 1 0 -3.9 0zM1812.2 498.4a1.9 1.9 0 1 0 3.9 0a1.9 1.9 0 1 0 -3.9 0zM1823.4 517.3a1.9 1.9 0 1 0 3.9 0a1.9 1.9 0 1 0 -3.9 0zM1828.4 522.4a1.9 1.9 0 1 0 3.9 0a1.9 1.9 0 1 0 -3.9 0zM1802.4 512a1.9 1.9 0 1 0 3.9 0a1.9 1.9 0 1 0 -3.9 0zM1840.2 521.4a1.9 1.9 0 1 0 3.9 0a1.9 1.9 0 1 0 -3.9 0zM1818.5 507.8a1.9 1.9 0 1 0 3.9 0a1.9 1.9 0 1 0 -3.9 0zM1789 526.5a1.9 1.9 0 1 0 3.9 0a1.9 1.9 0 1 0 -3.9 0zM1789 526.4a1.9 1.9 0 1 0 3.9 0a1.9 1.9 0 1 0 -3.9 0zM1785.2 524.5a1.9 1.9 0 1 0 3.9 0a1.9 1.9 0 1 0 -3.9 0zM1786.4 516.7a1.9 1.9 0 1 0 3.9 0a1.9 1.9 0 1 0 -3.9 0zM1828.1 523.5a1.9 1.9 0 1 0 3.9 0a1.9 1.9 0 1 0 -3.9 0zM1750.6 509.8a1.9 1.9 0 1 0 3.9 0a1.9 1.9 0 1 0 -3.9 0zM1775.4 514a1.9 1.9 0 1 0 3.9 0a1.9 1.9 0 1 0 -3.9 0zM1837.9 524.6a1.9 1.9 0 1 0 3.9 0a1.9 1.9 0 1 0 -3.9 0zM1785 514.9a1.9 1.9 0 1 0 3.9 0a1.9 1.9 0 1 0 -3.9 0zM1824.1 518.7a1.9 1.9 0 1 0 3.9 0a1.9 1.9 0 1 0 -3.9 0zM1767.2 520.7a1.9 1.9 0 1 0 3.9 0a1.9 1.9 0 1 0 -3.9 0zM1836.4 530.2a1.9 1.9 0 1 0 3.9 0a1.9 1.9 0 1 0 -3.9 0zM1754.7 514.9a1.9 1.9 0 1 0 3.9 0a1.9 1.9 0 1 0 -3.9 0zM1812.3 515.9a1.9 1.9 0 1 0 3.9 0a1.9 1.9 0 1 0 -3.9 0zM1757 514.6a1.9 1.9 0 1 0 3.9 0a1.9 1.9 0 1 0 -3.9 0zM1808.4 506.2a1.9 1.9 0 1 0 3.9 0a1.9 1.9 0 1 0 -3.9 0zM1809.1 522.4a1.9 1.9 0 1 0 3.9 0a1.9 1.9 0 1 0 -3.9 0zM1761.4 502.5a1.9 1.9 0 1 0 3.9 0a1.9 1.9 0 1 0 -3.9 0zM1775.5 513.6a1.9 1.9 0 1 0 3.9 0a1.9 1.9 0 1 0 -3.9 0zM1753.7 532.1a1.9 1.9 0 1 0 3.9 0a1.9 1.9 0 1 0 -3.9 0zM1781.6 520.8a1.9 1.9 0 1 0 3.9 0a1.9 1.9 0 1 0 -3.9 0zM1761.4 500.7a1.9 1.9 0 1 0 3.9 0a1.9 1.9 0 1 0 -3.9 0zM1761.2 511.8a1.9 1.9 0 1 0 3.9 0a1.9 1.9 0 1 0 -3.9 0zM1773.6 535.3a1.9 1.9 0 1 0 3.9 0a1.9 1.9 0 1 0 -3.9 0zM1763.9 518.1a1.9 1.9 0 1 0 3.9 0a1.9 1.9 0 1 0 -3.9 0zM1844.7 537a1.9 1.9 0 1 0 3.9 0a1.9 1.9 0 1 0 -3.9 0zM1826.2 515.7a1.9 1.9 0 1 0 3.9 0a1.9 1.9 0 1 0 -3.9 0zM1750 499.1a1.9 1.9 0 1 0 3.9 0a1.9 1.9 0 1 0 -3.9 0zM1761.8 522.9a1.9 1.9 0 1 0 3.9 0a1.9 1.9 0 1 0 -3.9 0zM1844.6 518.5a1.9 1.9 0 1 0 3.9 0a1.9 1.9 0 1 0 -3.9 0zM1805.4 523a1.9 1.9 0 1 0 3.9 0a1.9 1.9 0 1 0 -3.9 0zM1793.4 511.3a1.9 1.9 0 1 0 3.9 0a1.9 1.9 0 1 0 -3.9 0zM1751.2 511.1a1.9 1.9 0 1 0 3.9 0a1.9 1.9 0 1 0 -3.9 0zM1751.6 515.3a1.9 1.9 0 1 0 3.9 0a1.9 1.9 0 1 0 -3.9 0zM1789.8 511.1a1.9 1.9 0 1 0 3.9 0a1.9 1.9 0 1 0 -3.9 0zM1787.7 528.1a1.9 1.9 0 1 0 3.9 0a1.9 1.9 0 1 0 -3.9 0zM1784.1 530.4a1.9 1.9 0 1 0 3.9 0a1.9 1.9 0 1 0 -3.9 0zM1748.8 518.6a1.9 1.9 0 1 0 3.9 0a1.9 1.9 0 1 0 -3.9 0z"/>
<line x1="1800.4" y1="501.8" x2="1800.4" y2="515.3" stroke="#000" stroke-width="3.2"/>
<line x1="1800.4" y1="525.4" x2="1800.4" y2="540" stroke="#000" stroke-width="3.2"/>
<rect x="1749.9" y="515.3" width="101" height="10.1" fill="none" stroke="#000" stroke-width="3.2"/>
<line x1="1749.9" y1="521" x2="1850.9" y2="521" stroke="#000" stroke-width="2.9"/>
<line x1="1118.8" y1="483.4" x2="1118.8" y2="798.9" stroke="#000" stroke-width="3.9"/>
<line x1="1118.8" y1="798.9" x2="1883.5" y2="798.9" stroke="#000" stroke-width="3.9"/>
<line x1="1109.7" y1="513.1" x2="1119" y2="513.1" stroke="#000" stroke-width="3.8"/>
<text transform="translate(1102.9,522.5) scale(0.870,1)" font-size="24" text-anchor="end">300</text>
<line x1="1109.7" y1="603.6" x2="1119" y2="603.6" stroke="#000" stroke-width="3.8"/>
<text transform="translate(1102.9,613) scale(0.870,1)" font-size="24" text-anchor="end">200</text>
<line x1="1109.7" y1="694" x2="1119" y2="694" stroke="#000" stroke-width="3.8"/>
<text transform="translate(1102.9,703.4) scale(0.870,1)" font-size="24" text-anchor="end">100</text>
<line x1="1109.7" y1="784.5" x2="1119" y2="784.5" stroke="#000" stroke-width="3.8"/>
<text transform="translate(1098.6,793.9) scale(0.870,1)" font-size="24" text-anchor="end">0</text>
<line x1="1255.7" y1="798.8" x2="1255.7" y2="809.4" stroke="#000" stroke-width="3.8"/>
<line x1="1392" y1="798.8" x2="1392" y2="809.4" stroke="#000" stroke-width="3.8"/>
<line x1="1528.3" y1="798.8" x2="1528.3" y2="809.4" stroke="#000" stroke-width="3.8"/>
<line x1="1664.6" y1="798.8" x2="1664.6" y2="809.4" stroke="#000" stroke-width="3.8"/>
<line x1="1800.9" y1="798.8" x2="1800.9" y2="809.4" stroke="#000" stroke-width="3.8"/>
<text transform="translate(1255.7,834.1) scale(0.955,1)" font-size="26.7" text-anchor="middle">ULR-</text>
<text transform="translate(1248.6,862) scale(0.955,1)" font-size="26.7" text-anchor="middle">RBD</text>
<text transform="translate(1390.6,834.1) scale(0.955,1)" font-size="26.7" text-anchor="middle">ULR-S1</text>
<text transform="translate(1521.3,834.1) scale(0.955,1)" font-size="26.7" text-anchor="middle">MLR-S1,</text>
<text transform="translate(1521.1,862) scale(0.955,1)" font-size="26.7" text-anchor="middle">RBD</text>
<text transform="translate(1668.5,834.1) scale(0.955,1)" font-size="26.7" text-anchor="middle">MLR-</text>
<text transform="translate(1660.7,862) scale(0.955,1)" font-size="26.7" text-anchor="middle">PCA2</text>
<text transform="translate(1800.6,834.1) scale(0.955,1)" font-size="26.7" text-anchor="middle">MLR-</text>
<text transform="translate(1796.7,862) scale(0.955,1)" font-size="26.7" text-anchor="middle">PCA4</text>
<text transform="translate(1049,641.3) rotate(-90) scale(0.885,1)" font-size="32" text-anchor="middle">BIC</text>
</g>
<g id="panel-d">
<text transform="translate(8.7,857.6) scale(1.040,1)" font-size="31.6">d</text>
<path d="M238.2 1629.2L238.2 1503.9L243.6 1503.9L243.6 1420.3L248.1 1420.3L248.1 1301.4L253.1 1301.4L253.1 1272.7L258 1272.7L258 1263.4L263.1 1263.4L263.1 1255L267.9 1255L267.9 1209.6L272.9 1209.6L272.9 1195.7L277.8 1195.7L277.8 1184.5L282 1184.5L282 1180.6L287 1180.6L287 1179L298.1 1179L298.1 1162L316.8 1162L316.8 1144.3L322 1144.3L322 1141L327.5 1141L327.5 1138L332.4 1138L332.4 1126.1L337.1 1126.1L337.1 1120.7L342.5 1120.7L342.5 1110L347 1110L347 1107.5L351.5 1107.5L351.5 1098L356.5 1098L356.5 1089L361.8 1089L361.8 1084.3L367.1 1084.3L367.1 1072.5L371.4 1072.5L371.4 1067.1L376.8 1067.1L376.8 1061.8L391.8 1061.8L391.8 1044.6L401.4 1044.6L401.4 1040.4L406.8 1040.4L406.8 1037.1L416.4 1037.1L416.4 1032.4L435.7 1032.4L435.7 1029.6L465.3 1029.6L465.3 1027.5L478.6 1027.5L478.6 1024.3L485 1024.3L485 1021.1L495.7 1021.1L495.7 1014.6L504.3 1014.6L504.3 1008.2L525.7 1008.2L525.7 1003.9L531 1003.9L531 999.6L549.3 999.6L549.3 989.8L593 989.8L593 986.5L600 986.5L600 983.4L617.7 983.4L617.7 980.7L628 980.7L628 978L702.6 978L702.6 975.2L746.4 975.2L746.4 973.8L760 973.8L760 972.4L773.8 972.4L773.8 969.6L778 969.6L778 967L790 967L790 965.2L800 965.2L800 963.6L869.7 963.6L869.7 962.1L906.4 962.1L906.4 1629H238.2Z" fill="#e8e8e8"/>
<path d="M238.2 1629.2L238.2 1503.9L243.6 1503.9L243.6 1420.3L248.1 1420.3L248.1 1301.4L253.1 1301.4L253.1 1272.7L258 1272.7L258 1263.4L263.1 1263.4L263.1 1255L267.9 1255L267.9 1209.6L272.9 1209.6L272.9 1195.7L277.8 1195.7L277.8 1184.5L282 1184.5L282 1180.6L287 1180.6L287 1179L298.1 1179L298.1 1162L316.8 1162L316.8 1144.3L322 1144.3L322 1141L327.5 1141L327.5 1138L332.4 1138L332.4 1126.1L337.1 1126.1L337.1 1120.7L342.5 1120.7L342.5 1110L347 1110L347 1107.5L351.5 1107.5L351.5 1098L356.5 1098L356.5 1089L361.8 1089L361.8 1084.3L367.1 1084.3L367.1 1072.5L371.4 1072.5L371.4 1067.1L376.8 1067.1L376.8 1061.8L391.8 1061.8L391.8 1044.6L401.4 1044.6L401.4 1040.4L406.8 1040.4L406.8 1037.1L416.4 1037.1L416.4 1032.4L435.7 1032.4L435.7 1029.6L465.3 1029.6L465.3 1027.5L478.6 1027.5L478.6 1024.3L485 1024.3L485 1021.1L495.7 1021.1L495.7 1014.6L504.3 1014.6L504.3 1008.2L525.7 1008.2L525.7 1003.9L531 1003.9L531 999.6L549.3 999.6L549.3 989.8L593 989.8L593 986.5L600 986.5L600 983.4L617.7 983.4L617.7 980.7L628 980.7L628 978L702.6 978L702.6 975.2L746.4 975.2L746.4 973.8L760 973.8L760 972.4L773.8 972.4L773.8 969.6L778 969.6L778 967L790 967L790 965.2L800 965.2L800 963.6L869.7 963.6L869.7 962.1L906.4 962.1" fill="none" stroke="#000" stroke-width="7.7" stroke-linejoin="round"/>
<circle cx="465" cy="1026.4" r="10.3" fill="#f00"/>
<circle cx="353.6" cy="1097.9" r="10.3" fill="#f00"/>
<circle cx="316.8" cy="1156.4" r="10.3" fill="#f00"/>
<text transform="translate(448.6,1063.6)" font-size="29" fill="#f00">(1)</text>
<text transform="translate(364.3,1118.9)" font-size="29" fill="#f00">(2)</text>
<text transform="translate(328.4,1175.7)" font-size="29" fill="#f00">(3)</text>
<text transform="translate(728.1,1180.5)" font-size="28">AUC=0.90</text>
<text transform="translate(676.3,1294.8)" font-size="29" fill="#f00">(1)</text>
<text transform="translate(725.9,1266.9)" font-size="24" fill="#f00">Probability=0.50</text>
<text transform="translate(725.9,1290.6)" font-size="24" fill="#f00">Specificity=0.66</text>
<text transform="translate(725.9,1314.6)" font-size="24" fill="#f00">Sensitivity=0.91</text>
<text transform="translate(676.3,1424.3)" font-size="29" fill="#f00">(2)</text>
<text transform="translate(725.9,1396.2)" font-size="24" fill="#f00">Probability=0.70</text>
<text transform="translate(725.9,1420.1)" font-size="24" fill="#f00">Specificity=0.80</text>
<text transform="translate(725.9,1443.9)" font-size="24" fill="#f00">Sensitivity=0.83</text>
<text transform="translate(676.3,1544.5)" font-size="29" fill="#f00">(3)</text>
<text transform="translate(725.9,1517.7)" font-size="24" fill="#f00">Probability=0.80</text>
<text transform="translate(725.9,1541.4)" font-size="24" fill="#f00">Specificity=0.89</text>
<text transform="translate(725.9,1565.2)" font-size="24" fill="#f00">Sensitivity=0.71</text>
<line x1="205" y1="929" x2="205" y2="1662.9" stroke="#000" stroke-width="4"/>
<line x1="205" y1="1662.9" x2="940.3" y2="1662.9" stroke="#000" stroke-width="3.8"/>
<line x1="196.1" y1="962.1" x2="205" y2="962.1" stroke="#000" stroke-width="3.8"/>
<text transform="translate(189.7,971.3)" font-size="23.3" text-anchor="end">1.00</text>
<line x1="196.1" y1="1128.8" x2="205" y2="1128.8" stroke="#000" stroke-width="3.8"/>
<text transform="translate(189.7,1137.9)" font-size="23.3" text-anchor="end">0.75</text>
<line x1="196.1" y1="1295.7" x2="205" y2="1295.7" stroke="#000" stroke-width="3.8"/>
<text transform="translate(189.7,1304.5)" font-size="23.3" text-anchor="end">0.50</text>
<line x1="196.1" y1="1462.6" x2="205" y2="1462.6" stroke="#000" stroke-width="3.8"/>
<text transform="translate(189.7,1471)" font-size="23.3" text-anchor="end">0.25</text>
<line x1="196.1" y1="1629.5" x2="205" y2="1629.5" stroke="#000" stroke-width="3.8"/>
<text transform="translate(189.7,1637.6)" font-size="23.3" text-anchor="end">0.00</text>
<line x1="238.1" y1="1662.9" x2="238.1" y2="1670.8" stroke="#000" stroke-width="3.8"/>
<text transform="translate(244.1,1696.7)" font-size="23.3" text-anchor="middle">1</text>
<line x1="405" y1="1662.9" x2="405" y2="1670.8" stroke="#000" stroke-width="3.8"/>
<text transform="translate(404.5,1696.7)" font-size="23.3" text-anchor="middle">0.75</text>
<line x1="572.1" y1="1662.9" x2="572.1" y2="1670.8" stroke="#000" stroke-width="3.8"/>
<text transform="translate(573.2,1696.7)" font-size="23.3" text-anchor="middle">0.5</text>
<line x1="739.2" y1="1662.9" x2="739.2" y2="1670.8" stroke="#000" stroke-width="3.8"/>
<text transform="translate(737.5,1696.7)" font-size="23.3" text-anchor="middle">0.25</text>
<line x1="906.3" y1="1662.9" x2="906.3" y2="1670.8" stroke="#000" stroke-width="3.8"/>
<text transform="translate(907,1696.7)" font-size="23.3" text-anchor="middle">0</text>
<text transform="translate(593.6,1737.8)" font-size="28" text-anchor="middle">Specificity (detection of NT50&lt;250)</text>
<text transform="translate(81.8,1296.9) rotate(-90)" font-size="28" text-anchor="middle">Sensitivity (detection of NT50&gt;250)</text>
</g>
<g id="panel-e">
<text transform="translate(1010.4,871.5) scale(1.060,1)" font-size="31.3">e</text>
<path fill="#999" d="M1175.8 1612.2h8.3v8.3h-8.3zM1175.8 1604.5h8.3v8.3h-8.3zM1175.8 1602.3h8.3v8.3h-8.3zM1175.8 1622.4h8.3v8.3h-8.3zM1175.8 1553.1h8.3v8.3h-8.3zM1175.8 1178.7h8.3v8.3h-8.3zM1175.8 1269h8.3v8.3h-8.3zM1175.8 1402.9h8.3v8.3h-8.3zM1175.8 1196.7h8.3v8.3h-8.3zM1189.2 1166.4h8.3v8.3h-8.3zM1207.4 1423.2h8.3v8.3h-8.3zM1195.1 1485.3h8.3v8.3h-8.3zM1210.5 1595.2h8.3v8.3h-8.3zM1229.1 1519.4h8.3v8.3h-8.3zM1239 1355.5h8.3v8.3h-8.3zM1183.1 1365.6h8.3v8.3h-8.3zM1192.1 1245.3h8.3v8.3h-8.3zM1234.6 1282.9h8.3v8.3h-8.3zM1204.1 1339h8.3v8.3h-8.3zM1247.2 1233h8.3v8.3h-8.3zM1256.9 1524.7h8.3v8.3h-8.3zM1233.6 1385.3h8.3v8.3h-8.3zM1208.1 1206.9h8.3v8.3h-8.3zM1210.2 1157.3h8.3v8.3h-8.3zM1265.2 1245.4h8.3v8.3h-8.3zM1290.1 1472.7h8.3v8.3h-8.3zM1263.3 1176.5h8.3v8.3h-8.3zM1259.6 1539.7h8.3v8.3h-8.3zM1257.7 1195h8.3v8.3h-8.3zM1258.5 1248.5h8.3v8.3h-8.3zM1289.6 1275.1h8.3v8.3h-8.3zM1336.1 1228.3h8.3v8.3h-8.3zM1312.8 1448.7h8.3v8.3h-8.3zM1293.2 1266h8.3v8.3h-8.3zM1286.9 1198.5h8.3v8.3h-8.3zM1285.7 1253.9h8.3v8.3h-8.3zM1300 1502.9h8.3v8.3h-8.3zM1273.7 1312.6h8.3v8.3h-8.3zM1360.7 1221.2h8.3v8.3h-8.3zM1291.3 1221.3h8.3v8.3h-8.3zM1311.9 1314.4h8.3v8.3h-8.3zM1271.6 1395.8h8.3v8.3h-8.3zM1259.3 1440.4h8.3v8.3h-8.3zM1318.9 1172h8.3v8.3h-8.3zM1259.2 1348.6h8.3v8.3h-8.3zM1272.1 1546.2h8.3v8.3h-8.3zM1378.8 1209.5h8.3v8.3h-8.3zM1374.8 1179.3h8.3v8.3h-8.3zM1246.9 1603.7h8.3v8.3h-8.3zM1180 1612.1l5.7 9.8h-11.4zM1180 1581.6l5.7 9.8h-11.4zM1180 1601.1l5.7 9.8h-11.4zM1180 1542.4l5.7 9.8h-11.4zM1180 1556.5l5.7 9.8h-11.4zM1180 1533.2l5.7 9.8h-11.4zM1180 1580l5.7 9.8h-11.4zM1180 1560.4l5.7 9.8h-11.4zM1180 1580.1l5.7 9.8h-11.4zM1180 1504.1l5.7 9.8h-11.4zM1180 1443.1l5.7 9.8h-11.4zM1180 1310.5l5.7 9.8h-11.4zM1180 1418.9l5.7 9.8h-11.4zM1180 1292.5l5.7 9.8h-11.4zM1180 1482.7l5.7 9.8h-11.4zM1187 1493.4l5.7 9.8h-11.4zM1207.1 1494.2l5.7 9.8h-11.4zM1199.6 1431.7l5.7 9.8h-11.4zM1210.3 1226.9l5.7 9.8h-11.4zM1248.2 1237.2l5.7 9.8h-11.4zM1260.1 1213.6l5.7 9.8h-11.4zM1218.5 1319.8l5.7 9.8h-11.4zM1194.6 1457l5.7 9.8h-11.4zM1199.3 1569.7l5.7 9.8h-11.4zM1186.6 1567.5l5.7 9.8h-11.4zM1285.1 1180.1l5.7 9.8h-11.4zM1314.1 1176.5l5.7 9.8h-11.4zM1268.5 1218.2l5.7 9.8h-11.4zM1278.7 1417.8l5.7 9.8h-11.4zM1286.3 1221.7l5.7 9.8h-11.4zM1282.9 1287.1l5.7 9.8h-11.4zM1177.9 1569.1a2.1 2.1 0 1 0 4.2 0a2.1 2.1 0 1 0 -4.2 0zM1177.9 1565a2.1 2.1 0 1 0 4.2 0a2.1 2.1 0 1 0 -4.2 0zM1177.9 1587.4a2.1 2.1 0 1 0 4.2 0a2.1 2.1 0 1 0 -4.2 0zM1177.9 1451.4a2.1 2.1 0 1 0 4.2 0a2.1 2.1 0 1 0 -4.2 0zM1177.9 1384a2.1 2.1 0 1 0 4.2 0a2.1 2.1 0 1 0 -4.2 0zM1177.9 1296a2.1 2.1 0 1 0 4.2 0a2.1 2.1 0 1 0 -4.2 0zM1177.9 1420.9a2.1 2.1 0 1 0 4.2 0a2.1 2.1 0 1 0 -4.2 0zM1177.9 1294.6a2.1 2.1 0 1 0 4.2 0a2.1 2.1 0 1 0 -4.2 0zM1226.4 1400.1a2.1 2.1 0 1 0 4.2 0a2.1 2.1 0 1 0 -4.2 0zM1233.7 1511.2a2.1 2.1 0 1 0 4.2 0a2.1 2.1 0 1 0 -4.2 0zM1240.4 1378.1a2.1 2.1 0 1 0 4.2 0a2.1 2.1 0 1 0 -4.2 0zM1215.7 1247.7a2.1 2.1 0 1 0 4.2 0a2.1 2.1 0 1 0 -4.2 0zM1203.2 1360.1a2.1 2.1 0 1 0 4.2 0a2.1 2.1 0 1 0 -4.2 0zM1251.1 1252.4a2.1 2.1 0 1 0 4.2 0a2.1 2.1 0 1 0 -4.2 0zM1240.2 1329.2a2.1 2.1 0 1 0 4.2 0a2.1 2.1 0 1 0 -4.2 0zM1189.8 1543.6a2.1 2.1 0 1 0 4.2 0a2.1 2.1 0 1 0 -4.2 0zM1219.5 1602.7a2.1 2.1 0 1 0 4.2 0a2.1 2.1 0 1 0 -4.2 0zM1241.7 1190.2a2.1 2.1 0 1 0 4.2 0a2.1 2.1 0 1 0 -4.2 0zM1270.6 1217.6a2.1 2.1 0 1 0 4.2 0a2.1 2.1 0 1 0 -4.2 0zM1292.2 1288.6a2.1 2.1 0 1 0 4.2 0a2.1 2.1 0 1 0 -4.2 0zM1328 1407.7a2.1 2.1 0 1 0 4.2 0a2.1 2.1 0 1 0 -4.2 0zM1291.6 1307.2a2.1 2.1 0 1 0 4.2 0a2.1 2.1 0 1 0 -4.2 0zM1334.5 1212.4a2.1 2.1 0 1 0 4.2 0a2.1 2.1 0 1 0 -4.2 0zM1377.9 1183.1a2.1 2.1 0 1 0 4.2 0a2.1 2.1 0 1 0 -4.2 0zM1370.8 1446.3a2.1 2.1 0 1 0 4.2 0a2.1 2.1 0 1 0 -4.2 0z"/>
<path fill="#999" stroke="#999" stroke-width="2" stroke-linejoin="round" d="M1175.4 1560.7h9.2v9.2h-9.2zM1175.4 1598.3h9.2v9.2h-9.2zM1175.4 1604.6h9.2v9.2h-9.2zM1175.4 1242.5h9.2v9.2h-9.2zM1175.4 1263.3h9.2v9.2h-9.2zM1175.4 1441.3h9.2v9.2h-9.2zM1175.4 1231.1h9.2v9.2h-9.2zM1175.4 1308.5h9.2v9.2h-9.2zM1182.3 1582.9h9.2v9.2h-9.2zM1238.6 1384.6h9.2v9.2h-9.2zM1224.1 1397.2h9.2v9.2h-9.2zM1185.9 1409.6h9.2v9.2h-9.2zM1238.9 1501.2h9.2v9.2h-9.2zM1264.4 1220.6h9.2v9.2h-9.2zM1265.5 1400.1h9.2v9.2h-9.2zM1271.1 1397.1h9.2v9.2h-9.2zM1259.6 1335h9.2v9.2h-9.2zM1289.7 1447.7h9.2v9.2h-9.2zM1324.6 1356.5h9.2v9.2h-9.2zM1282.6 1474.7h9.2v9.2h-9.2zM1410.9 1205.7h9.2v9.2h-9.2zM1368.2 1423.6h9.2v9.2h-9.2z"/>
<path fill="none" stroke="#999" stroke-width="2.4" d="M1172.8 1555.4h14.4M1180 1548.2v14.4M1172.8 1571.4h14.4M1180 1564.2v14.4M1172.8 1561.9h14.4M1180 1554.7v14.4M1172.8 1537.2h14.4M1180 1530v14.4M1172.8 1539.2h14.4M1180 1532v14.4M1172.8 1536.1h14.4M1180 1528.9v14.4M1172.8 1609.8h14.4M1180 1602.6v14.4M1172.8 1595.6h14.4M1180 1588.4v14.4M1172.8 1583.6h14.4M1180 1576.4v14.4M1172.8 1571.3h14.4M1180 1564.1v14.4M1172.8 1345.3h14.4M1180 1338.1v14.4M1172.8 1326.5h14.4M1180 1319.3v14.4M1172.8 1457.3h14.4M1180 1450.1v14.4M1172.8 1200.4h14.4M1180 1193.2v14.4M1172.8 1272h14.4M1180 1264.8v14.4M1172.8 1378h14.4M1180 1370.8v14.4M1172.8 1511.2h14.4M1180 1504v14.4M1172.8 1509.1h14.4M1180 1501.9v14.4M1182.2 1459.9h14.4M1189.4 1452.7v14.4M1188 1617.2h14.4M1195.2 1610v14.4M1181.1 1578.4h14.4M1188.3 1571.2v14.4M1236.9 1582.3h14.4M1244.1 1575.1v14.4M1233 1252.9h14.4M1240.2 1245.7v14.4M1199.7 1545.8h14.4M1206.9 1538.6v14.4M1239.9 1562.5h14.4M1247.1 1555.3v14.4M1200 1293.2h14.4M1207.2 1286v14.4M1205.7 1552.6h14.4M1212.9 1545.4v14.4M1223 1229.9h14.4M1230.2 1222.7v14.4M1317.8 1183.9h14.4M1325 1176.7v14.4M1338.6 1441.7h14.4M1345.8 1434.5v14.4M1297.3 1423.6h14.4M1304.5 1416.4v14.4M1279 1184h14.4M1286.2 1176.8v14.4M1335.4 1177.9h14.4M1342.6 1170.7v14.4M1260.2 1454.4h14.4M1267.4 1447.2v14.4M1281.5 1200.8h14.4M1288.7 1193.6v14.4M1335 1441.2h14.4M1342.2 1434v14.4M1317.8 1216.3h14.4M1325 1209.1v14.4M1256.4 1431.8h14.4M1263.6 1424.6v14.4M1261 1489.5h14.4M1268.2 1482.3v14.4M1325.7 1260.9h14.4M1332.9 1253.7v14.4M1256.4 1467.2h14.4M1263.6 1460v14.4M1291.9 1225.4h14.4M1299.1 1218.2v14.4M1256.9 1417.1h14.4M1264.1 1409.9v14.4M1255 1423.8h14.4M1262.2 1416.6v14.4M1264.5 1194.5h14.4M1271.7 1187.3v14.4M1255.2 1381.9h14.4M1262.4 1374.7v14.4M1259.9 1331.8h14.4M1267.1 1324.6v14.4M1316.8 1190.3h14.4M1324 1183.1v14.4M1291 1203.3h14.4M1298.2 1196.1v14.4M1408.3 1213.7h14.4M1415.5 1206.5v14.4M1371.7 1166.7h14.4M1378.9 1159.5v14.4M1258.1 1609.2h14.4M1265.3 1602v14.4M1213.4 1562.3h14.4M1220.6 1555.1v14.4M1274.3 1558.9h14.4M1281.5 1551.7v14.4M1282.4 1545.5h14.4M1289.6 1538.3v14.4M1172.8 1627.3h14.4M1180 1620.1v14.4"/>
<path fill="#414487" d="M1175.8 971.5h8.3v8.3h-8.3zM1175.8 1107.6h8.3v8.3h-8.3zM1248.2 1114.2h8.3v8.3h-8.3zM1225.1 1070.5h8.3v8.3h-8.3zM1327.7 972.6h8.3v8.3h-8.3zM1322.3 1024.2h8.3v8.3h-8.3zM1399.5 969.3h8.3v8.3h-8.3zM1407.7 1018.1h8.3v8.3h-8.3zM1257.2 1136.9h8.3v8.3h-8.3zM1282.7 1120.8h8.3v8.3h-8.3zM1259 1032h8.3v8.3h-8.3zM1336.3 1103.7h8.3v8.3h-8.3zM1338.9 1047.4h8.3v8.3h-8.3zM1283 1036.2h8.3v8.3h-8.3zM1262.4 1050.2h8.3v8.3h-8.3zM1425 962.6h8.3v8.3h-8.3zM1344.3 1039.3h8.3v8.3h-8.3zM1295.1 1105h8.3v8.3h-8.3zM1346 989.5h8.3v8.3h-8.3zM1330.5 991.6h8.3v8.3h-8.3zM1314.4 990.4h8.3v8.3h-8.3zM1450.5 963.2h8.3v8.3h-8.3zM1381.5 970.1h8.3v8.3h-8.3zM1269.2 1105.1h8.3v8.3h-8.3zM1268.3 1144.4h8.3v8.3h-8.3zM1329.2 1106.9h8.3v8.3h-8.3zM1419.4 1016.9h8.3v8.3h-8.3zM1315.3 986.2h8.3v8.3h-8.3zM1297.8 971.2h8.3v8.3h-8.3zM1449 970.2h8.3v8.3h-8.3zM1459 980.1h8.3v8.3h-8.3zM1366.5 975.7h8.3v8.3h-8.3zM1401.9 977.7h8.3v8.3h-8.3zM1315.8 1037.7h8.3v8.3h-8.3zM1384.3 994.6h8.3v8.3h-8.3zM1367.5 974.6h8.3v8.3h-8.3zM1296.5 972.8h8.3v8.3h-8.3zM1392 980.3h8.3v8.3h-8.3zM1327 1005.7h8.3v8.3h-8.3zM1296 996.3h8.3v8.3h-8.3zM1398.9 965.6h8.3v8.3h-8.3zM1384.9 1002.9h8.3v8.3h-8.3zM1532 956.7h8.3v8.3h-8.3zM1346.2 978.2h8.3v8.3h-8.3zM1297.4 1065.7h8.3v8.3h-8.3zM1423.9 961.6h8.3v8.3h-8.3zM1430.4 958.1h8.3v8.3h-8.3zM1551.6 959.4h8.3v8.3h-8.3zM1507.3 959.2h8.3v8.3h-8.3zM1439.6 959.2h8.3v8.3h-8.3zM1499 968h8.3v8.3h-8.3zM1521.3 960.5h8.3v8.3h-8.3zM1437.4 961.1h8.3v8.3h-8.3zM1546.6 956.6h8.3v8.3h-8.3zM1534.2 956h8.3v8.3h-8.3zM1529.3 963h8.3v8.3h-8.3zM1572.4 956.8h8.3v8.3h-8.3zM1571.8 958.3h8.3v8.3h-8.3zM1530.1 956.5h8.3v8.3h-8.3zM1452.4 962.9h8.3v8.3h-8.3zM1271.4 1055.2h8.3v8.3h-8.3zM1272 1045.4h8.3v8.3h-8.3zM1364 1092.5h8.3v8.3h-8.3zM1280.7 1060.5h8.3v8.3h-8.3zM1642.8 964.8h8.3v8.3h-8.3zM1683.3 964.8h8.3v8.3h-8.3zM1703.6 954.8h8.3v8.3h-8.3zM1740.2 956.1h8.3v8.3h-8.3zM1555.5 1105.6h8.3v8.3h-8.3zM1579.8 1001.7h8.3v8.3h-8.3zM1484.4 1018.4h8.3v8.3h-8.3zM1466.1 1062h8.3v8.3h-8.3zM1246.5 1051.4l5.7 9.8h-11.4zM1434.9 964.8l5.7 9.8h-11.4zM1284.9 1120.8l5.7 9.8h-11.4zM1301 1016.2l5.7 9.8h-11.4zM1470.6 956.6l5.7 9.8h-11.4zM1456.3 959.6l5.7 9.8h-11.4zM1295.8 1132.4l5.7 9.8h-11.4zM1288.8 966.6l5.7 9.8h-11.4zM1458.4 988.4l5.7 9.8h-11.4zM1377.5 1070.6l5.7 9.8h-11.4zM1334.2 967.5l5.7 9.8h-11.4zM1365.4 994.8l5.7 9.8h-11.4zM1281.8 1141.8l5.7 9.8h-11.4zM1402.9 1007.1l5.7 9.8h-11.4zM1334.8 1018.5l5.7 9.8h-11.4zM1372.4 972.1l5.7 9.8h-11.4zM1397.5 998.8l5.7 9.8h-11.4zM1332.3 970.7l5.7 9.8h-11.4zM1315.3 1132.3l5.7 9.8h-11.4zM1277.6 1117l5.7 9.8h-11.4zM1275.6 1016.8l5.7 9.8h-11.4zM1385.7 982.5l5.7 9.8h-11.4zM1370.1 987.1l5.7 9.8h-11.4zM1442.5 1064.5l5.7 9.8h-11.4zM1410.1 1008l5.7 9.8h-11.4zM1348.7 1097l5.7 9.8h-11.4zM1343.7 1078.1l5.7 9.8h-11.4zM1322.9 1112.6l5.7 9.8h-11.4zM1355.7 970.5l5.7 9.8h-11.4zM1543.9 956.2l5.7 9.8h-11.4zM1513.7 953.7l5.7 9.8h-11.4zM1274.9 993l5.7 9.8h-11.4zM1409.3 1023.2l5.7 9.8h-11.4zM1387.2 1003.7l5.7 9.8h-11.4zM1534.1 958.5l5.7 9.8h-11.4zM1440.8 961.4l5.7 9.8h-11.4zM1553.4 956.8l5.7 9.8h-11.4zM1394.4 956.3l5.7 9.8h-11.4zM1592.8 982.1l5.7 9.8h-11.4zM1384.2 954.3l5.7 9.8h-11.4zM1497 958.2l5.7 9.8h-11.4zM1411.6 961.6l5.7 9.8h-11.4zM1563.8 960.8l5.7 9.8h-11.4zM1564.4 959.6l5.7 9.8h-11.4zM1426.1 967.2l5.7 9.8h-11.4zM1478.3 965.9l5.7 9.8h-11.4zM1326 1052l5.7 9.8h-11.4zM1377.9 1080.1l5.7 9.8h-11.4zM1338.1 1026.6l5.7 9.8h-11.4zM1347.6 1035.2l5.7 9.8h-11.4zM1283.8 1005.7l5.7 9.8h-11.4zM1646.9 959.2l5.7 9.8h-11.4zM1697.7 952.5l5.7 9.8h-11.4zM1559.6 1083.2l5.7 9.8h-11.4zM1584 989.4l5.7 9.8h-11.4zM1594.1 986l5.7 9.8h-11.4zM1515 1009.5l5.7 9.8h-11.4zM1468.3 1029.6l5.7 9.8h-11.4zM1198.3 955.9l5.7 9.8h-11.4zM1228.8 1107.2a2.1 2.1 0 1 0 4.2 0a2.1 2.1 0 1 0 -4.2 0zM1530.3 960.4a2.1 2.1 0 1 0 4.2 0a2.1 2.1 0 1 0 -4.2 0zM1377.7 967.7a2.1 2.1 0 1 0 4.2 0a2.1 2.1 0 1 0 -4.2 0zM1262.7 1025.8a2.1 2.1 0 1 0 4.2 0a2.1 2.1 0 1 0 -4.2 0zM1351.3 1012.5a2.1 2.1 0 1 0 4.2 0a2.1 2.1 0 1 0 -4.2 0zM1351.4 1033a2.1 2.1 0 1 0 4.2 0a2.1 2.1 0 1 0 -4.2 0zM1366.1 984.9a2.1 2.1 0 1 0 4.2 0a2.1 2.1 0 1 0 -4.2 0zM1533.1 963.4a2.1 2.1 0 1 0 4.2 0a2.1 2.1 0 1 0 -4.2 0zM1391.1 972.8a2.1 2.1 0 1 0 4.2 0a2.1 2.1 0 1 0 -4.2 0zM1357.5 971.3a2.1 2.1 0 1 0 4.2 0a2.1 2.1 0 1 0 -4.2 0zM1303.2 995.2a2.1 2.1 0 1 0 4.2 0a2.1 2.1 0 1 0 -4.2 0zM1292.9 1015.7a2.1 2.1 0 1 0 4.2 0a2.1 2.1 0 1 0 -4.2 0zM1411.8 967.4a2.1 2.1 0 1 0 4.2 0a2.1 2.1 0 1 0 -4.2 0zM1340.7 1013.1a2.1 2.1 0 1 0 4.2 0a2.1 2.1 0 1 0 -4.2 0zM1303.2 1146a2.1 2.1 0 1 0 4.2 0a2.1 2.1 0 1 0 -4.2 0zM1272.8 1012.5a2.1 2.1 0 1 0 4.2 0a2.1 2.1 0 1 0 -4.2 0zM1481.1 963.4a2.1 2.1 0 1 0 4.2 0a2.1 2.1 0 1 0 -4.2 0zM1315.5 962.4a2.1 2.1 0 1 0 4.2 0a2.1 2.1 0 1 0 -4.2 0zM1292.2 1070a2.1 2.1 0 1 0 4.2 0a2.1 2.1 0 1 0 -4.2 0zM1411 970.7a2.1 2.1 0 1 0 4.2 0a2.1 2.1 0 1 0 -4.2 0zM1295.9 999a2.1 2.1 0 1 0 4.2 0a2.1 2.1 0 1 0 -4.2 0zM1261.6 1096.1a2.1 2.1 0 1 0 4.2 0a2.1 2.1 0 1 0 -4.2 0zM1306.1 1148.9a2.1 2.1 0 1 0 4.2 0a2.1 2.1 0 1 0 -4.2 0zM1334.5 1035.2a2.1 2.1 0 1 0 4.2 0a2.1 2.1 0 1 0 -4.2 0zM1291.7 1122.9a2.1 2.1 0 1 0 4.2 0a2.1 2.1 0 1 0 -4.2 0zM1300 1095.2a2.1 2.1 0 1 0 4.2 0a2.1 2.1 0 1 0 -4.2 0zM1414.3 983.4a2.1 2.1 0 1 0 4.2 0a2.1 2.1 0 1 0 -4.2 0zM1431.6 962.5a2.1 2.1 0 1 0 4.2 0a2.1 2.1 0 1 0 -4.2 0zM1460.7 963.9a2.1 2.1 0 1 0 4.2 0a2.1 2.1 0 1 0 -4.2 0zM1398.5 1075.3a2.1 2.1 0 1 0 4.2 0a2.1 2.1 0 1 0 -4.2 0zM1510.3 960.3a2.1 2.1 0 1 0 4.2 0a2.1 2.1 0 1 0 -4.2 0zM1398 969.4a2.1 2.1 0 1 0 4.2 0a2.1 2.1 0 1 0 -4.2 0zM1261.1 1093.1a2.1 2.1 0 1 0 4.2 0a2.1 2.1 0 1 0 -4.2 0zM1442.7 972.9a2.1 2.1 0 1 0 4.2 0a2.1 2.1 0 1 0 -4.2 0zM1470.7 965.3a2.1 2.1 0 1 0 4.2 0a2.1 2.1 0 1 0 -4.2 0zM1335.9 1005.9a2.1 2.1 0 1 0 4.2 0a2.1 2.1 0 1 0 -4.2 0zM1422.9 1000.9a2.1 2.1 0 1 0 4.2 0a2.1 2.1 0 1 0 -4.2 0zM1286.1 1032a2.1 2.1 0 1 0 4.2 0a2.1 2.1 0 1 0 -4.2 0zM1423.7 1001.1a2.1 2.1 0 1 0 4.2 0a2.1 2.1 0 1 0 -4.2 0zM1526.7 959.8a2.1 2.1 0 1 0 4.2 0a2.1 2.1 0 1 0 -4.2 0zM1373.5 983.7a2.1 2.1 0 1 0 4.2 0a2.1 2.1 0 1 0 -4.2 0zM1302 1084.2a2.1 2.1 0 1 0 4.2 0a2.1 2.1 0 1 0 -4.2 0zM1261.4 1002.2a2.1 2.1 0 1 0 4.2 0a2.1 2.1 0 1 0 -4.2 0zM1341.9 1017a2.1 2.1 0 1 0 4.2 0a2.1 2.1 0 1 0 -4.2 0zM1558.5 971.7a2.1 2.1 0 1 0 4.2 0a2.1 2.1 0 1 0 -4.2 0zM1439.1 970.9a2.1 2.1 0 1 0 4.2 0a2.1 2.1 0 1 0 -4.2 0zM1461.5 972a2.1 2.1 0 1 0 4.2 0a2.1 2.1 0 1 0 -4.2 0zM1585.7 978.5a2.1 2.1 0 1 0 4.2 0a2.1 2.1 0 1 0 -4.2 0zM1377.2 974.8a2.1 2.1 0 1 0 4.2 0a2.1 2.1 0 1 0 -4.2 0zM1559.6 966.6a2.1 2.1 0 1 0 4.2 0a2.1 2.1 0 1 0 -4.2 0zM1390.1 1011.8a2.1 2.1 0 1 0 4.2 0a2.1 2.1 0 1 0 -4.2 0zM1364.7 1071.7a2.1 2.1 0 1 0 4.2 0a2.1 2.1 0 1 0 -4.2 0zM1356.5 1103.2a2.1 2.1 0 1 0 4.2 0a2.1 2.1 0 1 0 -4.2 0zM1348.8 1020.1a2.1 2.1 0 1 0 4.2 0a2.1 2.1 0 1 0 -4.2 0zM1486.5 1009.2a2.1 2.1 0 1 0 4.2 0a2.1 2.1 0 1 0 -4.2 0zM1468.2 1049.4a2.1 2.1 0 1 0 4.2 0a2.1 2.1 0 1 0 -4.2 0zM1460.1 1076.2a2.1 2.1 0 1 0 4.2 0a2.1 2.1 0 1 0 -4.2 0z"/>
<path fill="#414487" stroke="#414487" stroke-width="2" stroke-linejoin="round" d="M1229.6 1030.3h9.2v9.2h-9.2zM1250.1 1086.2h9.2v9.2h-9.2zM1225.7 1152h9.2v9.2h-9.2zM1272.2 1064.5h9.2v9.2h-9.2zM1522.1 955.3h9.2v9.2h-9.2zM1289.4 1053.2h9.2v9.2h-9.2zM1336.8 965.1h9.2v9.2h-9.2zM1430.1 960.7h9.2v9.2h-9.2zM1277.3 1129.6h9.2v9.2h-9.2zM1438.8 955.8h9.2v9.2h-9.2zM1408.2 1082.1h9.2v9.2h-9.2zM1278.3 1069.2h9.2v9.2h-9.2zM1283.8 1009.2h9.2v9.2h-9.2zM1284.3 978.4h9.2v9.2h-9.2zM1332.9 992.7h9.2v9.2h-9.2zM1349.9 971.2h9.2v9.2h-9.2zM1468.5 958.2h9.2v9.2h-9.2zM1278.3 1096h9.2v9.2h-9.2zM1265.3 1006.2h9.2v9.2h-9.2zM1404.1 986.5h9.2v9.2h-9.2zM1396.8 960.5h9.2v9.2h-9.2zM1274 1155.3h9.2v9.2h-9.2zM1397.7 1094.2h9.2v9.2h-9.2zM1398.8 957.1h9.2v9.2h-9.2zM1524.5 957.2h9.2v9.2h-9.2zM1426.9 961.9h9.2v9.2h-9.2zM1340.5 1028.5h9.2v9.2h-9.2zM1371.7 995.4h9.2v9.2h-9.2zM1286.5 983.6h9.2v9.2h-9.2zM1389.1 968.7h9.2v9.2h-9.2zM1407.1 964.2h9.2v9.2h-9.2zM1304.1 1133.9h9.2v9.2h-9.2zM1518.7 956.1h9.2v9.2h-9.2zM1264.3 964.5h9.2v9.2h-9.2zM1404.9 980.7h9.2v9.2h-9.2zM1268.9 1147.1h9.2v9.2h-9.2zM1295.7 1012.3h9.2v9.2h-9.2zM1291.1 999.6h9.2v9.2h-9.2zM1305.8 1010.2h9.2v9.2h-9.2zM1426.7 985.5h9.2v9.2h-9.2zM1303.7 957.6h9.2v9.2h-9.2zM1587.4 956.4h9.2v9.2h-9.2zM1477.3 976h9.2v9.2h-9.2zM1581.4 959.7h9.2v9.2h-9.2zM1553.6 963.5h9.2v9.2h-9.2zM1449.5 955.3h9.2v9.2h-9.2zM1483.3 966.5h9.2v9.2h-9.2zM1596.7 957.3h9.2v9.2h-9.2zM1457.1 959.5h9.2v9.2h-9.2zM1380.3 960.6h9.2v9.2h-9.2zM1426.1 962.2h9.2v9.2h-9.2zM1369.9 968.6h9.2v9.2h-9.2zM1385.3 961h9.2v9.2h-9.2zM1370.4 958.5h9.2v9.2h-9.2zM1274.3 1040.8h9.2v9.2h-9.2zM1305.3 1084.4h9.2v9.2h-9.2zM1289.5 1057.7h9.2v9.2h-9.2zM1262.5 1112.7h9.2v9.2h-9.2zM1337.8 1051.8h9.2v9.2h-9.2zM1660.6 954.3h9.2v9.2h-9.2zM1697.1 954.3h9.2v9.2h-9.2zM1707.3 954.3h9.2v9.2h-9.2z"/>
<path fill="none" stroke="#414487" stroke-width="2.4" d="M1172.8 1125.2h14.4M1180 1118v14.4M1172.8 1150h14.4M1180 1142.8v14.4M1238 1107.3h14.4M1245.2 1100.1v14.4M1230.6 1036.4h14.4M1237.8 1029.2v14.4M1224 1128.6h14.4M1231.2 1121.4v14.4M1241.4 1102h14.4M1248.6 1094.8v14.4M1247.9 1158.3h14.4M1255.1 1151.1v14.4M1394 974.1h14.4M1401.2 966.9v14.4M1323.1 1129.8h14.4M1330.3 1122.6v14.4M1470.7 960.3h14.4M1477.9 953.1v14.4M1261.4 1016h14.4M1268.6 1008.8v14.4M1363.3 988.3h14.4M1370.5 981.1v14.4M1320.9 1065.1h14.4M1328.1 1057.9v14.4M1431.3 979.2h14.4M1438.5 972v14.4M1308.9 1120.5h14.4M1316.1 1113.3v14.4M1309 1048h14.4M1316.2 1040.8v14.4M1432.4 1001.5h14.4M1439.6 994.3v14.4M1394.5 986.2h14.4M1401.7 979v14.4M1321 1011.8h14.4M1328.2 1004.6v14.4M1394.5 966.8h14.4M1401.7 959.6v14.4M1359.1 982.8h14.4M1366.3 975.6v14.4M1332.2 1034.5h14.4M1339.4 1027.3v14.4M1359.8 1030.5h14.4M1367 1023.3v14.4M1346 1052.3h14.4M1353.2 1045.1v14.4M1286.6 1057.5h14.4M1293.8 1050.3v14.4M1300.6 1139.6h14.4M1307.8 1132.4v14.4M1305.1 996.4h14.4M1312.3 989.2v14.4M1395.3 961.2h14.4M1402.5 954v14.4M1287.7 979.3h14.4M1294.9 972.1v14.4M1394.1 962.3h14.4M1401.3 955.1v14.4M1460.9 962h14.4M1468.1 954.8v14.4M1293.8 1007.2h14.4M1301 1000v14.4M1487.3 962.9h14.4M1494.5 955.7v14.4M1296.2 1072.8h14.4M1303.4 1065.6v14.4M1412 960.2h14.4M1419.2 953v14.4M1359.9 967.6h14.4M1367.1 960.4v14.4M1408.2 967.7h14.4M1415.4 960.5v14.4M1307.6 1090.7h14.4M1314.8 1083.5v14.4M1411.2 970.6h14.4M1418.4 963.4v14.4M1350.4 994h14.4M1357.6 986.8v14.4M1283.8 1004h14.4M1291 996.8v14.4M1256.9 1081.4h14.4M1264.1 1074.2v14.4M1389.5 963h14.4M1396.7 955.8v14.4M1447.6 968.5h14.4M1454.8 961.3v14.4M1397.1 960.8h14.4M1404.3 953.6v14.4M1445.4 969.4h14.4M1452.6 962.2v14.4M1368.2 962.1h14.4M1375.4 954.9v14.4M1533.4 966.5h14.4M1540.6 959.3v14.4M1540.9 972h14.4M1548.1 964.8v14.4M1527.1 970.1h14.4M1534.3 962.9v14.4M1525.3 964.3h14.4M1532.5 957.1v14.4M1453.7 970.2h14.4M1460.9 963v14.4M1319.1 1036h14.4M1326.3 1028.8v14.4M1319.4 1022.6h14.4M1326.6 1015.4v14.4M1363.3 1031.4h14.4M1370.5 1024.2v14.4M1266.4 1119.8h14.4M1273.6 1112.6v14.4M1360.1 1017.1h14.4M1367.3 1009.9v14.4M1318.1 1107.9h14.4M1325.3 1100.7v14.4M1388.4 1012.5h14.4M1395.6 1005.3v14.4M1364.7 1043.1h14.4M1371.9 1035.9v14.4M1395.3 1114.5h14.4M1402.5 1107.3v14.4M1358 1065.9h14.4M1365.2 1058.7v14.4M1379.3 1080.8h14.4M1386.5 1073.6v14.4M1314.1 1001.3h14.4M1321.3 994.1v14.4M1706.7 958.9h14.4M1713.9 951.7v14.4M1753.4 958.9h14.4M1760.6 951.7v14.4M1773.7 960.2h14.4M1780.9 953v14.4M1816.3 960.2h14.4M1823.5 953v14.4M1556.5 1002.5h14.4M1563.7 995.3v14.4M1586.9 985.7h14.4M1594.1 978.5v14.4M1416.4 1084.9h14.4M1423.6 1077.7v14.4M1191.1 962.3h14.4M1198.3 955.1v14.4M1193.1 993.8h14.4M1200.3 986.6v14.4M1268.2 966.9h14.4M1275.4 959.7v14.4M1276.3 985.7h14.4M1283.5 978.5v14.4"/>
<line x1="1261" y1="1658.3" x2="1261" y2="926" stroke="#000" stroke-width="4" stroke-dasharray="17.1 17.1"/>
<line x1="1128" y1="1159.8" x2="1861.2" y2="1159.8" stroke="#000" stroke-width="4" stroke-dasharray="17.05 17.05"/>
<line x1="1127.9" y1="925.5" x2="1127.9" y2="1658" stroke="#000" stroke-width="4"/>
<line x1="1127.9" y1="1658" x2="1907.9" y2="1658" stroke="#000" stroke-width="3.8"/>
<line x1="1118.8" y1="958.9" x2="1127.9" y2="958.9" stroke="#000" stroke-width="3.7"/>
<text transform="translate(1110.8,968.6)" font-size="23.3" text-anchor="end">1.00</text>
<line x1="1118.8" y1="1126.5" x2="1127.9" y2="1126.5" stroke="#000" stroke-width="3.7"/>
<text transform="translate(1110.8,1135.9)" font-size="23.3" text-anchor="end">0.75</text>
<line x1="1118.8" y1="1294.1" x2="1127.9" y2="1294.1" stroke="#000" stroke-width="3.7"/>
<text transform="translate(1110.8,1303.2)" font-size="23.3" text-anchor="end">0.50</text>
<line x1="1118.8" y1="1461.7" x2="1127.9" y2="1461.7" stroke="#000" stroke-width="3.7"/>
<text transform="translate(1110.8,1470.5)" font-size="23.3" text-anchor="end">0.25</text>
<line x1="1118.8" y1="1629.3" x2="1127.9" y2="1629.3" stroke="#000" stroke-width="3.7"/>
<text transform="translate(1110.8,1637.8)" font-size="23.3" text-anchor="end">0.00</text>
<line x1="1180" y1="1658" x2="1180" y2="1666.8" stroke="#000" stroke-width="3.8"/>
<text transform="translate(1178.6,1692.9)" font-size="23.3" text-anchor="middle">100</text>
<line x1="1261.1" y1="1658" x2="1261.1" y2="1666.8" stroke="#000" stroke-width="3.8"/>
<text transform="translate(1263.5,1692.9)" font-size="23.3" text-anchor="middle">250</text>
<line x1="1383" y1="1658" x2="1383" y2="1666.8" stroke="#000" stroke-width="3.8"/>
<text transform="translate(1383.9,1692.9)" font-size="23.3" text-anchor="middle">1,000</text>
<line x1="1586" y1="1658" x2="1586" y2="1666.8" stroke="#000" stroke-width="3.8"/>
<text transform="translate(1585.3,1692.9)" font-size="23.3" text-anchor="middle">10,000</text>
<text transform="translate(1518,1736.5)" font-size="28" text-anchor="middle">Measured NT50</text>
<text transform="translate(1046,1291.5) rotate(-90)" font-size="28" text-anchor="middle">Probability of NT50&gt;250</text>
<text transform="translate(1752.6,1478)" font-size="28">Predicted NT50</text>
<circle cx="1782.3" cy="1511.3" r="8.3" fill="#999"/>
<circle cx="1782.3" cy="1550.6" r="8.3" fill="#414487"/>
<text transform="translate(1807.6,1519.6)" font-size="28">&lt;250</text>
<text transform="translate(1807.6,1559.8)" font-size="28">&gt;250</text>
</g>
<g id="panel-f">
<text transform="translate(9.4,1824) scale(1.060,1)" font-size="31.3">f</text>
<rect x="490.8" y="1791.2" width="453.8" height="518.4" fill="#f7f7f7"/>
<path fill="#000" d="M565.8 2297.7a2.3 2.3 0 1 0 4.6 0a2.3 2.3 0 1 0 -4.6 0zM471.8 2364a2.3 2.3 0 1 0 4.6 0a2.3 2.3 0 1 0 -4.6 0zM584.4 2223.7a2.3 2.3 0 1 0 4.6 0a2.3 2.3 0 1 0 -4.6 0zM531 2240.2a2.3 2.3 0 1 0 4.6 0a2.3 2.3 0 1 0 -4.6 0zM373.3 2328.7a2.3 2.3 0 1 0 4.6 0a2.3 2.3 0 1 0 -4.6 0zM624.7 2253.6a2.3 2.3 0 1 0 4.6 0a2.3 2.3 0 1 0 -4.6 0zM517.3 2303.5a2.3 2.3 0 1 0 4.6 0a2.3 2.3 0 1 0 -4.6 0zM587.4 2207.9a2.3 2.3 0 1 0 4.6 0a2.3 2.3 0 1 0 -4.6 0zM706.4 2043a2.3 2.3 0 1 0 4.6 0a2.3 2.3 0 1 0 -4.6 0zM553.1 2207.8a2.3 2.3 0 1 0 4.6 0a2.3 2.3 0 1 0 -4.6 0zM421.8 2309.4a2.3 2.3 0 1 0 4.6 0a2.3 2.3 0 1 0 -4.6 0zM460.3 2364a2.3 2.3 0 1 0 4.6 0a2.3 2.3 0 1 0 -4.6 0zM626.2 2113.6a2.3 2.3 0 1 0 4.6 0a2.3 2.3 0 1 0 -4.6 0zM384.5 2342.5a2.3 2.3 0 1 0 4.6 0a2.3 2.3 0 1 0 -4.6 0zM552.6 2225.6a2.3 2.3 0 1 0 4.6 0a2.3 2.3 0 1 0 -4.6 0zM563.5 2259.5a2.3 2.3 0 1 0 4.6 0a2.3 2.3 0 1 0 -4.6 0zM414.4 2335.9a2.3 2.3 0 1 0 4.6 0a2.3 2.3 0 1 0 -4.6 0zM543.4 2261.9a2.3 2.3 0 1 0 4.6 0a2.3 2.3 0 1 0 -4.6 0zM581.2 2230.1a2.3 2.3 0 1 0 4.6 0a2.3 2.3 0 1 0 -4.6 0zM451.3 2354.4a2.3 2.3 0 1 0 4.6 0a2.3 2.3 0 1 0 -4.6 0zM479.9 2265.2a2.3 2.3 0 1 0 4.6 0a2.3 2.3 0 1 0 -4.6 0zM580 2166.3a2.3 2.3 0 1 0 4.6 0a2.3 2.3 0 1 0 -4.6 0zM399.9 2358.6a2.3 2.3 0 1 0 4.6 0a2.3 2.3 0 1 0 -4.6 0zM440.8 2356.1a2.3 2.3 0 1 0 4.6 0a2.3 2.3 0 1 0 -4.6 0zM620.1 2214.4a2.3 2.3 0 1 0 4.6 0a2.3 2.3 0 1 0 -4.6 0zM535.2 2267.9a2.3 2.3 0 1 0 4.6 0a2.3 2.3 0 1 0 -4.6 0zM388.4 2266.3a2.3 2.3 0 1 0 4.6 0a2.3 2.3 0 1 0 -4.6 0zM527.9 2266.4a2.3 2.3 0 1 0 4.6 0a2.3 2.3 0 1 0 -4.6 0zM716.6 1993.4a2.3 2.3 0 1 0 4.6 0a2.3 2.3 0 1 0 -4.6 0zM378.9 2364a2.3 2.3 0 1 0 4.6 0a2.3 2.3 0 1 0 -4.6 0zM606.6 2240.3a2.3 2.3 0 1 0 4.6 0a2.3 2.3 0 1 0 -4.6 0zM601 2230.4a2.3 2.3 0 1 0 4.6 0a2.3 2.3 0 1 0 -4.6 0zM509.6 2319.4a2.3 2.3 0 1 0 4.6 0a2.3 2.3 0 1 0 -4.6 0zM586 2189.4a2.3 2.3 0 1 0 4.6 0a2.3 2.3 0 1 0 -4.6 0zM461 2220.5a2.3 2.3 0 1 0 4.6 0a2.3 2.3 0 1 0 -4.6 0zM677.8 2156.2a2.3 2.3 0 1 0 4.6 0a2.3 2.3 0 1 0 -4.6 0zM695 2086.9a2.3 2.3 0 1 0 4.6 0a2.3 2.3 0 1 0 -4.6 0zM440.8 2249.2a2.3 2.3 0 1 0 4.6 0a2.3 2.3 0 1 0 -4.6 0zM506 2161.1a2.3 2.3 0 1 0 4.6 0a2.3 2.3 0 1 0 -4.6 0zM539.7 2238a2.3 2.3 0 1 0 4.6 0a2.3 2.3 0 1 0 -4.6 0zM465.7 2255.5a2.3 2.3 0 1 0 4.6 0a2.3 2.3 0 1 0 -4.6 0zM561.3 2162.4a2.3 2.3 0 1 0 4.6 0a2.3 2.3 0 1 0 -4.6 0zM425.4 2315.9a2.3 2.3 0 1 0 4.6 0a2.3 2.3 0 1 0 -4.6 0zM583.3 2179.2a2.3 2.3 0 1 0 4.6 0a2.3 2.3 0 1 0 -4.6 0zM497.5 2304.7a2.3 2.3 0 1 0 4.6 0a2.3 2.3 0 1 0 -4.6 0zM522.1 2308.1a2.3 2.3 0 1 0 4.6 0a2.3 2.3 0 1 0 -4.6 0zM572.9 2246.2a2.3 2.3 0 1 0 4.6 0a2.3 2.3 0 1 0 -4.6 0zM617.4 2118.2a2.3 2.3 0 1 0 4.6 0a2.3 2.3 0 1 0 -4.6 0zM430.7 2251.8a2.3 2.3 0 1 0 4.6 0a2.3 2.3 0 1 0 -4.6 0zM604 2175.3a2.3 2.3 0 1 0 4.6 0a2.3 2.3 0 1 0 -4.6 0zM612.8 2239.8a2.3 2.3 0 1 0 4.6 0a2.3 2.3 0 1 0 -4.6 0zM515.6 2209a2.3 2.3 0 1 0 4.6 0a2.3 2.3 0 1 0 -4.6 0zM677.1 2119.2a2.3 2.3 0 1 0 4.6 0a2.3 2.3 0 1 0 -4.6 0zM452.1 2234.7a2.3 2.3 0 1 0 4.6 0a2.3 2.3 0 1 0 -4.6 0zM473.5 2294.8a2.3 2.3 0 1 0 4.6 0a2.3 2.3 0 1 0 -4.6 0zM564.2 2281.3a2.3 2.3 0 1 0 4.6 0a2.3 2.3 0 1 0 -4.6 0zM460.3 2319.2a2.3 2.3 0 1 0 4.6 0a2.3 2.3 0 1 0 -4.6 0zM663 2165.1a2.3 2.3 0 1 0 4.6 0a2.3 2.3 0 1 0 -4.6 0zM546.2 2162.3a2.3 2.3 0 1 0 4.6 0a2.3 2.3 0 1 0 -4.6 0zM694.9 2214.6a2.3 2.3 0 1 0 4.6 0a2.3 2.3 0 1 0 -4.6 0zM423.8 2349.5a2.3 2.3 0 1 0 4.6 0a2.3 2.3 0 1 0 -4.6 0zM434 2331.5a2.3 2.3 0 1 0 4.6 0a2.3 2.3 0 1 0 -4.6 0zM657.4 2238.2a2.3 2.3 0 1 0 4.6 0a2.3 2.3 0 1 0 -4.6 0zM424.4 2298.8a2.3 2.3 0 1 0 4.6 0a2.3 2.3 0 1 0 -4.6 0zM632 2130.3a2.3 2.3 0 1 0 4.6 0a2.3 2.3 0 1 0 -4.6 0zM447.9 2268.1a2.3 2.3 0 1 0 4.6 0a2.3 2.3 0 1 0 -4.6 0zM552.7 2193.4a2.3 2.3 0 1 0 4.6 0a2.3 2.3 0 1 0 -4.6 0zM640.8 2157.3a2.3 2.3 0 1 0 4.6 0a2.3 2.3 0 1 0 -4.6 0zM521 2217.5a2.3 2.3 0 1 0 4.6 0a2.3 2.3 0 1 0 -4.6 0zM414.8 2345.9a2.3 2.3 0 1 0 4.6 0a2.3 2.3 0 1 0 -4.6 0zM479.2 2295.5a2.3 2.3 0 1 0 4.6 0a2.3 2.3 0 1 0 -4.6 0zM638.1 2144a2.3 2.3 0 1 0 4.6 0a2.3 2.3 0 1 0 -4.6 0zM545.9 2237.3a2.3 2.3 0 1 0 4.6 0a2.3 2.3 0 1 0 -4.6 0zM596.1 2168.7a2.3 2.3 0 1 0 4.6 0a2.3 2.3 0 1 0 -4.6 0zM535.4 2283.1a2.3 2.3 0 1 0 4.6 0a2.3 2.3 0 1 0 -4.6 0zM555.1 2238.4a2.3 2.3 0 1 0 4.6 0a2.3 2.3 0 1 0 -4.6 0zM508.6 2304.8a2.3 2.3 0 1 0 4.6 0a2.3 2.3 0 1 0 -4.6 0zM427.9 2315a2.3 2.3 0 1 0 4.6 0a2.3 2.3 0 1 0 -4.6 0zM580.3 2193.4a2.3 2.3 0 1 0 4.6 0a2.3 2.3 0 1 0 -4.6 0zM545.1 2278.9a2.3 2.3 0 1 0 4.6 0a2.3 2.3 0 1 0 -4.6 0zM527.8 2186.2a2.3 2.3 0 1 0 4.6 0a2.3 2.3 0 1 0 -4.6 0zM622.2 2073.7a2.3 2.3 0 1 0 4.6 0a2.3 2.3 0 1 0 -4.6 0zM716.1 2054.5a2.3 2.3 0 1 0 4.6 0a2.3 2.3 0 1 0 -4.6 0zM394.7 2327.1a2.3 2.3 0 1 0 4.6 0a2.3 2.3 0 1 0 -4.6 0zM538.2 2278.6a2.3 2.3 0 1 0 4.6 0a2.3 2.3 0 1 0 -4.6 0zM581.7 2215.5a2.3 2.3 0 1 0 4.6 0a2.3 2.3 0 1 0 -4.6 0zM601.3 2199.5a2.3 2.3 0 1 0 4.6 0a2.3 2.3 0 1 0 -4.6 0zM459 2270.6a2.3 2.3 0 1 0 4.6 0a2.3 2.3 0 1 0 -4.6 0zM577.2 2211.5a2.3 2.3 0 1 0 4.6 0a2.3 2.3 0 1 0 -4.6 0zM486.4 2258.5a2.3 2.3 0 1 0 4.6 0a2.3 2.3 0 1 0 -4.6 0zM522.8 2233.8a2.3 2.3 0 1 0 4.6 0a2.3 2.3 0 1 0 -4.6 0zM475.1 2321.8a2.3 2.3 0 1 0 4.6 0a2.3 2.3 0 1 0 -4.6 0zM557.3 2295.1a2.3 2.3 0 1 0 4.6 0a2.3 2.3 0 1 0 -4.6 0zM489.2 2350.3a2.3 2.3 0 1 0 4.6 0a2.3 2.3 0 1 0 -4.6 0zM556.7 2282.6a2.3 2.3 0 1 0 4.6 0a2.3 2.3 0 1 0 -4.6 0zM518.9 2266.5a2.3 2.3 0 1 0 4.6 0a2.3 2.3 0 1 0 -4.6 0zM616.7 2115.6a2.3 2.3 0 1 0 4.6 0a2.3 2.3 0 1 0 -4.6 0zM691.6 2149.8a2.3 2.3 0 1 0 4.6 0a2.3 2.3 0 1 0 -4.6 0zM519.5 2232.3a2.3 2.3 0 1 0 4.6 0a2.3 2.3 0 1 0 -4.6 0zM455.5 2314.5a2.3 2.3 0 1 0 4.6 0a2.3 2.3 0 1 0 -4.6 0zM504.7 2215.9a2.3 2.3 0 1 0 4.6 0a2.3 2.3 0 1 0 -4.6 0zM475 2186.5a2.3 2.3 0 1 0 4.6 0a2.3 2.3 0 1 0 -4.6 0zM365 2290.7a2.3 2.3 0 1 0 4.6 0a2.3 2.3 0 1 0 -4.6 0zM529.6 2238a2.3 2.3 0 1 0 4.6 0a2.3 2.3 0 1 0 -4.6 0zM479.2 2270.5a2.3 2.3 0 1 0 4.6 0a2.3 2.3 0 1 0 -4.6 0zM615.3 2109.8a2.3 2.3 0 1 0 4.6 0a2.3 2.3 0 1 0 -4.6 0zM514.6 2282.8a2.3 2.3 0 1 0 4.6 0a2.3 2.3 0 1 0 -4.6 0zM617.7 2210.6a2.3 2.3 0 1 0 4.6 0a2.3 2.3 0 1 0 -4.6 0zM602.1 2178.1a2.3 2.3 0 1 0 4.6 0a2.3 2.3 0 1 0 -4.6 0zM478.4 2215.8a2.3 2.3 0 1 0 4.6 0a2.3 2.3 0 1 0 -4.6 0zM494.9 2321.3a2.3 2.3 0 1 0 4.6 0a2.3 2.3 0 1 0 -4.6 0zM475.7 2241.3a2.3 2.3 0 1 0 4.6 0a2.3 2.3 0 1 0 -4.6 0zM482.7 2250.1a2.3 2.3 0 1 0 4.6 0a2.3 2.3 0 1 0 -4.6 0zM607.2 2192.7a2.3 2.3 0 1 0 4.6 0a2.3 2.3 0 1 0 -4.6 0zM476.2 2335.4a2.3 2.3 0 1 0 4.6 0a2.3 2.3 0 1 0 -4.6 0zM485.8 2364a2.3 2.3 0 1 0 4.6 0a2.3 2.3 0 1 0 -4.6 0zM448.1 2364a2.3 2.3 0 1 0 4.6 0a2.3 2.3 0 1 0 -4.6 0zM663.5 2121.4a2.3 2.3 0 1 0 4.6 0a2.3 2.3 0 1 0 -4.6 0zM491.4 2253.7a2.3 2.3 0 1 0 4.6 0a2.3 2.3 0 1 0 -4.6 0zM511.4 2302.8a2.3 2.3 0 1 0 4.6 0a2.3 2.3 0 1 0 -4.6 0zM441.8 2339.6a2.3 2.3 0 1 0 4.6 0a2.3 2.3 0 1 0 -4.6 0zM548.7 2275.4a2.3 2.3 0 1 0 4.6 0a2.3 2.3 0 1 0 -4.6 0zM449.4 2187.5a2.3 2.3 0 1 0 4.6 0a2.3 2.3 0 1 0 -4.6 0zM460.4 2364a2.3 2.3 0 1 0 4.6 0a2.3 2.3 0 1 0 -4.6 0zM364.8 2364a2.3 2.3 0 1 0 4.6 0a2.3 2.3 0 1 0 -4.6 0zM543.5 2190a2.3 2.3 0 1 0 4.6 0a2.3 2.3 0 1 0 -4.6 0zM599.2 2245.3a2.3 2.3 0 1 0 4.6 0a2.3 2.3 0 1 0 -4.6 0zM362.3 2295.8a2.3 2.3 0 1 0 4.6 0a2.3 2.3 0 1 0 -4.6 0zM540.8 2286.8a2.3 2.3 0 1 0 4.6 0a2.3 2.3 0 1 0 -4.6 0zM543 2192.7a2.3 2.3 0 1 0 4.6 0a2.3 2.3 0 1 0 -4.6 0zM427.7 2250.1a2.3 2.3 0 1 0 4.6 0a2.3 2.3 0 1 0 -4.6 0zM459.2 2328.5a2.3 2.3 0 1 0 4.6 0a2.3 2.3 0 1 0 -4.6 0zM421.9 2322.2a2.3 2.3 0 1 0 4.6 0a2.3 2.3 0 1 0 -4.6 0zM605 2235.5a2.3 2.3 0 1 0 4.6 0a2.3 2.3 0 1 0 -4.6 0zM626.6 2122.6a2.3 2.3 0 1 0 4.6 0a2.3 2.3 0 1 0 -4.6 0zM498.1 2301.7a2.3 2.3 0 1 0 4.6 0a2.3 2.3 0 1 0 -4.6 0zM672.7 2170.5a2.3 2.3 0 1 0 4.6 0a2.3 2.3 0 1 0 -4.6 0zM730 2048.2a2.3 2.3 0 1 0 4.6 0a2.3 2.3 0 1 0 -4.6 0zM479.2 2279.6a2.3 2.3 0 1 0 4.6 0a2.3 2.3 0 1 0 -4.6 0zM578.6 2213.7a2.3 2.3 0 1 0 4.6 0a2.3 2.3 0 1 0 -4.6 0zM505.9 2300.7a2.3 2.3 0 1 0 4.6 0a2.3 2.3 0 1 0 -4.6 0zM462.9 2257.1a2.3 2.3 0 1 0 4.6 0a2.3 2.3 0 1 0 -4.6 0zM479.7 2330.5a2.3 2.3 0 1 0 4.6 0a2.3 2.3 0 1 0 -4.6 0zM502 2326a2.3 2.3 0 1 0 4.6 0a2.3 2.3 0 1 0 -4.6 0zM399.6 2343.7a2.3 2.3 0 1 0 4.6 0a2.3 2.3 0 1 0 -4.6 0zM517 2243.4a2.3 2.3 0 1 0 4.6 0a2.3 2.3 0 1 0 -4.6 0zM603.5 2208a2.3 2.3 0 1 0 4.6 0a2.3 2.3 0 1 0 -4.6 0zM433.5 2349a2.3 2.3 0 1 0 4.6 0a2.3 2.3 0 1 0 -4.6 0zM474.6 2351.5a2.3 2.3 0 1 0 4.6 0a2.3 2.3 0 1 0 -4.6 0zM436.8 2356.1a2.3 2.3 0 1 0 4.6 0a2.3 2.3 0 1 0 -4.6 0zM562.8 2260.1a2.3 2.3 0 1 0 4.6 0a2.3 2.3 0 1 0 -4.6 0zM515.7 2171.8a2.3 2.3 0 1 0 4.6 0a2.3 2.3 0 1 0 -4.6 0zM616.8 2265.7a2.3 2.3 0 1 0 4.6 0a2.3 2.3 0 1 0 -4.6 0zM495.2 2313.1a2.3 2.3 0 1 0 4.6 0a2.3 2.3 0 1 0 -4.6 0zM382.4 2336.1a2.3 2.3 0 1 0 4.6 0a2.3 2.3 0 1 0 -4.6 0zM581.1 2254.2a2.3 2.3 0 1 0 4.6 0a2.3 2.3 0 1 0 -4.6 0zM496.9 2348.1a2.3 2.3 0 1 0 4.6 0a2.3 2.3 0 1 0 -4.6 0zM637.7 2129.7a2.3 2.3 0 1 0 4.6 0a2.3 2.3 0 1 0 -4.6 0zM596.2 2127.2a2.3 2.3 0 1 0 4.6 0a2.3 2.3 0 1 0 -4.6 0zM529 2203.7a2.3 2.3 0 1 0 4.6 0a2.3 2.3 0 1 0 -4.6 0zM452.5 2309.3a2.3 2.3 0 1 0 4.6 0a2.3 2.3 0 1 0 -4.6 0zM473.7 2323.4a2.3 2.3 0 1 0 4.6 0a2.3 2.3 0 1 0 -4.6 0zM651.9 2111.1a2.3 2.3 0 1 0 4.6 0a2.3 2.3 0 1 0 -4.6 0zM588 2286a2.3 2.3 0 1 0 4.6 0a2.3 2.3 0 1 0 -4.6 0zM439.3 2357.6a2.3 2.3 0 1 0 4.6 0a2.3 2.3 0 1 0 -4.6 0zM553.9 2162.2a2.3 2.3 0 1 0 4.6 0a2.3 2.3 0 1 0 -4.6 0zM625 2147.7a2.3 2.3 0 1 0 4.6 0a2.3 2.3 0 1 0 -4.6 0zM507.9 2270.2a2.3 2.3 0 1 0 4.6 0a2.3 2.3 0 1 0 -4.6 0zM699.2 2109.3a2.3 2.3 0 1 0 4.6 0a2.3 2.3 0 1 0 -4.6 0zM456.7 2327.3a2.3 2.3 0 1 0 4.6 0a2.3 2.3 0 1 0 -4.6 0zM731.7 2111.8a2.3 2.3 0 1 0 4.6 0a2.3 2.3 0 1 0 -4.6 0zM676 2092.6a2.3 2.3 0 1 0 4.6 0a2.3 2.3 0 1 0 -4.6 0zM576.9 2188.5a2.3 2.3 0 1 0 4.6 0a2.3 2.3 0 1 0 -4.6 0zM548.1 2214.6a2.3 2.3 0 1 0 4.6 0a2.3 2.3 0 1 0 -4.6 0zM529.4 2364a2.3 2.3 0 1 0 4.6 0a2.3 2.3 0 1 0 -4.6 0zM434.9 2253a2.3 2.3 0 1 0 4.6 0a2.3 2.3 0 1 0 -4.6 0zM622 2128.7a2.3 2.3 0 1 0 4.6 0a2.3 2.3 0 1 0 -4.6 0zM650.6 2066.4a2.3 2.3 0 1 0 4.6 0a2.3 2.3 0 1 0 -4.6 0zM602.9 2217.5a2.3 2.3 0 1 0 4.6 0a2.3 2.3 0 1 0 -4.6 0zM553.8 2344a2.3 2.3 0 1 0 4.6 0a2.3 2.3 0 1 0 -4.6 0zM536.7 2316.3a2.3 2.3 0 1 0 4.6 0a2.3 2.3 0 1 0 -4.6 0zM435.3 2361.3a2.3 2.3 0 1 0 4.6 0a2.3 2.3 0 1 0 -4.6 0zM462.2 2204.9a2.3 2.3 0 1 0 4.6 0a2.3 2.3 0 1 0 -4.6 0zM385.1 2364a2.3 2.3 0 1 0 4.6 0a2.3 2.3 0 1 0 -4.6 0zM573.6 2239.9a2.3 2.3 0 1 0 4.6 0a2.3 2.3 0 1 0 -4.6 0zM438.1 2265.7a2.3 2.3 0 1 0 4.6 0a2.3 2.3 0 1 0 -4.6 0zM608.2 2139.4a2.3 2.3 0 1 0 4.6 0a2.3 2.3 0 1 0 -4.6 0zM461.6 2257.2a2.3 2.3 0 1 0 4.6 0a2.3 2.3 0 1 0 -4.6 0zM665.2 2154.5a2.3 2.3 0 1 0 4.6 0a2.3 2.3 0 1 0 -4.6 0zM679.6 2024a2.3 2.3 0 1 0 4.6 0a2.3 2.3 0 1 0 -4.6 0zM676.1 2100.8a2.3 2.3 0 1 0 4.6 0a2.3 2.3 0 1 0 -4.6 0zM638.1 2198.8a2.3 2.3 0 1 0 4.6 0a2.3 2.3 0 1 0 -4.6 0zM496.6 2267.8a2.3 2.3 0 1 0 4.6 0a2.3 2.3 0 1 0 -4.6 0zM495.7 2360a2.3 2.3 0 1 0 4.6 0a2.3 2.3 0 1 0 -4.6 0zM454.3 2364a2.3 2.3 0 1 0 4.6 0a2.3 2.3 0 1 0 -4.6 0zM558.5 2264.8a2.3 2.3 0 1 0 4.6 0a2.3 2.3 0 1 0 -4.6 0zM690.2 2167.3a2.3 2.3 0 1 0 4.6 0a2.3 2.3 0 1 0 -4.6 0zM419.8 2348.1a2.3 2.3 0 1 0 4.6 0a2.3 2.3 0 1 0 -4.6 0zM763.1 2072.5a2.3 2.3 0 1 0 4.6 0a2.3 2.3 0 1 0 -4.6 0zM470.8 2325.6a2.3 2.3 0 1 0 4.6 0a2.3 2.3 0 1 0 -4.6 0zM412.1 2364a2.3 2.3 0 1 0 4.6 0a2.3 2.3 0 1 0 -4.6 0zM559.5 2173.6a2.3 2.3 0 1 0 4.6 0a2.3 2.3 0 1 0 -4.6 0zM631.5 2212.5a2.3 2.3 0 1 0 4.6 0a2.3 2.3 0 1 0 -4.6 0zM491.3 2320a2.3 2.3 0 1 0 4.6 0a2.3 2.3 0 1 0 -4.6 0zM426.5 2364a2.3 2.3 0 1 0 4.6 0a2.3 2.3 0 1 0 -4.6 0zM697.6 2130.7a2.3 2.3 0 1 0 4.6 0a2.3 2.3 0 1 0 -4.6 0zM418.7 2364a2.3 2.3 0 1 0 4.6 0a2.3 2.3 0 1 0 -4.6 0zM623.5 2064.3a2.3 2.3 0 1 0 4.6 0a2.3 2.3 0 1 0 -4.6 0zM541.1 2260.5a2.3 2.3 0 1 0 4.6 0a2.3 2.3 0 1 0 -4.6 0zM489.8 2252.9a2.3 2.3 0 1 0 4.6 0a2.3 2.3 0 1 0 -4.6 0zM530.9 2274.6a2.3 2.3 0 1 0 4.6 0a2.3 2.3 0 1 0 -4.6 0zM420 2364a2.3 2.3 0 1 0 4.6 0a2.3 2.3 0 1 0 -4.6 0zM417.6 2349.9a2.3 2.3 0 1 0 4.6 0a2.3 2.3 0 1 0 -4.6 0zM556.3 2266.8a2.3 2.3 0 1 0 4.6 0a2.3 2.3 0 1 0 -4.6 0zM424.8 2364a2.3 2.3 0 1 0 4.6 0a2.3 2.3 0 1 0 -4.6 0zM451 2304.7a2.3 2.3 0 1 0 4.6 0a2.3 2.3 0 1 0 -4.6 0zM668 2047.5a2.3 2.3 0 1 0 4.6 0a2.3 2.3 0 1 0 -4.6 0zM702.1 2086.9a2.3 2.3 0 1 0 4.6 0a2.3 2.3 0 1 0 -4.6 0zM634.6 2107.3a2.3 2.3 0 1 0 4.6 0a2.3 2.3 0 1 0 -4.6 0zM613.9 2113.7a2.3 2.3 0 1 0 4.6 0a2.3 2.3 0 1 0 -4.6 0zM501.8 2364a2.3 2.3 0 1 0 4.6 0a2.3 2.3 0 1 0 -4.6 0zM535.3 2156.4a2.3 2.3 0 1 0 4.6 0a2.3 2.3 0 1 0 -4.6 0zM454.2 2364a2.3 2.3 0 1 0 4.6 0a2.3 2.3 0 1 0 -4.6 0zM545.5 2150a2.3 2.3 0 1 0 4.6 0a2.3 2.3 0 1 0 -4.6 0zM548 2228.9a2.3 2.3 0 1 0 4.6 0a2.3 2.3 0 1 0 -4.6 0zM622.8 2139.7a2.3 2.3 0 1 0 4.6 0a2.3 2.3 0 1 0 -4.6 0zM409.2 2215.9a2.3 2.3 0 1 0 4.6 0a2.3 2.3 0 1 0 -4.6 0zM638.5 2102.3a2.3 2.3 0 1 0 4.6 0a2.3 2.3 0 1 0 -4.6 0zM473.5 2364a2.3 2.3 0 1 0 4.6 0a2.3 2.3 0 1 0 -4.6 0zM405.1 2364a2.3 2.3 0 1 0 4.6 0a2.3 2.3 0 1 0 -4.6 0zM500.7 2343.6a2.3 2.3 0 1 0 4.6 0a2.3 2.3 0 1 0 -4.6 0zM616.7 2125a2.3 2.3 0 1 0 4.6 0a2.3 2.3 0 1 0 -4.6 0zM524.7 2245.3a2.3 2.3 0 1 0 4.6 0a2.3 2.3 0 1 0 -4.6 0zM568.9 2174.9a2.3 2.3 0 1 0 4.6 0a2.3 2.3 0 1 0 -4.6 0zM439.6 2292.6a2.3 2.3 0 1 0 4.6 0a2.3 2.3 0 1 0 -4.6 0zM572.3 2156.1a2.3 2.3 0 1 0 4.6 0a2.3 2.3 0 1 0 -4.6 0zM621.7 2223.1a2.3 2.3 0 1 0 4.6 0a2.3 2.3 0 1 0 -4.6 0zM439.1 2364a2.3 2.3 0 1 0 4.6 0a2.3 2.3 0 1 0 -4.6 0zM566.6 2256.5a2.3 2.3 0 1 0 4.6 0a2.3 2.3 0 1 0 -4.6 0zM394.2 2293a2.3 2.3 0 1 0 4.6 0a2.3 2.3 0 1 0 -4.6 0zM547.8 2291.2a2.3 2.3 0 1 0 4.6 0a2.3 2.3 0 1 0 -4.6 0zM379.4 2364a2.3 2.3 0 1 0 4.6 0a2.3 2.3 0 1 0 -4.6 0zM565.1 2251.8a2.3 2.3 0 1 0 4.6 0a2.3 2.3 0 1 0 -4.6 0zM524.9 2227.6a2.3 2.3 0 1 0 4.6 0a2.3 2.3 0 1 0 -4.6 0zM415.9 2304a2.3 2.3 0 1 0 4.6 0a2.3 2.3 0 1 0 -4.6 0zM560.7 2245.8a2.3 2.3 0 1 0 4.6 0a2.3 2.3 0 1 0 -4.6 0zM429.3 2345a2.3 2.3 0 1 0 4.6 0a2.3 2.3 0 1 0 -4.6 0zM533.9 2359.5a2.3 2.3 0 1 0 4.6 0a2.3 2.3 0 1 0 -4.6 0zM436.4 2318.5a2.3 2.3 0 1 0 4.6 0a2.3 2.3 0 1 0 -4.6 0zM578 2118.8a2.3 2.3 0 1 0 4.6 0a2.3 2.3 0 1 0 -4.6 0zM471 2328.3a2.3 2.3 0 1 0 4.6 0a2.3 2.3 0 1 0 -4.6 0zM665.7 2050.7a2.3 2.3 0 1 0 4.6 0a2.3 2.3 0 1 0 -4.6 0zM570.3 2283.9a2.3 2.3 0 1 0 4.6 0a2.3 2.3 0 1 0 -4.6 0zM578.4 2235.3a2.3 2.3 0 1 0 4.6 0a2.3 2.3 0 1 0 -4.6 0zM396.1 2360.1a2.3 2.3 0 1 0 4.6 0a2.3 2.3 0 1 0 -4.6 0zM448.4 2315.8a2.3 2.3 0 1 0 4.6 0a2.3 2.3 0 1 0 -4.6 0zM703.2 2189.7a2.3 2.3 0 1 0 4.6 0a2.3 2.3 0 1 0 -4.6 0zM434.6 2261.9a2.3 2.3 0 1 0 4.6 0a2.3 2.3 0 1 0 -4.6 0zM645.8 2170.4a2.3 2.3 0 1 0 4.6 0a2.3 2.3 0 1 0 -4.6 0zM649.3 2259.8a2.3 2.3 0 1 0 4.6 0a2.3 2.3 0 1 0 -4.6 0zM469.6 2276a2.3 2.3 0 1 0 4.6 0a2.3 2.3 0 1 0 -4.6 0zM506 2278.5a2.3 2.3 0 1 0 4.6 0a2.3 2.3 0 1 0 -4.6 0zM654.4 2211.3a2.3 2.3 0 1 0 4.6 0a2.3 2.3 0 1 0 -4.6 0zM501.7 2295.5a2.3 2.3 0 1 0 4.6 0a2.3 2.3 0 1 0 -4.6 0zM487 2260.4a2.3 2.3 0 1 0 4.6 0a2.3 2.3 0 1 0 -4.6 0zM470.5 2272.6a2.3 2.3 0 1 0 4.6 0a2.3 2.3 0 1 0 -4.6 0zM533.8 2241.5a2.3 2.3 0 1 0 4.6 0a2.3 2.3 0 1 0 -4.6 0zM516 2308.1a2.3 2.3 0 1 0 4.6 0a2.3 2.3 0 1 0 -4.6 0zM647.4 2137.4a2.3 2.3 0 1 0 4.6 0a2.3 2.3 0 1 0 -4.6 0zM549.9 2177.6a2.3 2.3 0 1 0 4.6 0a2.3 2.3 0 1 0 -4.6 0zM642 2046.4a2.3 2.3 0 1 0 4.6 0a2.3 2.3 0 1 0 -4.6 0zM516.4 2240.4a2.3 2.3 0 1 0 4.6 0a2.3 2.3 0 1 0 -4.6 0zM771.4 1992.8a2.3 2.3 0 1 0 4.6 0a2.3 2.3 0 1 0 -4.6 0zM515.5 2223.1a2.3 2.3 0 1 0 4.6 0a2.3 2.3 0 1 0 -4.6 0zM512.7 2286.9a2.3 2.3 0 1 0 4.6 0a2.3 2.3 0 1 0 -4.6 0zM449 2364a2.3 2.3 0 1 0 4.6 0a2.3 2.3 0 1 0 -4.6 0zM362.1 2364a2.3 2.3 0 1 0 4.6 0a2.3 2.3 0 1 0 -4.6 0zM442.4 2325.4a2.3 2.3 0 1 0 4.6 0a2.3 2.3 0 1 0 -4.6 0zM547.8 2232.3a2.3 2.3 0 1 0 4.6 0a2.3 2.3 0 1 0 -4.6 0zM430.3 2323.6a2.3 2.3 0 1 0 4.6 0a2.3 2.3 0 1 0 -4.6 0zM607.9 2228.1a2.3 2.3 0 1 0 4.6 0a2.3 2.3 0 1 0 -4.6 0zM368.2 2364a2.3 2.3 0 1 0 4.6 0a2.3 2.3 0 1 0 -4.6 0zM363.9 2364a2.3 2.3 0 1 0 4.6 0a2.3 2.3 0 1 0 -4.6 0zM556.9 2288.8a2.3 2.3 0 1 0 4.6 0a2.3 2.3 0 1 0 -4.6 0zM564.4 2281.3a2.3 2.3 0 1 0 4.6 0a2.3 2.3 0 1 0 -4.6 0zM417 2364a2.3 2.3 0 1 0 4.6 0a2.3 2.3 0 1 0 -4.6 0zM632.7 2196.9a2.3 2.3 0 1 0 4.6 0a2.3 2.3 0 1 0 -4.6 0zM662.4 2147.4a2.3 2.3 0 1 0 4.6 0a2.3 2.3 0 1 0 -4.6 0zM562.6 2279.6a2.3 2.3 0 1 0 4.6 0a2.3 2.3 0 1 0 -4.6 0zM402.1 2364a2.3 2.3 0 1 0 4.6 0a2.3 2.3 0 1 0 -4.6 0zM648.9 2163.9a2.3 2.3 0 1 0 4.6 0a2.3 2.3 0 1 0 -4.6 0zM499.6 2363.1a2.3 2.3 0 1 0 4.6 0a2.3 2.3 0 1 0 -4.6 0zM510.4 2331a2.3 2.3 0 1 0 4.6 0a2.3 2.3 0 1 0 -4.6 0zM574.7 2284.8a2.3 2.3 0 1 0 4.6 0a2.3 2.3 0 1 0 -4.6 0zM459.8 2307.3a2.3 2.3 0 1 0 4.6 0a2.3 2.3 0 1 0 -4.6 0zM674.9 2201.7a2.3 2.3 0 1 0 4.6 0a2.3 2.3 0 1 0 -4.6 0zM467.1 2325.5a2.3 2.3 0 1 0 4.6 0a2.3 2.3 0 1 0 -4.6 0zM631.6 2287.1a2.3 2.3 0 1 0 4.6 0a2.3 2.3 0 1 0 -4.6 0zM603.1 2124.5a2.3 2.3 0 1 0 4.6 0a2.3 2.3 0 1 0 -4.6 0zM700.4 2092.9a2.3 2.3 0 1 0 4.6 0a2.3 2.3 0 1 0 -4.6 0zM577.1 2275a2.3 2.3 0 1 0 4.6 0a2.3 2.3 0 1 0 -4.6 0zM612.2 2203.8a2.3 2.3 0 1 0 4.6 0a2.3 2.3 0 1 0 -4.6 0zM490.2 2218.2a2.3 2.3 0 1 0 4.6 0a2.3 2.3 0 1 0 -4.6 0zM505.8 2293.1a2.3 2.3 0 1 0 4.6 0a2.3 2.3 0 1 0 -4.6 0zM469.6 2364a2.3 2.3 0 1 0 4.6 0a2.3 2.3 0 1 0 -4.6 0zM602.4 2207.9a2.3 2.3 0 1 0 4.6 0a2.3 2.3 0 1 0 -4.6 0zM465.7 2343.9a2.3 2.3 0 1 0 4.6 0a2.3 2.3 0 1 0 -4.6 0zM676.4 2109.4a2.3 2.3 0 1 0 4.6 0a2.3 2.3 0 1 0 -4.6 0zM518.8 2272.2a2.3 2.3 0 1 0 4.6 0a2.3 2.3 0 1 0 -4.6 0zM414.3 2364a2.3 2.3 0 1 0 4.6 0a2.3 2.3 0 1 0 -4.6 0zM465.1 2303a2.3 2.3 0 1 0 4.6 0a2.3 2.3 0 1 0 -4.6 0zM643 2112.7a2.3 2.3 0 1 0 4.6 0a2.3 2.3 0 1 0 -4.6 0zM483.3 2234.8a2.3 2.3 0 1 0 4.6 0a2.3 2.3 0 1 0 -4.6 0zM587.9 2193.4a2.3 2.3 0 1 0 4.6 0a2.3 2.3 0 1 0 -4.6 0zM377.2 2254.1a2.3 2.3 0 1 0 4.6 0a2.3 2.3 0 1 0 -4.6 0zM574.5 2148.9a2.3 2.3 0 1 0 4.6 0a2.3 2.3 0 1 0 -4.6 0zM606.2 2152.6a2.3 2.3 0 1 0 4.6 0a2.3 2.3 0 1 0 -4.6 0zM580.6 2137.1a2.3 2.3 0 1 0 4.6 0a2.3 2.3 0 1 0 -4.6 0zM608 2314.9a2.3 2.3 0 1 0 4.6 0a2.3 2.3 0 1 0 -4.6 0zM436.2 2257.6a2.3 2.3 0 1 0 4.6 0a2.3 2.3 0 1 0 -4.6 0zM371.4 2274.3a2.3 2.3 0 1 0 4.6 0a2.3 2.3 0 1 0 -4.6 0zM405 2337.9a2.3 2.3 0 1 0 4.6 0a2.3 2.3 0 1 0 -4.6 0zM614.2 2140.9a2.3 2.3 0 1 0 4.6 0a2.3 2.3 0 1 0 -4.6 0zM571.9 2254.3a2.3 2.3 0 1 0 4.6 0a2.3 2.3 0 1 0 -4.6 0zM611.1 2193.3a2.3 2.3 0 1 0 4.6 0a2.3 2.3 0 1 0 -4.6 0zM478.9 2310.8a2.3 2.3 0 1 0 4.6 0a2.3 2.3 0 1 0 -4.6 0zM611.7 2236.9a2.3 2.3 0 1 0 4.6 0a2.3 2.3 0 1 0 -4.6 0zM383.8 2352.6a2.3 2.3 0 1 0 4.6 0a2.3 2.3 0 1 0 -4.6 0zM573.8 2308.6a2.3 2.3 0 1 0 4.6 0a2.3 2.3 0 1 0 -4.6 0zM433.3 2328.2a2.3 2.3 0 1 0 4.6 0a2.3 2.3 0 1 0 -4.6 0zM492.6 2210.7a2.3 2.3 0 1 0 4.6 0a2.3 2.3 0 1 0 -4.6 0zM598.3 2102.2a2.3 2.3 0 1 0 4.6 0a2.3 2.3 0 1 0 -4.6 0zM619.7 2178.1a2.3 2.3 0 1 0 4.6 0a2.3 2.3 0 1 0 -4.6 0zM519.6 2183a2.3 2.3 0 1 0 4.6 0a2.3 2.3 0 1 0 -4.6 0zM500.7 2267.3a2.3 2.3 0 1 0 4.6 0a2.3 2.3 0 1 0 -4.6 0zM666.6 2197a2.3 2.3 0 1 0 4.6 0a2.3 2.3 0 1 0 -4.6 0zM636.4 2192.3a2.3 2.3 0 1 0 4.6 0a2.3 2.3 0 1 0 -4.6 0zM470.2 2308.1a2.3 2.3 0 1 0 4.6 0a2.3 2.3 0 1 0 -4.6 0zM564.5 2229a2.3 2.3 0 1 0 4.6 0a2.3 2.3 0 1 0 -4.6 0zM516 2240.5a2.3 2.3 0 1 0 4.6 0a2.3 2.3 0 1 0 -4.6 0zM630.6 2201.5a2.3 2.3 0 1 0 4.6 0a2.3 2.3 0 1 0 -4.6 0zM581.2 2232.7a2.3 2.3 0 1 0 4.6 0a2.3 2.3 0 1 0 -4.6 0zM579.2 2161.8a2.3 2.3 0 1 0 4.6 0a2.3 2.3 0 1 0 -4.6 0zM546.5 2237.3a2.3 2.3 0 1 0 4.6 0a2.3 2.3 0 1 0 -4.6 0zM485.4 2277.2a2.3 2.3 0 1 0 4.6 0a2.3 2.3 0 1 0 -4.6 0zM644.2 2155.4a2.3 2.3 0 1 0 4.6 0a2.3 2.3 0 1 0 -4.6 0zM577.7 2178.9a2.3 2.3 0 1 0 4.6 0a2.3 2.3 0 1 0 -4.6 0zM501.2 2247.4a2.3 2.3 0 1 0 4.6 0a2.3 2.3 0 1 0 -4.6 0zM563.9 2265.4a2.3 2.3 0 1 0 4.6 0a2.3 2.3 0 1 0 -4.6 0zM466.4 2247.5a2.3 2.3 0 1 0 4.6 0a2.3 2.3 0 1 0 -4.6 0zM448.6 2344.2a2.3 2.3 0 1 0 4.6 0a2.3 2.3 0 1 0 -4.6 0zM476.4 2282.5a2.3 2.3 0 1 0 4.6 0a2.3 2.3 0 1 0 -4.6 0zM571.8 2233.6a2.3 2.3 0 1 0 4.6 0a2.3 2.3 0 1 0 -4.6 0zM445.4 2279.5a2.3 2.3 0 1 0 4.6 0a2.3 2.3 0 1 0 -4.6 0zM573.3 2202.8a2.3 2.3 0 1 0 4.6 0a2.3 2.3 0 1 0 -4.6 0zM669.5 2098.5a2.3 2.3 0 1 0 4.6 0a2.3 2.3 0 1 0 -4.6 0zM629.8 2157.2a2.3 2.3 0 1 0 4.6 0a2.3 2.3 0 1 0 -4.6 0zM633.4 2166.5a2.3 2.3 0 1 0 4.6 0a2.3 2.3 0 1 0 -4.6 0zM517.4 2258.8a2.3 2.3 0 1 0 4.6 0a2.3 2.3 0 1 0 -4.6 0zM652.8 2143.3a2.3 2.3 0 1 0 4.6 0a2.3 2.3 0 1 0 -4.6 0zM540.1 2289.4a2.3 2.3 0 1 0 4.6 0a2.3 2.3 0 1 0 -4.6 0zM623.7 2247.9a2.3 2.3 0 1 0 4.6 0a2.3 2.3 0 1 0 -4.6 0zM428.3 2293.1a2.3 2.3 0 1 0 4.6 0a2.3 2.3 0 1 0 -4.6 0zM659.2 2072.5a2.3 2.3 0 1 0 4.6 0a2.3 2.3 0 1 0 -4.6 0zM481.5 2346a2.3 2.3 0 1 0 4.6 0a2.3 2.3 0 1 0 -4.6 0zM540.9 2221.8a2.3 2.3 0 1 0 4.6 0a2.3 2.3 0 1 0 -4.6 0zM640.1 2185.2a2.3 2.3 0 1 0 4.6 0a2.3 2.3 0 1 0 -4.6 0zM537.7 2241a2.3 2.3 0 1 0 4.6 0a2.3 2.3 0 1 0 -4.6 0zM491.9 2248.8a2.3 2.3 0 1 0 4.6 0a2.3 2.3 0 1 0 -4.6 0zM521.6 2247a2.3 2.3 0 1 0 4.6 0a2.3 2.3 0 1 0 -4.6 0zM643.3 2163.6a2.3 2.3 0 1 0 4.6 0a2.3 2.3 0 1 0 -4.6 0zM644.7 2247.7a2.3 2.3 0 1 0 4.6 0a2.3 2.3 0 1 0 -4.6 0zM601.4 2201.5a2.3 2.3 0 1 0 4.6 0a2.3 2.3 0 1 0 -4.6 0zM475.7 2301.8a2.3 2.3 0 1 0 4.6 0a2.3 2.3 0 1 0 -4.6 0zM497.2 2226.8a2.3 2.3 0 1 0 4.6 0a2.3 2.3 0 1 0 -4.6 0zM600 2227.4a2.3 2.3 0 1 0 4.6 0a2.3 2.3 0 1 0 -4.6 0zM608.4 2190a2.3 2.3 0 1 0 4.6 0a2.3 2.3 0 1 0 -4.6 0zM466.8 2294.8a2.3 2.3 0 1 0 4.6 0a2.3 2.3 0 1 0 -4.6 0zM467.9 2241.2a2.3 2.3 0 1 0 4.6 0a2.3 2.3 0 1 0 -4.6 0zM603.1 2249.4a2.3 2.3 0 1 0 4.6 0a2.3 2.3 0 1 0 -4.6 0zM641.3 2113.1a2.3 2.3 0 1 0 4.6 0a2.3 2.3 0 1 0 -4.6 0zM543.4 2250.6a2.3 2.3 0 1 0 4.6 0a2.3 2.3 0 1 0 -4.6 0zM420 2357.7a2.3 2.3 0 1 0 4.6 0a2.3 2.3 0 1 0 -4.6 0zM689.4 2177.9a2.3 2.3 0 1 0 4.6 0a2.3 2.3 0 1 0 -4.6 0zM538.8 2298.3a2.3 2.3 0 1 0 4.6 0a2.3 2.3 0 1 0 -4.6 0zM580 2170.3a2.3 2.3 0 1 0 4.6 0a2.3 2.3 0 1 0 -4.6 0zM464 2331.8a2.3 2.3 0 1 0 4.6 0a2.3 2.3 0 1 0 -4.6 0zM515.2 2319.4a2.3 2.3 0 1 0 4.6 0a2.3 2.3 0 1 0 -4.6 0zM563.3 2247.4a2.3 2.3 0 1 0 4.6 0a2.3 2.3 0 1 0 -4.6 0zM446.4 2246.8a2.3 2.3 0 1 0 4.6 0a2.3 2.3 0 1 0 -4.6 0zM424.5 2364a2.3 2.3 0 1 0 4.6 0a2.3 2.3 0 1 0 -4.6 0zM448.8 2364a2.3 2.3 0 1 0 4.6 0a2.3 2.3 0 1 0 -4.6 0zM371.6 2364a2.3 2.3 0 1 0 4.6 0a2.3 2.3 0 1 0 -4.6 0zM357 2364a2.3 2.3 0 1 0 4.6 0a2.3 2.3 0 1 0 -4.6 0zM437 2364a2.3 2.3 0 1 0 4.6 0a2.3 2.3 0 1 0 -4.6 0zM355.3 2364a2.3 2.3 0 1 0 4.6 0a2.3 2.3 0 1 0 -4.6 0zM373.3 2364a2.3 2.3 0 1 0 4.6 0a2.3 2.3 0 1 0 -4.6 0zM435.4 2364a2.3 2.3 0 1 0 4.6 0a2.3 2.3 0 1 0 -4.6 0zM365.8 2364a2.3 2.3 0 1 0 4.6 0a2.3 2.3 0 1 0 -4.6 0zM335.9 2364a2.3 2.3 0 1 0 4.6 0a2.3 2.3 0 1 0 -4.6 0zM359 2364a2.3 2.3 0 1 0 4.6 0a2.3 2.3 0 1 0 -4.6 0zM357.7 2364a2.3 2.3 0 1 0 4.6 0a2.3 2.3 0 1 0 -4.6 0zM332.9 2364a2.3 2.3 0 1 0 4.6 0a2.3 2.3 0 1 0 -4.6 0zM347.5 2364a2.3 2.3 0 1 0 4.6 0a2.3 2.3 0 1 0 -4.6 0zM399.5 2364a2.3 2.3 0 1 0 4.6 0a2.3 2.3 0 1 0 -4.6 0zM444.9 2364a2.3 2.3 0 1 0 4.6 0a2.3 2.3 0 1 0 -4.6 0zM311.9 2364a2.3 2.3 0 1 0 4.6 0a2.3 2.3 0 1 0 -4.6 0zM365.7 2364a2.3 2.3 0 1 0 4.6 0a2.3 2.3 0 1 0 -4.6 0zM425.8 2364a2.3 2.3 0 1 0 4.6 0a2.3 2.3 0 1 0 -4.6 0zM330.2 2364a2.3 2.3 0 1 0 4.6 0a2.3 2.3 0 1 0 -4.6 0zM351.7 2364a2.3 2.3 0 1 0 4.6 0a2.3 2.3 0 1 0 -4.6 0zM375.2 2364a2.3 2.3 0 1 0 4.6 0a2.3 2.3 0 1 0 -4.6 0zM322.1 2364a2.3 2.3 0 1 0 4.6 0a2.3 2.3 0 1 0 -4.6 0zM337.4 2364a2.3 2.3 0 1 0 4.6 0a2.3 2.3 0 1 0 -4.6 0zM410.8 2364a2.3 2.3 0 1 0 4.6 0a2.3 2.3 0 1 0 -4.6 0zM387.7 2364a2.3 2.3 0 1 0 4.6 0a2.3 2.3 0 1 0 -4.6 0zM323.7 2364a2.3 2.3 0 1 0 4.6 0a2.3 2.3 0 1 0 -4.6 0zM322.2 2364a2.3 2.3 0 1 0 4.6 0a2.3 2.3 0 1 0 -4.6 0zM317.6 2364a2.3 2.3 0 1 0 4.6 0a2.3 2.3 0 1 0 -4.6 0zM325.1 2364a2.3 2.3 0 1 0 4.6 0a2.3 2.3 0 1 0 -4.6 0zM230.4 2364a2.3 2.3 0 1 0 4.6 0a2.3 2.3 0 1 0 -4.6 0zM262.9 2364a2.3 2.3 0 1 0 4.6 0a2.3 2.3 0 1 0 -4.6 0zM282.5 2364a2.3 2.3 0 1 0 4.6 0a2.3 2.3 0 1 0 -4.6 0zM287.4 2364a2.3 2.3 0 1 0 4.6 0a2.3 2.3 0 1 0 -4.6 0zM295.5 2364a2.3 2.3 0 1 0 4.6 0a2.3 2.3 0 1 0 -4.6 0zM595.3 1932.8a2.3 2.3 0 1 0 4.6 0a2.3 2.3 0 1 0 -4.6 0zM666.9 1961.3a2.3 2.3 0 1 0 4.6 0a2.3 2.3 0 1 0 -4.6 0zM673.4 1973.5a2.3 2.3 0 1 0 4.6 0a2.3 2.3 0 1 0 -4.6 0zM680 1965.3a2.3 2.3 0 1 0 4.6 0a2.3 2.3 0 1 0 -4.6 0zM715.8 1985.7a2.3 2.3 0 1 0 4.6 0a2.3 2.3 0 1 0 -4.6 0zM676.7 2003.3a2.3 2.3 0 1 0 4.6 0a2.3 2.3 0 1 0 -4.6 0zM699.5 2006a2.3 2.3 0 1 0 4.6 0a2.3 2.3 0 1 0 -4.6 0zM702.8 2015.5a2.3 2.3 0 1 0 4.6 0a2.3 2.3 0 1 0 -4.6 0zM706 2019.6a2.3 2.3 0 1 0 4.6 0a2.3 2.3 0 1 0 -4.6 0zM559.4 2023.6a2.3 2.3 0 1 0 4.6 0a2.3 2.3 0 1 0 -4.6 0zM575.7 2015.5a2.3 2.3 0 1 0 4.6 0a2.3 2.3 0 1 0 -4.6 0zM751.6 2136.2a2.3 2.3 0 1 0 4.6 0a2.3 2.3 0 1 0 -4.6 0zM787.5 2132.1a2.3 2.3 0 1 0 4.6 0a2.3 2.3 0 1 0 -4.6 0zM631.1 2052.1a2.3 2.3 0 1 0 4.6 0a2.3 2.3 0 1 0 -4.6 0zM556.2 2347.7a2.3 2.3 0 1 0 4.6 0a2.3 2.3 0 1 0 -4.6 0zM572.5 2364a2.3 2.3 0 1 0 4.6 0a2.3 2.3 0 1 0 -4.6 0zM663.7 2353.2a2.3 2.3 0 1 0 4.6 0a2.3 2.3 0 1 0 -4.6 0zM295.5 2317.9a2.3 2.3 0 1 0 4.6 0a2.3 2.3 0 1 0 -4.6 0z"/>
<line x1="491.4" y1="2462" x2="491.4" y2="1793" stroke="#000" stroke-width="4.1" stroke-dasharray="17.1 17.1"/>
<line x1="205.1" y1="2310" x2="941.8" y2="2310" stroke="#000" stroke-width="4" stroke-dasharray="17.1 17.1"/>
<line x1="205.1" y1="1797.2" x2="205.1" y2="2462.9" stroke="#000" stroke-width="3.9"/>
<line x1="205.1" y1="2462.9" x2="944.6" y2="2462.9" stroke="#000" stroke-width="3.9"/>
<line x1="197.9" y1="1821.9" x2="205.1" y2="1821.9" stroke="#000" stroke-width="3.7"/>
<text transform="translate(192,1833.1)" font-size="23.3" text-anchor="end">1,000,000</text>
<line x1="197.9" y1="2092.8" x2="205.1" y2="2092.8" stroke="#000" stroke-width="3.7"/>
<text transform="translate(192,2103.5)" font-size="23.3" text-anchor="end">10,000</text>
<line x1="197.9" y1="2228.5" x2="205.1" y2="2228.5" stroke="#000" stroke-width="3.7"/>
<text transform="translate(192,2237.6)" font-size="23.3" text-anchor="end">1,000</text>
<line x1="197.9" y1="2310" x2="205.1" y2="2310" stroke="#000" stroke-width="3.7"/>
<text transform="translate(192,2318)" font-size="23.3" text-anchor="end">250</text>
<line x1="197.9" y1="2364" x2="205.1" y2="2364" stroke="#000" stroke-width="3.7"/>
<text transform="translate(192,2370.5)" font-size="23.3" text-anchor="end">100</text>
<line x1="330.4" y1="2462.9" x2="330.4" y2="2469.6" stroke="#000" stroke-width="4"/>
<text transform="translate(330.4,2492.9)" font-size="23.3" text-anchor="middle">1</text>
<line x1="493.4" y1="2462.9" x2="493.4" y2="2469.6" stroke="#000" stroke-width="4"/>
<text transform="translate(490.4,2492.9)" font-size="23.3" text-anchor="middle">10</text>
<line x1="656.3" y1="2462.9" x2="656.3" y2="2469.6" stroke="#000" stroke-width="4"/>
<text transform="translate(650.6,2492.9)" font-size="23.3" text-anchor="middle">100</text>
<text transform="translate(574.8,2535.2)" font-size="28" text-anchor="middle">Sum S1 SOCs</text>
<text transform="translate(78.9,2129.4) rotate(-90)" font-size="28" text-anchor="middle">Neutralization titer (NT50)</text>
</g>
</svg>
</body></html>
